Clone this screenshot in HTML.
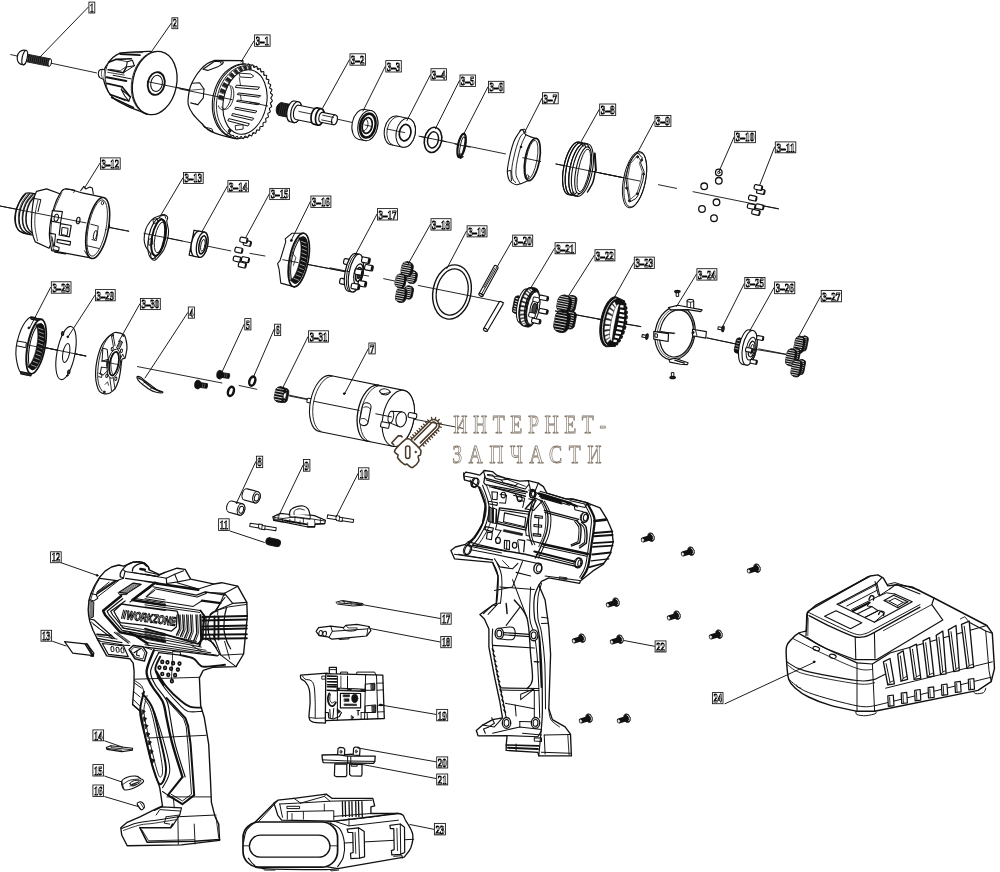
<!DOCTYPE html>
<html><head><meta charset="utf-8"><title>Parts diagram</title>
<style>
html,body{margin:0;padding:0;background:#fff;}
body{width:1000px;height:872px;overflow:hidden;font-family:"Liberation Sans",sans-serif;}
svg{display:block}
.lb{font-family:"Liberation Serif",serif;font-weight:bold;fill:#fff;stroke:#000;stroke-width:0.9px}
.wm{font-family:"Liberation Serif",serif;fill:#fff;stroke:#84786b;stroke-width:0.75px}
</style></head><body>
<svg width="1000" height="872" viewBox="0 0 1000 872" stroke-linecap="round" stroke-linejoin="round">
<rect x="0" y="0" width="1000" height="872" fill="#fff"/>
<defs><filter id="nf" x="0" y="0" width="1" height="1" filterUnits="objectBoundingBox"><feOffset dx="0" dy="0"/></filter></defs><line x1="10.7" y1="54.6" x2="96.5" y2="72.9" stroke="#111" stroke-width="0.9" />
<line x1="156.4" y1="83.3" x2="267.7" y2="106" stroke="#111" stroke-width="0.9" />
<line x1="300.5" y1="111" x2="368.6" y2="126.1" stroke="#111" stroke-width="0.9" />
<line x1="387.5" y1="130" x2="403.9" y2="132.4" stroke="#111" stroke-width="0.9" />
<line x1="419" y1="136.2" x2="505.5" y2="153.9" stroke="#111" stroke-width="0.9" />
<line x1="522.7" y1="157.7" x2="540.4" y2="161.5" stroke="#111" stroke-width="0.9" />
<line x1="556" y1="164" x2="640" y2="181.1" stroke="#111" stroke-width="0.9" />
<line x1="658.4" y1="184.7" x2="676.6" y2="188.4" stroke="#111" stroke-width="0.9" />
<line x1="693" y1="191.7" x2="778.3" y2="208.9" stroke="#111" stroke-width="0.9" />
<line x1="0" y1="206" x2="128.7" y2="231.2" stroke="#111" stroke-width="0.9" />
<line x1="166.5" y1="237.8" x2="230.8" y2="250.9" stroke="#111" stroke-width="0.9" />
<line x1="250" y1="253.4" x2="265" y2="256" stroke="#111" stroke-width="0.9" />
<line x1="282.8" y1="259.7" x2="368.6" y2="276.1" stroke="#111" stroke-width="0.9" />
<line x1="383.7" y1="278.7" x2="401.4" y2="282.4" stroke="#111" stroke-width="0.9" />
<line x1="418.5" y1="285.5" x2="503.8" y2="302.6" stroke="#111" stroke-width="0.9" />
<line x1="555.5" y1="311" x2="640.8" y2="326.6" stroke="#111" stroke-width="0.9" />
<line x1="661.5" y1="331.6" x2="674" y2="333.7" stroke="#111" stroke-width="0.9" />
<line x1="706.9" y1="337.9" x2="737.1" y2="344.2" stroke="#111" stroke-width="0.9" />
<line x1="755" y1="349.3" x2="787.8" y2="354.8" stroke="#111" stroke-width="0.9" />
<line x1="45.4" y1="347.7" x2="85.8" y2="356" stroke="#111" stroke-width="0.9" />
<line x1="137.5" y1="366.6" x2="222" y2="383" stroke="#111" stroke-width="0.9" />
<line x1="239.1" y1="385.5" x2="256.8" y2="389.3" stroke="#111" stroke-width="0.9" />
<line x1="289.6" y1="396.1" x2="361.5" y2="410.2" stroke="#111" stroke-width="0.9" />
<line x1="376.6" y1="412.7" x2="386.7" y2="414.5" stroke="#111" stroke-width="0.9" />
<line x1="411.9" y1="418.8" x2="463.2" y2="428.4" stroke="#111" stroke-width="0.9" />
<g transform="translate(38.5 60.2) rotate(11.39)" >
<path d="M-10.5,-3.7 L11.5,-3.7 L11.5,3.9 L-10.5,3.9Z" fill="#111" stroke="#111" stroke-width="0.8" />
<line x1="-9" y1="-3.3" x2="-9" y2="3.5" stroke="#666" stroke-width="0.5" />
<line x1="-7" y1="-3.3" x2="-7" y2="3.5" stroke="#666" stroke-width="0.5" />
<line x1="-5" y1="-3.3" x2="-5" y2="3.5" stroke="#666" stroke-width="0.5" />
<line x1="-3" y1="-3.3" x2="-3" y2="3.5" stroke="#666" stroke-width="0.5" />
<line x1="-1" y1="-3.3" x2="-1" y2="3.5" stroke="#666" stroke-width="0.5" />
<line x1="1" y1="-3.3" x2="1" y2="3.5" stroke="#666" stroke-width="0.5" />
<line x1="3" y1="-3.3" x2="3" y2="3.5" stroke="#666" stroke-width="0.5" />
<line x1="5" y1="-3.3" x2="5" y2="3.5" stroke="#666" stroke-width="0.5" />
<line x1="7" y1="-3.3" x2="7" y2="3.5" stroke="#666" stroke-width="0.5" />
<line x1="9" y1="-3.3" x2="9" y2="3.5" stroke="#666" stroke-width="0.5" />
<ellipse cx="11.6" cy="0.1" rx="1.6" ry="3.8" fill="#fff" stroke="#111" stroke-width="0.9" />
<path d="M-13.5,-2.6 L-10.5,-3.2 L-10.5,3.4 L-13.5,2.8Z" fill="#fff" stroke="#111" stroke-width="0.9" />
<path d="M-13.6,-7 C-20,-7.8 -22,-2 -21.5,1 C-21,6 -18,8 -14.2,7.4 " fill="#fff" stroke="#111" stroke-width="1.2" />
<ellipse cx="-14" cy="0.2" rx="2.5" ry="7.3" fill="#fff" stroke="#111" stroke-width="1.2" />
</g>
<path d="M150.5,51.3 C148.0,51.4 140.5,51.6 135.4,51.9 C130.4,52.2 124.1,52.1 120.3,53.1 C116.4,54.2 114.6,56.0 112.2,58.2 C109.8,60.3 107.5,64.2 106.1,66.2 C104.8,68.3 104.5,68.1 104.1,70.3 C103.7,72.5 103.3,76.5 103.6,79.4 C104.0,82.2 105.1,84.9 106.1,87.4 C107.2,89.9 108.7,92.5 110.2,94.5 C111.7,96.5 112.4,97.6 115.2,99.5 C118.1,101.5 123.5,104.2 127.3,106.1 C131.2,107.9 135.2,109.3 138.4,110.6 C141.6,112.0 145.2,113.6 146.5,114.2 L154.6,83Z" fill="#fff" stroke="#111" stroke-width="1.3" />
<path d="M104.1,69.5 C103.5,69.5 101.1,69.1 100.1,69.8 C99.1,70.4 98.4,72.0 98.3,73.3 C98.2,74.6 98.7,76.6 99.6,77.5 C100.5,78.5 102.9,78.9 103.6,79.2" fill="#fff" stroke="#111" stroke-width="1.1" />
<path d="M101.9,70.3 C101.8,70.9 101.2,73.0 101.3,74.3 C101.4,75.6 102.1,77.5 102.3,78.1" fill="none" stroke="#111" stroke-width="0.7" />
<path d="M107.2,65.2 C106.8,66.7 105.3,71.1 105.1,74.3 C105.0,77.5 105.6,81.5 106.1,84.4 C106.6,87.3 107.8,90.3 108.2,91.5" fill="none" stroke="#111" stroke-width="0.9" />
<path d="M120.3,54.1 L139.9,55.1" fill="none" stroke="#111" stroke-width="1.8" />
<path d="M119.3,53.1 L142.5,52.6" fill="none" stroke="#111" stroke-width="0.8" />
<path d="M108.7,62.2 L115.7,59.4 L131.4,58.7" fill="none" stroke="#111" stroke-width="1.6" />
<path d="M127.3,61.7 L132.4,60.2 L134.4,65.7 L126.3,67.0Z" fill="none" stroke="#111" stroke-width="1.1" />
<path d="M108.2,69.8 L123.3,72.8 L126.3,67.0" fill="none" stroke="#111" stroke-width="1.6" />
<path d="M123.3,72.8 L134.4,65.7" fill="none" stroke="#111" stroke-width="1.0" />
<path d="M115.7,59.4 L127.3,61.7" fill="none" stroke="#111" stroke-width="0.8" />
<path d="M110.2,69.3 L120.3,70.8 L125.3,67.2" fill="none" stroke="#111" stroke-width="0.8" />
<path d="M106.6,77.3 L126.3,81.1" fill="none" stroke="#111" stroke-width="2.0" />
<path d="M113.2,75.3 L130.9,78.8" fill="none" stroke="#111" stroke-width="1.0" />
<path d="M107.7,72.3 L124.3,75.1" fill="none" stroke="#111" stroke-width="0.8" />
<path d="M106.6,83.4 L122.3,86.9 L130.4,97.0" fill="none" stroke="#111" stroke-width="1.6" />
<path d="M121.3,89.4 L124.8,96.0 L128.8,101.0 L130.4,97.0Z" fill="none" stroke="#111" stroke-width="1.1" />
<path d="M110.2,94.5 L127.3,100.5 L128.8,101.0" fill="none" stroke="#111" stroke-width="1.6" />
<path d="M122.3,86.9 L121.3,89.4" fill="none" stroke="#111" stroke-width="0.8" />
<path d="M111.7,97.5 L133.4,107.6" fill="none" stroke="#111" stroke-width="1.6" />
<path d="M115.2,96.5 L124.8,100.5" fill="none" stroke="#111" stroke-width="0.8" />
<ellipse cx="153.3" cy="82.8" rx="21.6" ry="31.8" fill="#fff" stroke="#111" stroke-width="0.8" transform="rotate(11.39 153.3 82.8)" />
<ellipse cx="154.7" cy="83" rx="21.9" ry="32" fill="#fff" stroke="#111" stroke-width="1.3" transform="rotate(11.39 154.7 83)" />
<ellipse cx="156.2" cy="83.5" rx="8.4" ry="11.5" fill="none" stroke="#111" stroke-width="1.9" transform="rotate(11.39 156.2 83.5)" />
<ellipse cx="156.6" cy="83.4" rx="5.8" ry="8.1" fill="none" stroke="#111" stroke-width="1.0" transform="rotate(11.39 156.6 83.4)" />
<line x1="147.3" y1="81.6" x2="190" y2="90.3" stroke="#111" stroke-width="0.9" />
<path d="M243.0,60.6 L214.6,60.4 L214.6,60.4 C213.4,60.9 209.7,62.1 207.4,63.6 C205.1,65.1 203.1,66.8 201.0,69.2 C198.9,71.6 196.3,75.2 194.6,78.0 C192.9,80.8 191.6,83.2 190.6,86.0 C189.6,88.8 189.0,91.7 188.6,94.8 C188.2,97.9 187.5,101.2 188.2,104.4 C188.9,107.6 190.5,110.6 192.8,113.8 C195.1,117.0 199.0,120.8 202.0,123.7 C205.0,126.6 205.5,129.0 210.8,131.4 C216.1,133.9 229.0,137.3 233.9,138.4 C238.9,139.5 239.4,138.1 240.5,138.0Z" fill="#fff" stroke="#111" stroke-width="1.2" />
<path d="M192.0,83.3 L199.6,82.7 L204.0,89.0 L203.3,97.8 L197.7,104.8 L190.7,102.9" fill="none" stroke="#111" stroke-width="1.1" />
<path d="M189.5,90.3 L204.0,89.0" fill="none" stroke="#111" stroke-width="0.7" />
<path d="M195.1,103.5 L197.7,104.8" fill="none" stroke="#111" stroke-width="0.7" />
<path d="M203.0,69.2 L214.6,61.2 L223.4,62.0 L222.6,63.8 L218.6,66.4 L207.8,70.4Z" fill="none" stroke="#111" stroke-width="1.1" />
<path d="M220.2,62.0 L221.4,64.0" fill="none" stroke="#111" stroke-width="0.8" />
<path d="M202.0,123.7 L204.2,127.0 L213.0,131.8" fill="none" stroke="#111" stroke-width="1.0" />
<path d="M204.2,127.0 L211.9,128.8 L213.0,131.8" fill="none" stroke="#111" stroke-width="0.9" />
<ellipse cx="242" cy="101.3" rx="27.6" ry="37.6" fill="#fff" stroke="#111" stroke-width="1.0" transform="rotate(11.39 242 101.3)" />
<path d="M248.5,63.9 C248.8,64.3 249.5,66.3 250.2,66.4 C250.9,66.5 252.0,64.5 252.7,64.7 C253.3,64.8 253.4,67.2 254.0,67.5 C254.7,67.8 256.1,65.9 256.7,66.2 C257.3,66.6 257.0,69.0 257.7,69.4 C258.3,69.8 259.8,68.2 260.4,68.6 C260.9,69.0 260.4,71.4 261.0,71.9 C261.5,72.5 263.2,71.2 263.7,71.7 C264.2,72.2 263.4,74.5 263.9,75.2 C264.4,75.8 266.1,74.8 266.6,75.4 C267.0,76.1 266.0,78.2 266.3,79.0 C266.7,79.7 268.6,79.0 268.9,79.8 C269.2,80.5 268.0,82.5 268.3,83.3 C268.6,84.1 270.5,83.8 270.7,84.6 C270.9,85.3 269.5,87.1 269.7,87.9 C269.9,88.8 271.8,88.9 271.9,89.7 C272.0,90.5 270.4,92.0 270.5,92.9 C270.6,93.8 272.4,94.3 272.5,95.1 C272.5,96.0 270.8,97.2 270.8,98.1 C270.8,99.0 272.5,99.8 272.4,100.7 C272.3,101.6 270.5,102.4 270.4,103.4 C270.3,104.3 271.8,105.4 271.7,106.3 C271.5,107.1 269.6,107.7 269.4,108.6 C269.2,109.5 270.6,110.9 270.3,111.7 C270.1,112.6 268.2,112.7 267.9,113.6 C267.5,114.5 268.7,116.2 268.4,117.0 C268.0,117.8 266.2,117.6 265.8,118.4 C265.4,119.2 266.3,121.1 265.9,121.9 C265.5,122.6 263.7,122.0 263.2,122.8 C262.7,123.5 263.4,125.6 262.9,126.3 C262.4,126.9 260.7,126.0 260.2,126.7 C259.6,127.3 260.0,129.6 259.5,130.2 C258.9,130.7 257.4,129.5 256.8,130.0 C256.2,130.6 256.3,132.9 255.7,133.4 C255.1,133.8 253.8,132.3 253.1,132.7 C252.4,133.2 252.3,135.6 251.7,135.9 C251.0,136.2 249.9,134.5 249.2,134.8 C248.5,135.0 248.1,137.5 247.4,137.7 C246.8,137.9 245.9,135.9 245.2,136.0 C244.5,136.2 243.8,138.5 243.1,138.6 C242.4,138.7 241.8,136.5 241.1,136.5 C240.4,136.5 239.5,138.8 238.8,138.7 C238.2,138.7 237.8,136.4 237.1,136.2 C236.4,136.1 235.3,138.2 234.6,138.0 C234.0,137.8 233.9,135.4 233.2,135.2 C232.6,134.9 231.2,136.8 230.6,136.5 C230.0,136.2 230.2,133.8 229.6,133.4 C229.0,133.0 227.3,134.1 226.9,134.2" fill="#fff" stroke="#111" stroke-width="1.1" />
<path d="M230.6,137.0 L227.4,135.7 L224.4,133.8 L221.7,131.5 L219.3,128.6 L217.1,125.4 L215.4,121.8 L214.0,117.8 L213.0,113.6 L212.4,109.2 L212.3,104.7 L212.5,100.1 L213.2,95.5 L214.4,91.1 L215.9,86.7 L217.8,82.6 L220.0,78.8 L222.5,75.3 L225.3,72.2 L228.4,69.6 L231.6,67.4 L235.0,65.7 L238.4,64.6 L241.9,64.0 L245.3,64.0" fill="none" stroke="#111" stroke-width="1.1" />
<path d="M233.6,136.0 L230.6,134.7 L227.8,132.9 L225.3,130.7 L223.0,128.0 L221.0,124.8 L219.3,121.4 L218.0,117.6 L217.1,113.5 L216.6,109.3 L216.4,105.0 L216.7,100.6 L217.4,96.2 L218.5,91.9 L219.9,87.7 L221.7,83.7 L223.8,80.0 L226.2,76.7 L228.9,73.7 L231.8,71.1 L234.8,69.0 L238.0,67.4 L241.2,66.3 L244.5,65.7 L247.8,65.7" fill="none" stroke="#111" stroke-width="0.9" />
<ellipse cx="245" cy="102" rx="21.6" ry="32.6" fill="#fff" stroke="#111" stroke-width="1.1" transform="rotate(11.39 245 102)" />
<path d="M218.5,98.7 L218.8,96.9 L219.2,95.1 L223.9,96.6 L223.5,98.3 L223.2,99.9Z" fill="#222" stroke="#111" stroke-width="0.7" />
<path d="M219.9,92.1 L220.5,90.3 L221.1,88.6 L225.6,90.6 L225.1,92.2 L224.6,93.8Z" fill="#222" stroke="#111" stroke-width="0.7" />
<path d="M222.3,85.7 L223.1,84.1 L223.9,82.5 L228.1,85.0 L227.4,86.5 L226.7,88.0Z" fill="#222" stroke="#111" stroke-width="0.7" />
<path d="M225.4,80.0 L226.4,78.6 L227.4,77.2 L231.2,80.0 L230.3,81.3 L229.4,82.6Z" fill="#222" stroke="#111" stroke-width="0.7" />
<path d="M229.2,75.0 L230.4,73.8 L231.6,72.7 L234.8,75.9 L233.8,76.9 L232.8,78.0Z" fill="#222" stroke="#111" stroke-width="0.7" />
<path d="M233.6,71.0 L234.9,70.1 L236.1,69.3 L238.8,72.7 L237.7,73.5 L236.6,74.3Z" fill="#222" stroke="#111" stroke-width="0.7" />
<path d="M238.3,68.1 L239.6,67.6 L241.0,67.1 L243.0,70.6 L241.8,71.0 L240.7,71.6Z" fill="#222" stroke="#111" stroke-width="0.7" />
<path d="M243.2,66.5 L244.6,66.2 L246.0,66.1 L247.3,69.6 L246.1,69.8 L244.9,70.0Z" fill="#222" stroke="#111" stroke-width="0.7" />
<path d="M248.2,66.1 L249.5,66.2 L250.8,66.4 L251.5,69.8 L250.4,69.7 L249.2,69.6Z" fill="#222" stroke="#111" stroke-width="0.7" />
<path d="M231.5,85.9 L232.2,86.8 L232.7,87.8 L233.2,89.0 L233.5,90.4 L233.7,91.9 L233.8,93.5 L233.8,95.2 L233.6,96.9 L233.3,98.6 L232.9,100.2 L232.4,101.8 L231.7,103.3 L231.0,104.7 L230.2,106.0 L229.3,107.1 L228.4,107.9 L227.5,108.6 L226.6,109.1 L225.6,109.3 L224.7,109.3 L223.9,109.0 L223.0,108.6 L222.3,107.9 L221.7,107.0" fill="none" stroke="#111" stroke-width="0.9" />
<path d="M228.2,83.7 L229.1,84.4 L229.8,85.4 L230.4,86.6 L230.9,88.0 L231.2,89.7 L231.4,91.5 L231.4,93.5 L231.2,95.5 L230.9,97.5 L230.5,99.5 L229.9,101.4 L229.1,103.3 L228.3,104.9 L227.4,106.4 L226.4,107.6 L225.4,108.6 L224.3,109.3 L223.3,109.7 L222.3,109.8 L221.3,109.6 L220.4,109.0 L219.6,108.2 L218.9,107.1 L218.4,105.8" fill="none" stroke="#111" stroke-width="0.9" />
<path d="M236.8,85.2 L259.5,87.1 L258.0,89.4 L235.8,87.5Z" fill="#fff" stroke="#111" stroke-width="1.0" />
<path d="M238.7,93.0 L260.7,95.7 L259.2,97.2 L237.6,94.6Z" fill="#fff" stroke="#111" stroke-width="1.0" />
<path d="M238.0,100.1 L259.5,103.5 L258.0,104.8 L237.0,101.4Z" fill="#fff" stroke="#111" stroke-width="1.0" />
<path d="M236.1,107.3 L256.9,111.1 L255.4,112.9 L235.1,109.1Z" fill="#fff" stroke="#111" stroke-width="1.0" />
<path d="M233.0,113.6 L253.8,118.3 L252.3,120.3 L232.0,115.6Z" fill="#fff" stroke="#111" stroke-width="1.0" />
<path d="M229.2,118.7 L249.4,123.7 L247.9,126.0 L228.2,120.9Z" fill="#fff" stroke="#111" stroke-width="1.0" />
<path d="M239.3,73.2 L250.6,73.9 L253.8,76.1 L251.3,77.7 L240.5,77.0Z" fill="none" stroke="#111" stroke-width="0.9" />
<path d="M235.5,125.6 L243.1,124.6 L243.1,129.1 L236.1,130.0Z" fill="none" stroke="#111" stroke-width="0.9" />
<path d="M239.3,77.7 L240.5,85.2" fill="none" stroke="#111" stroke-width="0.8" />
<path d="M240.5,95.3 L241.2,100.4" fill="none" stroke="#111" stroke-width="0.8" />
<ellipse cx="229.6" cy="130.8" rx="1.3" ry="1.8" fill="#222" stroke="#111" stroke-width="0.8" transform="rotate(11.39 229.6 130.8)" />
<line x1="250" y1="102.2" x2="267.7" y2="106" stroke="#111" stroke-width="0.9" />
<line x1="180" y1="89" x2="232" y2="99.6" stroke="#111" stroke-width="0.9" />
<g transform="translate(283 109.5) rotate(11.39)" >
<path d="M-3,-6.4 L8,-6.4 L8,6.6 L-3,6.6 C-8,5 -8,-5 -3,-6.4Z" fill="#111" stroke="#111" stroke-width="0.9" />
<line x1="-3" y1="-5.6" x2="-3" y2="5.8" stroke="#555" stroke-width="0.4" />
<line x1="-1" y1="-5.6" x2="-1" y2="5.8" stroke="#555" stroke-width="0.4" />
<line x1="1" y1="-5.6" x2="1" y2="5.8" stroke="#555" stroke-width="0.4" />
<line x1="3" y1="-5.6" x2="3" y2="5.8" stroke="#555" stroke-width="0.4" />
<line x1="5" y1="-5.6" x2="5" y2="5.8" stroke="#555" stroke-width="0.4" />
<line x1="7" y1="-5.6" x2="7" y2="5.8" stroke="#555" stroke-width="0.4" />
<path d="M9.50,-10.60 L13.50,-10.60 A5.30,10.60 0 0 1 13.50,10.60 L9.50,10.60 A5.30,10.60 0 0 1 9.50,-10.60Z" fill="#fff" stroke="#111" stroke-width="1.2" />
<ellipse cx="13.5" cy="0" rx="5.3" ry="10.6" fill="#fff" stroke="#111" stroke-width="1.2" />
<path d="M14.50,-7.30 L36.00,-7.30 A3.65,7.30 0 0 1 36.00,7.30 L14.50,7.30 A3.65,7.30 0 0 1 14.50,-7.30Z" fill="#fff" stroke="#111" stroke-width="1.1" />
<line x1="16" y1="-1.2" x2="33" y2="-1.2" stroke="#111" stroke-width="0.8" />
<path d="M33.00,-8.30 L37.50,-8.30 A4.15,8.30 0 0 1 37.50,8.30 L33.00,8.30 A4.15,8.30 0 0 1 33.00,-8.30Z" fill="#fff" stroke="#111" stroke-width="1.7" />
<ellipse cx="37.5" cy="0" rx="4.1" ry="8.3" fill="#fff" stroke="#111" stroke-width="1.7" />
<path d="M39.50,-5.00 L52.50,-5.00 A2.75,5.00 0 0 1 52.50,5.00 L39.50,5.00 A2.75,5.00 0 0 1 39.50,-5.00Z" fill="#fff" stroke="#111" stroke-width="1.1" />
<ellipse cx="52.5" cy="0" rx="2.75" ry="5" fill="#fff" stroke="#111" stroke-width="1.1" />
<line x1="40" y1="-2.2" x2="51" y2="-2.2" stroke="#111" stroke-width="0.8" />
<line x1="40" y1="2.6" x2="51" y2="2.6" stroke="#111" stroke-width="0.8" />
</g>
<g transform="translate(367.8 125.6) rotate(11.39)" >
<path d="M-6.00,-15.30 L0.00,-15.30 A9.79,15.30 0 0 1 0.00,15.30 L-6.00,15.30 A9.79,15.30 0 0 1 -6.00,-15.30Z" fill="#fff" stroke="#111" stroke-width="1.0" />
<ellipse cx="0" cy="0" rx="9.8" ry="15.3" fill="#fff" stroke="#111" stroke-width="1.0" />
<ellipse cx="0" cy="0" rx="7.6" ry="12.1" fill="#fff" stroke="#111" stroke-width="2.6" />
<ellipse cx="-0.6" cy="0" rx="4.9" ry="8" fill="#fff" stroke="#111" stroke-width="1.8" />
<path d="M-2.5,-6 C1,-3 1,3 -2.5,6" fill="none" stroke="#111" stroke-width="0.8" />
<line x1="-3" y1="0" x2="3" y2="0" stroke="#111" stroke-width="0.8" />
</g>
<g transform="translate(405.7 132.8) rotate(11.39)" >
<path d="M-12.00,-14.70 L0.00,-14.70 A9.55,14.70 0 0 1 0.00,14.70 L-12.00,14.70 A9.55,14.70 0 0 1 -12.00,-14.70Z" fill="#fff" stroke="#111" stroke-width="1.0" />
<path d="M-10.4,-14.6 A9.5,14.7 0 0 0 -10.4,14.6" fill="none" stroke="#111" stroke-width="0.8" />
<ellipse cx="0" cy="0" rx="9.5" ry="14.7" fill="#fff" stroke="#111" stroke-width="1.0" />
<ellipse cx="-0.6" cy="0" rx="5.7" ry="8.3" fill="#fff" stroke="#111" stroke-width="1.7" />
<line x1="-19" y1="0" x2="-1" y2="0" stroke="#111" stroke-width="0.8" />
</g>
<ellipse cx="433" cy="139.9" rx="8.6" ry="12.7" fill="#fff" stroke="#111" stroke-width="1.6" transform="rotate(11.39 433 139.9)" />
<ellipse cx="433" cy="139.9" rx="5.4" ry="8.2" fill="#fff" stroke="#111" stroke-width="1.5" transform="rotate(11.39 433 139.9)" />
<line x1="420" y1="136.4" x2="446" y2="141.6" stroke="#111" stroke-width="0.9" />
<ellipse cx="461.6" cy="145.5" rx="3.6" ry="12" fill="#fff" stroke="#111" stroke-width="2.2" transform="rotate(11.39 461.6 145.5)" />
<ellipse cx="462.3" cy="145.6" rx="1.9" ry="8.8" fill="#fff" stroke="#111" stroke-width="1.0" transform="rotate(11.39 462.3 145.6)" />
<path d="M459.3,154 L460.6,158.2 L463,156.6" fill="none" stroke="#111" stroke-width="1.4" />
<line x1="455" y1="144.1" x2="470" y2="147.1" stroke="#111" stroke-width="0.9" />
<path d="M535.4,138.4 C533.8,137.8 528.1,136.3 525.9,134.8 C523.7,133.4 523.5,129.6 522.1,129.6 C520.8,129.5 519.1,132.6 517.7,134.6 C516.3,136.6 515.1,138.7 513.9,141.5 C512.8,144.4 511.6,148.5 510.8,151.6 C509.9,154.8 509.4,157.7 508.9,160.5 C508.3,163.2 507.9,165.9 507.6,168.0 C507.4,170.1 507.2,171.2 507.4,173.1 C507.6,175.0 508.1,177.7 508.9,179.4 C509.7,181.0 510.8,182.0 512.0,182.9 C513.3,183.8 514.8,184.6 516.4,184.7 C518.1,184.7 520.1,183.8 522.1,183.2 C524.1,182.5 527.4,181.1 528.4,180.6Z" fill="#fff" stroke="#111" stroke-width="1.1" />
<path d="M524.9,131.7 C524.1,132.6 521.7,134.4 520.2,137.1 C518.8,139.8 517.3,144.4 516.2,147.8 C515.1,151.3 514.4,154.8 513.7,157.9 C513.0,161.1 512.3,164.0 512.0,166.8 C511.7,169.5 511.6,172.1 511.8,174.3 C512.0,176.5 512.6,178.6 513.3,180.0 C514.0,181.4 515.4,182.1 515.8,182.5" fill="none" stroke="#111" stroke-width="0.9" />
<path d="M525.9,134.8 C525.3,136.2 523.3,139.8 522.1,142.8 C521.0,145.8 519.9,149.1 519.0,152.9 C518.0,156.7 516.9,161.7 516.4,165.5 C516.0,169.3 515.6,172.5 516.2,175.6 C516.8,178.6 519.6,182.4 520.2,183.8" fill="none" stroke="#111" stroke-width="0.9" />
<path d="M519.6,130.8 L520.9,129.6 L525.0,129.2 L525.9,132.7" fill="none" stroke="#111" stroke-width="1.0" />
<path d="M507.4,171.2 L510.8,170.3 L511.4,180.6" fill="none" stroke="#111" stroke-width="1.0" />
<ellipse cx="532.3" cy="159.5" rx="7.2" ry="21.4" fill="#fff" stroke="#111" stroke-width="1.7" transform="rotate(10.39 532.3 159.5)" />
<ellipse cx="531.6" cy="159.6" rx="5.4" ry="19.6" fill="none" stroke="#111" stroke-width="0.8" transform="rotate(10.39 531.6 159.6)" />
<ellipse cx="520.9" cy="147" rx="0.8" ry="0.8" fill="#111" stroke="#111" stroke-width="0.8" />
<ellipse cx="527.6" cy="176.4" rx="1.3" ry="1.6" fill="none" stroke="#111" stroke-width="0.8" />
<line x1="522.7" y1="157.7" x2="540.4" y2="161.5" stroke="#111" stroke-width="0.9" />
<ellipse cx="573.6" cy="168.3" rx="9.9" ry="26.8" fill="#fff" stroke="#111" stroke-width="1.1" transform="rotate(11.39 573.6 168.3)" />
<ellipse cx="576.25" cy="168.83" rx="9.9" ry="26.8" fill="#fff" stroke="#111" stroke-width="1.1" transform="rotate(11.39 576.25 168.83)" />
<ellipse cx="579.78" cy="169.54" rx="9.9" ry="26.8" fill="#fff" stroke="#111" stroke-width="1.1" transform="rotate(11.39 579.78 169.54)" />
<ellipse cx="582.42" cy="170.08" rx="9.9" ry="26.8" fill="#fff" stroke="#111" stroke-width="1.1" transform="rotate(11.39 582.42 170.08)" />
<path d="M573.9,192.0 L572.3,193.4 L570.8,194.3 L569.4,194.6 L568.0,194.5 L566.7,193.8 L565.6,192.7 L564.6,191.1 L563.8,189.0 L563.2,186.5 L562.8,183.7 L562.6,180.6 L562.6,177.2 L562.8,173.7 L563.3,170.0 L563.9,166.3 L564.7,162.7 L565.7,159.2 L566.9,155.8 L568.2,152.7 L569.6,149.9 L571.0,147.5 L572.6,145.4 L574.1,143.8 L575.6,142.7 L577.1,142.1 L578.6,142.0 L579.9,142.4 L581.1,143.3 L582.1,144.7 L583.0,146.5" fill="none" stroke="#111" stroke-width="1.1" />
<path d="M576.5,192.6 L575.0,193.9 L573.5,194.8 L572.0,195.2 L570.6,195.0 L569.3,194.4 L568.2,193.2 L567.2,191.6 L566.4,189.5 L565.8,187.0 L565.4,184.2 L565.2,181.1 L565.2,177.7 L565.5,174.2 L565.9,170.6 L566.5,166.9 L567.4,163.2 L568.4,159.7 L569.5,156.4 L570.8,153.3 L572.2,150.4 L573.7,148.0 L575.2,146.0 L576.7,144.4 L578.3,143.2 L579.8,142.6 L581.2,142.5 L582.5,142.9 L583.7,143.8 L584.8,145.2 L585.7,147.1" fill="none" stroke="#111" stroke-width="1.1" />
<path d="M580.0,193.3 L578.5,194.6 L577.0,195.5 L575.5,195.9 L574.1,195.7 L572.9,195.1 L571.7,193.9 L570.8,192.3 L570.0,190.2 L569.3,187.8 L568.9,184.9 L568.7,181.8 L568.8,178.4 L569.0,174.9 L569.4,171.3 L570.1,167.6 L570.9,164.0 L571.9,160.4 L573.1,157.1 L574.4,154.0 L575.7,151.2 L577.2,148.7 L578.7,146.7 L580.3,145.1 L581.8,144.0 L583.3,143.3 L584.7,143.2 L586.1,143.6 L587.3,144.5 L588.3,145.9 L589.2,147.8" fill="none" stroke="#111" stroke-width="1.1" />
<ellipse cx="583.21" cy="170.24" rx="7.2" ry="23.8" fill="none" stroke="#111" stroke-width="1.1" transform="rotate(11.39 583.21 170.24)" />
<ellipse cx="583.8" cy="170.35" rx="5.4" ry="21.6" fill="none" stroke="#111" stroke-width="0.9" transform="rotate(11.39 583.8 170.35)" />
<line x1="594.8" y1="153.6" x2="595.9" y2="170.5" stroke="#111" stroke-width="2.0" />
<path d="M595.2,171.0 C594.8,172.8 594.3,178.5 593.0,182.0 C591.7,185.5 588.4,190.3 587.5,192.0" fill="none" stroke="#111" stroke-width="1.5" />
<line x1="556" y1="164" x2="640" y2="181.1" stroke="#111" stroke-width="0.9" />
<ellipse cx="634.6" cy="179.7" rx="11" ry="28.6" fill="#fff" stroke="#111" stroke-width="1.0" transform="rotate(11.39 634.6 179.7)" />
<ellipse cx="635.3" cy="179.8" rx="10.2" ry="27.6" fill="none" stroke="#111" stroke-width="0.8" transform="rotate(11.39 635.3 179.8)" />
<path d="M637.8,153.0 L642.3,157.8 L640.6,162.9 L644.1,171.7 L642.9,180.5 L637.8,195.7 L635.9,198.5 L629.6,202.0 L627.1,188.1 L625.9,178.0 L629.0,163.5 L633.4,156.6Z" fill="none" stroke="#111" stroke-width="1.0" />
<path d="M637.8,155.9 L640.4,160.4 L639.4,163.5 L642.3,171.7 L641.0,180.5 L636.8,193.8 L630.3,199.5 L628.4,188.1 L627.5,178.0 L630.3,164.1Z" fill="none" stroke="#111" stroke-width="0.7" />
<ellipse cx="637.59" cy="156.96" rx="0.9" ry="1.1" fill="#333" stroke="#111" stroke-width="0.8" />
<ellipse cx="641.62" cy="160.11" rx="0.9" ry="1.1" fill="#333" stroke="#111" stroke-width="0.8" />
<ellipse cx="643.52" cy="174.24" rx="0.9" ry="1.1" fill="#333" stroke="#111" stroke-width="0.8" />
<ellipse cx="637.21" cy="193.79" rx="0.9" ry="1.1" fill="#333" stroke="#111" stroke-width="0.8" />
<ellipse cx="629.26" cy="200.73" rx="0.9" ry="1.1" fill="#333" stroke="#111" stroke-width="0.8" />
<ellipse cx="626.49" cy="188.11" rx="0.9" ry="1.1" fill="#333" stroke="#111" stroke-width="0.8" />
<line x1="600" y1="173" x2="640" y2="181.1" stroke="#111" stroke-width="0.9" />
<ellipse cx="718.8" cy="172.5" rx="3.3" ry="3.3" fill="#fff" stroke="#111" stroke-width="1.3" />
<ellipse cx="718.8" cy="180.8" rx="3.3" ry="3.3" fill="#fff" stroke="#111" stroke-width="1.3" />
<ellipse cx="704.2" cy="186.3" rx="3.3" ry="3.3" fill="#fff" stroke="#111" stroke-width="1.3" />
<ellipse cx="716.5" cy="202.3" rx="3.3" ry="3.3" fill="#fff" stroke="#111" stroke-width="1.3" />
<ellipse cx="702" cy="209" rx="3.3" ry="3.3" fill="#fff" stroke="#111" stroke-width="1.3" />
<ellipse cx="714" cy="218.2" rx="3.3" ry="3.3" fill="#fff" stroke="#111" stroke-width="1.3" />
<ellipse cx="718.8" cy="172.5" rx="1.2" ry="1.2" fill="none" stroke="#111" stroke-width="0.9" />
<g transform="translate(760.8 191.5) rotate(12)" >
<rect x="-4.1" y="-2.4" width="8.2" height="4.8" rx="1.4" fill="#fff" stroke="#111" stroke-width="1.2"/>
<line x1="3.4" y1="-1.8" x2="3.4" y2="1.8" stroke="#111" stroke-width="1.3" />
</g>
<g transform="translate(758.3 187.5) rotate(12)" >
<rect x="-4.1" y="-2.4" width="8.2" height="4.8" rx="1.4" fill="#fff" stroke="#111" stroke-width="1.2"/>
<line x1="3.4" y1="-1.8" x2="3.4" y2="1.8" stroke="#111" stroke-width="1.3" />
</g>
<g transform="translate(752.7 198.1) rotate(12)" >
<rect x="-4.1" y="-2.4" width="8.2" height="4.8" rx="1.4" fill="#fff" stroke="#111" stroke-width="1.2"/>
<line x1="3.4" y1="-1.8" x2="3.4" y2="1.8" stroke="#111" stroke-width="1.3" />
</g>
<g transform="translate(751.5 206.5) rotate(12)" >
<rect x="-4.1" y="-2.4" width="8.2" height="4.8" rx="1.4" fill="#fff" stroke="#111" stroke-width="1.2"/>
<line x1="3.4" y1="-1.8" x2="3.4" y2="1.8" stroke="#111" stroke-width="1.3" />
</g>
<g transform="translate(759.7 206.8) rotate(12)" >
<rect x="-4.1" y="-2.4" width="8.2" height="4.8" rx="1.4" fill="#fff" stroke="#111" stroke-width="1.2"/>
<line x1="3.4" y1="-1.8" x2="3.4" y2="1.8" stroke="#111" stroke-width="1.3" />
</g>
<g transform="translate(755.9 212.4) rotate(12)" >
<rect x="-4.1" y="-2.4" width="8.2" height="4.8" rx="1.4" fill="#fff" stroke="#111" stroke-width="1.2"/>
<line x1="3.4" y1="-1.8" x2="3.4" y2="1.8" stroke="#111" stroke-width="1.3" />
</g>
<line x1="762" y1="205.6" x2="778.5" y2="208.7" stroke="#111" stroke-width="0.9" />
<path d="M36.5,194.0 C34.7,193.9 28.8,191.9 25.8,193.3 C22.9,194.8 20.6,199.5 18.9,202.8 C17.1,206.1 16.0,209.5 15.3,212.9 C14.7,216.2 14.6,220.1 15.1,223.0 C15.6,225.8 16.8,228.2 18.2,229.9 C19.7,231.6 21.1,232.1 23.9,233.1 C26.8,234.0 33.4,235.2 35.3,235.6Z" fill="#fff" stroke="#111" stroke-width="1.1" />
<path d="M25.8,193.3 C24.7,195.0 20.8,199.8 19.1,203.0 C17.5,206.3 16.4,209.6 15.8,212.9 C15.3,216.2 15.1,220.1 15.6,223.0 C16.1,225.9 17.2,228.6 18.6,230.3 C20.0,232.0 23.0,232.8 23.9,233.3" fill="none" stroke="#111" stroke-width="1.25" />
<path d="M29.6,193.7 C28.5,195.3 24.6,199.9 22.9,203.0 C21.3,206.2 20.2,209.6 19.6,212.9 C19.0,216.2 18.9,220.1 19.4,223.0 C19.8,225.9 21.0,228.5 22.4,230.3 C23.8,232.1 26.8,233.2 27.7,233.8" fill="none" stroke="#111" stroke-width="1.25" />
<path d="M33.1,194.1 C32.0,195.6 28.1,199.9 26.4,203.0 C24.8,206.2 23.8,209.6 23.2,212.9 C22.6,216.2 22.4,220.1 22.9,223.0 C23.4,225.9 24.6,228.4 25.9,230.3 C27.3,232.2 30.4,233.5 31.2,234.2" fill="none" stroke="#111" stroke-width="1.25" />
<path d="M36.5,194.4 C35.4,195.8 31.5,200.0 29.8,203.0 C28.2,206.1 27.2,209.6 26.6,212.9 C26.0,216.2 25.9,220.1 26.3,223.0 C26.8,225.9 28.0,228.4 29.3,230.3 C30.7,232.2 33.8,233.9 34.6,234.6" fill="none" stroke="#111" stroke-width="1.25" />
<path d="M27.6,194.2 C26.6,195.7 23.1,199.9 21.6,203.0 C20.2,206.2 19.3,209.7 18.7,212.9 C18.2,216.1 18.3,219.6 18.6,222.3 C19.0,225.1 19.7,227.6 20.9,229.3 C22.1,231.0 24.9,232.0 25.7,232.6" fill="none" stroke="#111" stroke-width="0.7" />
<path d="M31.4,194.2 C30.4,195.7 26.9,199.9 25.4,203.0 C24.0,206.2 23.0,209.7 22.5,212.9 C22.0,216.1 22.0,219.6 22.4,222.3 C22.8,225.1 23.5,227.6 24.7,229.3 C25.9,231.0 28.7,232.0 29.5,232.6" fill="none" stroke="#111" stroke-width="0.7" />
<path d="M34.9,194.2 C33.9,195.7 30.4,199.9 29.0,203.0 C27.5,206.2 26.6,209.7 26.1,212.9 C25.6,216.1 25.6,219.6 25.9,222.3 C26.3,225.1 27.0,227.6 28.2,229.3 C29.4,231.0 32.2,232.0 33.0,232.6" fill="none" stroke="#111" stroke-width="0.7" />
<path d="M60.5,194.0 L46.6,188.9 L36.5,191.4 L36.5,191.4 C36.1,192.7 34.5,195.6 33.8,199.0 C33.0,202.4 32.4,207.0 32.0,211.6 C31.6,216.2 31.3,222.8 31.5,226.8 C31.7,230.8 32.4,233.1 33.0,235.6 C33.6,238.1 34.9,240.8 35.3,241.9 L49.1,248.2 L60.5,220.5 Z" fill="#fff" stroke="#111" stroke-width="1.2" />
<path d="M33.4,198.4 L40.9,199.6 L38.0,211.6" fill="none" stroke="#111" stroke-width="1.0" />
<path d="M38.0,200.3 C37.6,202.4 35.8,208.5 35.3,212.9 C34.8,217.3 34.6,222.1 35.0,226.8 C35.4,231.4 37.1,238.3 37.5,240.6" fill="none" stroke="#111" stroke-width="0.8" />
<path d="M102.1,197.1 C99.0,196.4 89.3,194.4 83.2,193.1 C77.1,191.7 69.5,188.6 65.5,188.9 C61.6,189.3 61.1,192.3 59.2,195.2 C57.3,198.2 55.6,202.4 54.2,206.6 C52.8,210.8 51.5,215.6 50.7,220.5 C49.9,225.3 49.2,230.5 49.4,235.6 C49.6,240.6 51.3,248.2 51.7,250.7 L93.3,258.3 L109.7,226.8 Z" fill="#fff" stroke="#111" stroke-width="1.2" />
<path d="M61.8,192.7 C60.7,195.0 57.1,202.0 55.5,206.6 C53.8,211.2 52.7,215.6 51.9,220.5 C51.2,225.3 50.6,230.7 50.9,235.6 C51.2,240.5 53.1,247.7 53.6,250.1" fill="none" stroke="#111" stroke-width="0.8" />
<path d="M80.7,190.8 L83.8,186.4 L85.7,188.9 L89.8,187.0 L92.3,187.9 L93.3,194.0" fill="#fff" stroke="#111" stroke-width="1.1" />
<path d="M65.5,188.9 L75.0,190.2 L73.7,192.5" fill="none" stroke="#111" stroke-width="0.9" />
<ellipse cx="97.7" cy="228" rx="10.6" ry="31" fill="#fff" stroke="#111" stroke-width="1.6" transform="rotate(11.1 97.7 228)" />
<ellipse cx="97.2" cy="228" rx="8.8" ry="28.6" fill="none" stroke="#111" stroke-width="0.8" transform="rotate(11.1 97.2 228)" />
<path d="M90.8,224.2 L98.3,226.1 L96.4,240.6 L92.0,239.6" fill="none" stroke="#111" stroke-width="0.9" />
<ellipse cx="95.2" cy="235" rx="1.6" ry="4.6" fill="none" stroke="#111" stroke-width="0.9" transform="rotate(11.1 95.2 235)" />
<path d="M84.5,250.7 L88.2,257.0" fill="none" stroke="#111" stroke-width="0.9" />
<path d="M87.0,245.7 L99.0,248.5" fill="none" stroke="#111" stroke-width="0.9" />
<ellipse cx="102.5" cy="203" rx="1.2" ry="1.8" fill="none" stroke="#111" stroke-width="0.8" transform="rotate(11.1 102.5 203)" />
<path d="M52.3,210.6 L62.4,211.6 L60.5,223.0 L51.4,221.1Z" fill="#fff" stroke="#111" stroke-width="1.1" />
<ellipse cx="56.3" cy="217.8" rx="2.1" ry="3.6" fill="none" stroke="#111" stroke-width="1.0" transform="rotate(11.1 56.3 217.8)" />
<ellipse cx="78.2" cy="220.5" rx="1.7" ry="3.3" fill="none" stroke="#111" stroke-width="1.2" transform="rotate(11.1 78.2 220.5)" />
<path d="M60.5,223.6 L71.2,225.5 L69.3,236.9 L59.2,235.0Z" fill="none" stroke="#111" stroke-width="1.2" />
<path d="M62.4,227.4 L68.1,228.3 L67.1,235.6 L61.8,234.6Z" fill="none" stroke="#111" stroke-width="1.0" />
<path d="M57.3,239.4 L70.6,241.6 L70.0,245.1 L57.0,242.5Z" fill="none" stroke="#111" stroke-width="1.1" />
<path d="M49.4,233.1 L55.5,234.3 L54.4,245.7 L59.2,247.6 L58.6,250.7 L52.9,249.7" fill="none" stroke="#111" stroke-width="1.1" />
<path d="M51.9,236.9 L53.9,246.9" fill="none" stroke="#111" stroke-width="1.0" />
<path d="M54.8,252.0 L65.5,253.9" fill="none" stroke="#111" stroke-width="1.4" />
<line x1="0" y1="206" x2="86" y2="222.9" stroke="#111" stroke-width="0.9" />
<line x1="110" y1="227.6" x2="128.7" y2="231.2" stroke="#111" stroke-width="0.9" />
<path d="M159.0,215.9 C160.6,215.3 162.6,214.4 164.1,214.6 C165.5,214.8 167.1,216.0 167.6,217.1 C168.1,218.3 166.7,219.3 166.8,221.5 C167.0,223.7 168.3,227.6 168.5,230.4 C168.6,233.1 168.6,234.8 167.8,237.9 C167.1,241.1 165.4,246.3 164.1,249.3 C162.7,252.2 161.1,253.8 159.6,255.6 C158.2,257.4 156.6,259.5 155.2,260.0 C153.9,260.5 152.3,259.9 151.4,258.7 C150.6,257.6 151.1,255.1 150.2,253.1 C149.2,251.1 146.8,249.1 145.8,246.8 C144.8,244.4 144.1,242.1 144.1,239.2 C144.1,236.2 144.8,232.0 145.8,229.1 C146.8,226.2 148.7,223.4 150.2,221.5 C151.7,219.6 153.1,218.7 154.6,217.7 C156.1,216.8 157.4,216.4 159.0,215.9Z" fill="#fff" stroke="#111" stroke-width="1.1" />
<ellipse cx="156.2" cy="238.2" rx="7.6" ry="20.6" fill="none" stroke="#111" stroke-width="1.0" transform="rotate(11.1 156.2 238.2)" />
<ellipse cx="158.6" cy="237.6" rx="6.6" ry="18.4" fill="none" stroke="#111" stroke-width="2.0" transform="rotate(11.1 158.6 237.6)" />
<ellipse cx="160" cy="237.4" rx="5" ry="15.6" fill="none" stroke="#111" stroke-width="0.9" transform="rotate(11.1 160 237.4)" />
<path d="M153.3,219.6 L157.1,218.4 L158.0,222.2 L154.0,223.8Z" fill="none" stroke="#111" stroke-width="0.9" />
<path d="M148.9,239.2 L152.5,238.6 L152.7,244.2 L149.2,245.2Z" fill="none" stroke="#111" stroke-width="0.9" />
<path d="M160.9,215.9 L164.7,215.2 L165.9,218.4" fill="none" stroke="#111" stroke-width="0.9" />
<path d="M150.8,253.7 L154.6,255.0 L155.2,259.4" fill="none" stroke="#111" stroke-width="0.9" />
<line x1="144" y1="233.4" x2="182" y2="240.9" stroke="#111" stroke-width="0.9" />
<g transform="translate(199.8 244.3) rotate(11.1)" >
<rect x="-8.4" y="-12.7" width="5" height="4.2" fill="#fff" stroke="#111" stroke-width="1.2"/>
<rect x="-8.4" y="-7.5" width="5" height="4.2" fill="#fff" stroke="#111" stroke-width="1.2"/>
<rect x="-8.4" y="-1.9" width="5" height="4.2" fill="#fff" stroke="#111" stroke-width="1.2"/>
<rect x="-8.4" y="3.7" width="5" height="4.2" fill="#fff" stroke="#111" stroke-width="1.2"/>
<rect x="-8.4" y="8.5" width="5" height="4.2" fill="#fff" stroke="#111" stroke-width="1.2"/>
<rect x="-4.6" y="-12" width="1.6" height="24" fill="#222"/>
<path d="M-3.00,-12.80 L2.40,-12.80 A5.38,12.80 0 0 1 2.40,12.80 L-3.00,12.80 A5.38,12.80 0 0 1 -3.00,-12.80Z" fill="#fff" stroke="#111" stroke-width="1.3" />
<ellipse cx="2.4" cy="0" rx="5.4" ry="12.8" fill="#fff" stroke="#111" stroke-width="1.3" />
<ellipse cx="2.8" cy="0" rx="3.4" ry="9.2" fill="#fff" stroke="#111" stroke-width="1.6" />
<ellipse cx="3.2" cy="0.4" rx="2" ry="6" fill="none" stroke="#111" stroke-width="0.9" />
</g>
<g transform="translate(247.3 243.3) rotate(12)" >
<rect x="-3.9" y="-2.5" width="7.8" height="5" rx="1.4" fill="#fff" stroke="#111" stroke-width="1.2"/>
<line x1="3.1" y1="-1.8" x2="3.1" y2="1.8" stroke="#111" stroke-width="1.3" />
</g>
<g transform="translate(243.8 240.1) rotate(12)" >
<rect x="-3.9" y="-2.5" width="7.8" height="5" rx="1.4" fill="#fff" stroke="#111" stroke-width="1.2"/>
<line x1="3.1" y1="-1.8" x2="3.1" y2="1.8" stroke="#111" stroke-width="1.3" />
</g>
<g transform="translate(238.8 250.2) rotate(12)" >
<rect x="-3.9" y="-2.5" width="7.8" height="5" rx="1.4" fill="#fff" stroke="#111" stroke-width="1.2"/>
<line x1="3.1" y1="-1.8" x2="3.1" y2="1.8" stroke="#111" stroke-width="1.3" />
</g>
<g transform="translate(237.2 259.1) rotate(12)" >
<rect x="-3.9" y="-2.5" width="7.8" height="5" rx="1.4" fill="#fff" stroke="#111" stroke-width="1.2"/>
<line x1="3.1" y1="-1.8" x2="3.1" y2="1.8" stroke="#111" stroke-width="1.3" />
</g>
<g transform="translate(245.4 259.7) rotate(12)" >
<rect x="-3.9" y="-2.5" width="7.8" height="5" rx="1.4" fill="#fff" stroke="#111" stroke-width="1.2"/>
<line x1="3.1" y1="-1.8" x2="3.1" y2="1.8" stroke="#111" stroke-width="1.3" />
</g>
<g transform="translate(242.3 265) rotate(12)" >
<rect x="-3.9" y="-2.5" width="7.8" height="5" rx="1.4" fill="#fff" stroke="#111" stroke-width="1.2"/>
<line x1="3.1" y1="-1.8" x2="3.1" y2="1.8" stroke="#111" stroke-width="1.3" />
</g>
<path d="M302.8,233.2 L292.1,233.2 L285.2,238.9 L285.8,241.7 L280.1,260.4 L277.6,263.5 L279.1,269.4 L280.8,283.1 L294.6,286.9 L302.8,270.5Z" fill="#fff" stroke="#111" stroke-width="1.1" />
<g transform="translate(298.8 260) rotate(11.1)" >
<ellipse cx="0" cy="0" rx="9.4" ry="27.3" fill="#fff" stroke="#111" stroke-width="1.7" />
<ellipse cx="0.4" cy="0" rx="7.4" ry="23.6" fill="#fff" stroke="#111" stroke-width="1.0" />
<path d="M0.7,-23.6 L1.6,-23.3 L2.5,-22.6 L3.4,-21.6 L4.2,-20.2 L5.0,-18.4 L5.7,-16.4 L6.3,-14.1 L6.9,-11.6 L7.3,-8.8 L7.6,-6.0 L7.7,-3.0 L7.8,0.0 L7.7,3.0 L7.6,6.0 L7.3,8.8 L6.9,11.6 L6.3,14.1 L5.7,16.4 L5.0,18.4 L4.2,20.2 L3.4,21.6 L2.5,22.6 L1.6,23.3 L0.7,23.6 L-4.6,21.6 L-3.8,21.0 L-3.1,20.2 L-2.4,19.0 L-1.7,17.6 L-1.1,16.0 L-0.6,14.1 L-0.1,12.1 L0.3,9.9 L0.6,7.5 L0.8,5.1 L1.0,2.5 L1.0,0.0 L1.0,-2.5 L0.8,-5.1 L0.6,-7.5 L0.3,-9.9 L-0.1,-12.1 L-0.6,-14.1 L-1.1,-16.0 L-1.7,-17.6 L-2.4,-19.0 L-3.1,-20.2 L-3.8,-21.0 L-4.6,-21.6Z" fill="#111" stroke="#111" stroke-width="0.6" />
<line x1="-1.43" y1="-18.88" x2="4.14" y2="-17.8" stroke="#d0d0d0" stroke-width="0.65" stroke-linecap="butt"/>
<line x1="0.04" y1="-15.1" x2="5.39" y2="-14.06" stroke="#d0d0d0" stroke-width="0.65" stroke-linecap="butt"/>
<line x1="0.93" y1="-11.33" x2="6.19" y2="-10.3" stroke="#d0d0d0" stroke-width="0.65" stroke-linecap="butt"/>
<line x1="1.49" y1="-7.55" x2="6.71" y2="-6.53" stroke="#d0d0d0" stroke-width="0.65" stroke-linecap="butt"/>
<line x1="1.81" y1="-3.78" x2="7" y2="-2.76" stroke="#d0d0d0" stroke-width="0.65" stroke-linecap="butt"/>
<line x1="1.91" y1="0" x2="7.1" y2="1.02" stroke="#d0d0d0" stroke-width="0.65" stroke-linecap="butt"/>
<line x1="1.81" y1="3.78" x2="7" y2="4.8" stroke="#d0d0d0" stroke-width="0.65" stroke-linecap="butt"/>
<line x1="1.49" y1="7.55" x2="6.71" y2="8.57" stroke="#d0d0d0" stroke-width="0.65" stroke-linecap="butt"/>
<line x1="0.93" y1="11.33" x2="6.19" y2="12.36" stroke="#d0d0d0" stroke-width="0.65" stroke-linecap="butt"/>
<line x1="0.04" y1="15.1" x2="5.39" y2="16.15" stroke="#d0d0d0" stroke-width="0.65" stroke-linecap="butt"/>
<line x1="-1.43" y1="18.88" x2="4.14" y2="19.96" stroke="#d0d0d0" stroke-width="0.65" stroke-linecap="butt"/>
<path d="M-3.9,20.9 L-4.8,20.0 L-5.6,18.4 L-6.3,16.3 L-7.0,13.7 L-7.5,10.6 L-7.9,7.3 L-8.1,3.7 L-8.2,0.0 L-8.1,-3.7 L-7.9,-7.3 L-7.5,-10.6 L-7.0,-13.7 L-6.3,-16.3 L-5.6,-18.4 L-4.8,-20.0 L-3.9,-20.9" fill="none" stroke="#111" stroke-width="0.7" />
</g>
<path d="M292.1,252.2 L295.9,257.8 L293.4,265.4" fill="none" stroke="#111" stroke-width="0.8" />
<ellipse cx="291.2" cy="240.7" rx="0.8" ry="0.8" fill="#111" stroke="#111" stroke-width="0.8" />
<line x1="282.8" y1="259.7" x2="298" y2="262.6" stroke="#111" stroke-width="0.9" />
<line x1="303" y1="263.5" x2="345" y2="271.6" stroke="#111" stroke-width="0.9" />
<g transform="translate(355.2 273) rotate(11.1)" >
<rect x="-13.5" y="-12.3" width="9" height="5.6" rx="1.4" fill="#fff" stroke="#111" stroke-width="1.2"/>
<rect x="-13.6" y="7.8" width="7" height="5.6" rx="1.4" fill="#fff" stroke="#111" stroke-width="1.2"/>
<path d="M-3.40,-19.20 L0.60,-19.20 A6.72,19.20 0 0 1 0.60,19.20 L-3.40,19.20 A6.72,19.20 0 0 1 -3.40,-19.20Z" fill="#fff" stroke="#111" stroke-width="1.2" />
<ellipse cx="-1.4" cy="0" rx="6.7" ry="19.2" fill="none" stroke="#111" stroke-width="0.9" />
<ellipse cx="0.6" cy="0" rx="6.7" ry="19.2" fill="#fff" stroke="#111" stroke-width="1.2" />
<ellipse cx="3.4" cy="0.6" rx="4.4" ry="10.6" fill="none" stroke="#111" stroke-width="1.2" />
<ellipse cx="3.8" cy="0.8" rx="2.8" ry="7" fill="none" stroke="#111" stroke-width="1.5" />
<ellipse cx="4" cy="1" rx="1.4" ry="3.8" fill="#333" stroke="#111" stroke-width="1.0" />
<rect x="3.8" y="-17.3" width="8.4" height="5.4" rx="1.3" fill="#fff" stroke="#111" stroke-width="1.2"/>
<rect x="10.0" y="-17.1" width="2.2" height="5" rx="1" fill="#111"/>
<rect x="8.2" y="-10.5" width="8.4" height="5.4" rx="1.3" fill="#fff" stroke="#111" stroke-width="1.2"/>
<rect x="14.4" y="-10.3" width="2.2" height="5" rx="1" fill="#111"/>
<rect x="4.8" y="6.5" width="8.4" height="5.4" rx="1.3" fill="#fff" stroke="#111" stroke-width="1.2"/>
<rect x="11.0" y="6.7" width="2.2" height="5" rx="1" fill="#111"/>
<rect x="-1.4" y="10.5" width="8.4" height="5.4" rx="1.3" fill="#fff" stroke="#111" stroke-width="1.2"/>
<rect x="4.8" y="10.7" width="2.2" height="5" rx="1" fill="#111"/>
<rect x="-0.6" y="-4.3" width="8.4" height="5.4" rx="1.3" fill="#fff" stroke="#111" stroke-width="1.2"/>
<rect x="5.6" y="-4.1" width="2.2" height="5" rx="1" fill="#111"/>
</g>
<line x1="330" y1="267.8" x2="349" y2="271.6" stroke="#111" stroke-width="0.9" />
<g transform="translate(412 277) rotate(11)" >
<rect x="-5.0" y="-6.5" width="10.0" height="13.0" rx="4.2" fill="#111" stroke="#111" stroke-width="0.8"/>
<line x1="-3.55" y1="-4.92" x2="1.87" y2="-4.92" stroke="#eee" stroke-width="0.8" />
<line x1="-4.57" y1="-2.95" x2="2.4" y2="-2.95" stroke="#eee" stroke-width="0.8" />
<line x1="-4.99" y1="-0.98" x2="2.62" y2="-0.98" stroke="#eee" stroke-width="0.8" />
<line x1="-4.99" y1="0.98" x2="2.62" y2="0.98" stroke="#eee" stroke-width="0.8" />
<line x1="-4.57" y1="2.95" x2="2.4" y2="2.95" stroke="#eee" stroke-width="0.8" />
<line x1="-3.55" y1="4.92" x2="1.87" y2="4.92" stroke="#eee" stroke-width="0.8" />
</g>
<g transform="translate(407.2 269) rotate(11)" >
<rect x="-5.8" y="-7.2" width="11.5" height="14.5" rx="4.8" fill="#111" stroke="#111" stroke-width="0.8"/>
<line x1="-4.08" y1="-5.49" x2="2.15" y2="-5.49" stroke="#eee" stroke-width="0.8" />
<line x1="-5.25" y1="-3.3" x2="2.76" y2="-3.3" stroke="#eee" stroke-width="0.8" />
<line x1="-5.73" y1="-1.1" x2="3.02" y2="-1.1" stroke="#eee" stroke-width="0.8" />
<line x1="-5.73" y1="1.1" x2="3.02" y2="1.1" stroke="#eee" stroke-width="0.8" />
<line x1="-5.25" y1="3.3" x2="2.76" y2="3.3" stroke="#eee" stroke-width="0.8" />
<line x1="-4.08" y1="5.49" x2="2.15" y2="5.49" stroke="#eee" stroke-width="0.8" />
</g>
<g transform="translate(400.6 281) rotate(11)" >
<rect x="-5.2" y="-7.0" width="10.5" height="14.0" rx="4.4" fill="#111" stroke="#111" stroke-width="0.8"/>
<line x1="-3.73" y1="-5.3" x2="1.96" y2="-5.3" stroke="#eee" stroke-width="0.8" />
<line x1="-4.8" y1="-3.18" x2="2.52" y2="-3.18" stroke="#eee" stroke-width="0.8" />
<line x1="-5.23" y1="-1.06" x2="2.76" y2="-1.06" stroke="#eee" stroke-width="0.8" />
<line x1="-5.23" y1="1.06" x2="2.76" y2="1.06" stroke="#eee" stroke-width="0.8" />
<line x1="-4.8" y1="3.18" x2="2.52" y2="3.18" stroke="#eee" stroke-width="0.8" />
<line x1="-3.73" y1="5.3" x2="1.96" y2="5.3" stroke="#eee" stroke-width="0.8" />
</g>
<g transform="translate(408.5 292.5) rotate(11)" >
<rect x="-4.5" y="-6.5" width="9.0" height="13.0" rx="3.8" fill="#111" stroke="#111" stroke-width="0.8"/>
<line x1="-3.2" y1="-4.92" x2="1.68" y2="-4.92" stroke="#eee" stroke-width="0.8" />
<line x1="-4.11" y1="-2.95" x2="2.16" y2="-2.95" stroke="#eee" stroke-width="0.8" />
<line x1="-4.49" y1="-0.98" x2="2.36" y2="-0.98" stroke="#eee" stroke-width="0.8" />
<line x1="-4.49" y1="0.98" x2="2.36" y2="0.98" stroke="#eee" stroke-width="0.8" />
<line x1="-4.11" y1="2.95" x2="2.16" y2="2.95" stroke="#eee" stroke-width="0.8" />
<line x1="-3.2" y1="4.92" x2="1.68" y2="4.92" stroke="#eee" stroke-width="0.8" />
</g>
<g transform="translate(401.2 295) rotate(11)" >
<rect x="-5.2" y="-7.5" width="10.5" height="15.0" rx="4.4" fill="#111" stroke="#111" stroke-width="0.8"/>
<line x1="-3.73" y1="-5.68" x2="1.96" y2="-5.68" stroke="#eee" stroke-width="0.8" />
<line x1="-4.8" y1="-3.41" x2="2.52" y2="-3.41" stroke="#eee" stroke-width="0.8" />
<line x1="-5.23" y1="-1.14" x2="2.76" y2="-1.14" stroke="#eee" stroke-width="0.8" />
<line x1="-5.23" y1="1.14" x2="2.76" y2="1.14" stroke="#eee" stroke-width="0.8" />
<line x1="-4.8" y1="3.41" x2="2.52" y2="3.41" stroke="#eee" stroke-width="0.8" />
<line x1="-3.73" y1="5.68" x2="1.96" y2="5.68" stroke="#eee" stroke-width="0.8" />
</g>
<ellipse cx="452" cy="292" rx="19" ry="27.4" fill="none" stroke="#111" stroke-width="1.4" transform="rotate(11.1 452 292)" />
<ellipse cx="452.2" cy="292" rx="15.7" ry="23.3" fill="none" stroke="#111" stroke-width="1.3" transform="rotate(11.1 452.2 292)" />
<g transform="translate(480.9 294.9) rotate(-61.26)" >
<path d="M0,-2.2 L31.8,-2.2 A1.2,2.2 0 0 1 31.8,2.2 L0,2.2" fill="#fff" stroke="#111" stroke-width="1.1" />
<ellipse cx="0" cy="0" rx="1.3" ry="2.2" fill="#fff" stroke="#111" stroke-width="1.2" />
</g>
<g transform="translate(485.4 329.8) rotate(-59.48)" >
<path d="M0,-2.2 L31.1,-2.2 A1.2,2.2 0 0 1 31.1,2.2 L0,2.2" fill="#fff" stroke="#111" stroke-width="1.1" />
<ellipse cx="0" cy="0" rx="1.3" ry="2.2" fill="#fff" stroke="#111" stroke-width="1.2" />
</g>
<line x1="484" y1="287.5" x2="494.8" y2="268" stroke="#111" stroke-width="0.8" />
<g transform="translate(529.6 307.2) rotate(11.1)" >
<rect x="-16.4" y="-8.8" width="7.5" height="17.6" rx="3" fill="#111" stroke="#111" stroke-width="0.8"/>
<line x1="-15.4" y1="-6" x2="-11.4" y2="-5.7" stroke="#eee" stroke-width="1.0" stroke-linecap="butt"/>
<line x1="-15.4" y1="-3.4" x2="-11.4" y2="-3.1" stroke="#eee" stroke-width="1.0" stroke-linecap="butt"/>
<line x1="-15.4" y1="-0.8" x2="-11.4" y2="-0.5" stroke="#eee" stroke-width="1.0" stroke-linecap="butt"/>
<line x1="-15.4" y1="1.8" x2="-11.4" y2="2.1" stroke="#eee" stroke-width="1.0" stroke-linecap="butt"/>
<line x1="-15.4" y1="4.4" x2="-11.4" y2="4.7" stroke="#eee" stroke-width="1.0" stroke-linecap="butt"/>
<line x1="-15.4" y1="6.6" x2="-11.4" y2="6.9" stroke="#eee" stroke-width="1.0" stroke-linecap="butt"/>
<path d="M-6.8,17.3 L-7.5,17.0 L-8.3,16.4 L-9.0,15.6 L-9.7,14.5 L-10.3,13.2 L-10.9,11.8 L-11.4,10.1 L-11.8,8.3 L-12.2,6.3 L-12.4,4.3 L-12.6,2.1 L-12.6,0.0 L-12.6,-2.1 L-12.4,-4.3 L-12.2,-6.3 L-11.8,-8.3 L-11.4,-10.1 L-10.9,-11.8 L-10.3,-13.2 L-9.7,-14.5 L-9.0,-15.6 L-8.3,-16.4 L-7.5,-17.0 L-6.8,-17.3 L-3.2,-19.3 L-4.1,-19.0 L-5.0,-18.3 L-5.9,-17.4 L-6.7,-16.2 L-7.4,-14.8 L-8.1,-13.1 L-8.7,-11.2 L-9.2,-9.2 L-9.6,-7.0 L-9.9,-4.7 L-10.0,-2.4 L-10.1,0.0 L-10.0,2.4 L-9.9,4.7 L-9.6,7.0 L-9.2,9.2 L-8.7,11.2 L-8.1,13.1 L-7.4,14.8 L-6.7,16.2 L-5.9,17.4 L-5.0,18.3 L-4.1,19.0 L-3.2,19.3Z" fill="#fff" stroke="#111" stroke-width="1.0" />
<path d="M1.6,-19.8 L2.6,-19.6 L3.7,-19.1 L4.7,-18.3 L5.6,-17.1 L6.5,-15.7 L7.3,-14.0 L7.9,-12.1 L8.5,-9.9 L9.0,-7.6 L9.3,-5.1 L9.5,-2.6 L9.6,0.0 L9.5,2.6 L9.3,5.1 L9.0,7.6 L8.5,9.9 L7.9,12.1 L7.3,14.0 L6.5,15.7 L5.6,17.1 L4.7,18.3 L3.7,19.1 L2.6,19.6 L1.6,19.8 L-1.6,19.8 L-2.6,19.6 L-3.7,19.1 L-4.7,18.3 L-5.6,17.1 L-6.5,15.7 L-7.3,14.0 L-7.9,12.1 L-8.5,9.9 L-9.0,7.6 L-9.3,5.1 L-9.5,2.6 L-9.6,0.0 L-9.5,-2.6 L-9.3,-5.1 L-9.0,-7.6 L-8.5,-9.9 L-7.9,-12.1 L-7.3,-14.0 L-6.5,-15.7 L-5.6,-17.1 L-4.7,-18.3 L-3.7,-19.1 L-2.6,-19.6 L-1.6,-19.8Z" fill="#111" stroke="#111" stroke-width="1.0" />
<ellipse cx="3.8" cy="0.2" rx="6" ry="16.6" fill="#fff" stroke="#111" stroke-width="0.9" />
<path d="M-2.2,18.8 L-2.7,18.6 L-3.2,18.3 L0.1,15.7 L0.5,16.0 L0.8,16.1Z" fill="#fff" stroke="#fff" stroke-width="0.3" />
<path d="M-4.0,17.6 L-4.4,17.1 L-4.8,16.5 L-1.2,14.2 L-0.8,14.7 L-0.5,15.1Z" fill="#fff" stroke="#fff" stroke-width="0.3" />
<path d="M-5.5,15.4 L-5.9,14.6 L-6.3,13.8 L-2.3,11.9 L-2.0,12.6 L-1.7,13.2Z" fill="#fff" stroke="#fff" stroke-width="0.3" />
<path d="M-6.9,12.2 L-7.2,11.2 L-7.4,10.2 L-3.1,8.8 L-2.9,9.7 L-2.7,10.5Z" fill="#fff" stroke="#fff" stroke-width="0.3" />
<path d="M-7.9,8.3 L-8.0,7.2 L-8.2,6.0 L-3.7,5.2 L-3.6,6.2 L-3.4,7.2Z" fill="#fff" stroke="#fff" stroke-width="0.3" />
<path d="M-8.4,4.0 L-8.5,2.7 L-8.6,1.5 L-4.0,1.4 L-3.9,2.4 L-3.9,3.5Z" fill="#fff" stroke="#fff" stroke-width="0.3" />
<path d="M-8.6,-0.7 L-8.6,-1.9 L-8.5,-3.1 L-3.9,-2.6 L-4.0,-1.5 L-4.0,-0.5Z" fill="#fff" stroke="#fff" stroke-width="0.3" />
<path d="M-8.3,-5.2 L-8.2,-6.4 L-8.0,-7.6 L-3.5,-6.4 L-3.7,-5.4 L-3.8,-4.4Z" fill="#fff" stroke="#fff" stroke-width="0.3" />
<path d="M-7.6,-9.5 L-7.4,-10.6 L-7.1,-11.6 L-2.8,-9.8 L-3.1,-8.9 L-3.2,-8.0Z" fill="#fff" stroke="#fff" stroke-width="0.3" />
<path d="M-6.5,-13.2 L-6.2,-14.1 L-5.8,-14.9 L-1.9,-12.6 L-2.2,-11.9 L-2.4,-11.2Z" fill="#fff" stroke="#fff" stroke-width="0.3" />
<path d="M-5.1,-16.1 L-4.7,-16.7 L-4.3,-17.3 L-0.7,-14.6 L-1.1,-14.2 L-1.4,-13.6Z" fill="#fff" stroke="#fff" stroke-width="0.3" />
<path d="M-3.5,-18.1 L-3.0,-18.4 L-2.5,-18.7 L0.6,-15.8 L0.2,-15.6 L-0.1,-15.3Z" fill="#fff" stroke="#fff" stroke-width="0.3" />
<path d="M0.7,16.8 L-0.1,16.3 L-0.9,15.4 L-1.7,14.2 L-2.3,12.7 L-2.9,11.0 L-3.5,9.1 L-3.9,7.0 L-4.2,4.8 L-4.3,2.5 L-4.4,0.1 L-4.3,-2.3 L-4.2,-4.6 L-3.9,-6.8 L-3.5,-8.9 L-2.9,-10.8 L-2.3,-12.5 L-1.7,-14.0 L-0.9,-15.2 L-0.1,-16.1 L0.7,-16.6" fill="none" stroke="#111" stroke-width="1.3" />
<ellipse cx="4.4" cy="0.4" rx="3.6" ry="8.4" fill="none" stroke="#111" stroke-width="1.1" />
<ellipse cx="4.8" cy="0.4" rx="2.2" ry="5.2" fill="#444" stroke="#111" stroke-width="1.0" />
<rect x="1.8" y="-10.9" width="6.5" height="4.6" rx="1.2" fill="#fff" stroke="#111" stroke-width="1.0"/>
<rect x="0.6" y="4.9" width="6.5" height="4.6" rx="1.2" fill="#fff" stroke="#111" stroke-width="1.0"/>
<rect x="7.6" y="-14.0" width="9.2" height="4.4" rx="1.2" fill="#fff" stroke="#111" stroke-width="1.1"/>
<rect x="14.8" y="-13.9" width="2" height="4.2" rx="0.9" fill="#111"/>
<rect x="9.8" y="-0.8" width="9.2" height="4.4" rx="1.2" fill="#fff" stroke="#111" stroke-width="1.1"/>
<rect x="17.0" y="-0.7" width="2" height="4.2" rx="0.9" fill="#111"/>
<rect x="4.6" y="10.2" width="9.2" height="4.4" rx="1.2" fill="#fff" stroke="#111" stroke-width="1.1"/>
<rect x="11.8" y="10.3" width="2" height="4.2" rx="0.9" fill="#111"/>
</g>
<g transform="translate(571.5 303.5) rotate(11)" >
<rect x="-4.8" y="-8.0" width="9.5" height="16.0" rx="4.0" fill="#111" stroke="#111" stroke-width="0.8"/>
<line x1="-3.21" y1="-6.32" x2="1.69" y2="-6.32" stroke="#eee" stroke-width="0.8" />
<line x1="-4.18" y1="-4.21" x2="2.2" y2="-4.21" stroke="#eee" stroke-width="0.8" />
<line x1="-4.64" y1="-2.11" x2="2.44" y2="-2.11" stroke="#eee" stroke-width="0.8" />
<line x1="-4.78" y1="0" x2="2.52" y2="0" stroke="#eee" stroke-width="0.8" />
<line x1="-4.64" y1="2.11" x2="2.44" y2="2.11" stroke="#eee" stroke-width="0.8" />
<line x1="-4.18" y1="4.21" x2="2.2" y2="4.21" stroke="#eee" stroke-width="0.8" />
<line x1="-3.21" y1="6.32" x2="1.69" y2="6.32" stroke="#eee" stroke-width="0.8" />
</g>
<g transform="translate(564.2 304) rotate(11)" >
<rect x="-7.0" y="-8.8" width="14.0" height="17.5" rx="5.9" fill="#111" stroke="#111" stroke-width="0.8"/>
<line x1="-4.74" y1="-6.91" x2="2.49" y2="-6.91" stroke="#eee" stroke-width="0.8" />
<line x1="-6.15" y1="-4.61" x2="3.24" y2="-4.61" stroke="#eee" stroke-width="0.8" />
<line x1="-6.84" y1="-2.3" x2="3.6" y2="-2.3" stroke="#eee" stroke-width="0.8" />
<line x1="-7.05" y1="0" x2="3.71" y2="0" stroke="#eee" stroke-width="0.8" />
<line x1="-6.84" y1="2.3" x2="3.6" y2="2.3" stroke="#eee" stroke-width="0.8" />
<line x1="-6.15" y1="4.61" x2="3.24" y2="4.61" stroke="#eee" stroke-width="0.8" />
<line x1="-4.74" y1="6.91" x2="2.49" y2="6.91" stroke="#eee" stroke-width="0.8" />
</g>
<g transform="translate(570.5 320) rotate(11)" >
<rect x="-5.0" y="-9.0" width="10.0" height="18.0" rx="4.2" fill="#111" stroke="#111" stroke-width="0.8"/>
<line x1="-3.38" y1="-7.11" x2="1.78" y2="-7.11" stroke="#eee" stroke-width="0.8" />
<line x1="-4.39" y1="-4.74" x2="2.31" y2="-4.74" stroke="#eee" stroke-width="0.8" />
<line x1="-4.88" y1="-2.37" x2="2.57" y2="-2.37" stroke="#eee" stroke-width="0.8" />
<line x1="-5.03" y1="0" x2="2.65" y2="0" stroke="#eee" stroke-width="0.8" />
<line x1="-4.88" y1="2.37" x2="2.57" y2="2.37" stroke="#eee" stroke-width="0.8" />
<line x1="-4.39" y1="4.74" x2="2.31" y2="4.74" stroke="#eee" stroke-width="0.8" />
<line x1="-3.38" y1="7.11" x2="1.78" y2="7.11" stroke="#eee" stroke-width="0.8" />
</g>
<g transform="translate(562 321.5) rotate(11)" >
<rect x="-7.5" y="-11.0" width="15.0" height="22.0" rx="6.3" fill="#111" stroke="#111" stroke-width="0.8"/>
<line x1="-5.08" y1="-8.68" x2="2.67" y2="-8.68" stroke="#eee" stroke-width="0.8" />
<line x1="-6.59" y1="-5.79" x2="3.47" y2="-5.79" stroke="#eee" stroke-width="0.8" />
<line x1="-7.33" y1="-2.89" x2="3.86" y2="-2.89" stroke="#eee" stroke-width="0.8" />
<line x1="-7.55" y1="0" x2="3.98" y2="0" stroke="#eee" stroke-width="0.8" />
<line x1="-7.33" y1="2.89" x2="3.86" y2="2.89" stroke="#eee" stroke-width="0.8" />
<line x1="-6.59" y1="5.79" x2="3.47" y2="5.79" stroke="#eee" stroke-width="0.8" />
<line x1="-5.08" y1="8.68" x2="2.67" y2="8.68" stroke="#eee" stroke-width="0.8" />
</g>
<line x1="555.5" y1="311" x2="600" y2="319.4" stroke="#111" stroke-width="0.9" />
<g transform="translate(611.3 321.8) rotate(11.1)" >
<path d="M0.0,25.4 L-1.1,25.3 L-2.2,24.8 L-3.3,24.2 L-4.3,23.2 L-5.3,22.0 L-6.2,20.5 L-7.1,18.9 L-7.9,17.0 L-8.6,14.9 L-9.2,12.7 L-9.7,10.3 L-10.1,7.8 L-10.4,5.3 L-10.5,2.7 L-10.6,0.0 L-10.5,-2.7 L-10.4,-5.3 L-10.1,-7.8 L-9.7,-10.3 L-9.2,-12.7 L-8.6,-14.9 L-7.9,-17.0 L-7.1,-18.9 L-6.2,-20.5 L-5.3,-22.0 L-4.3,-23.2 L-3.3,-24.2 L-2.2,-24.8 L-1.1,-25.3 L-0.0,-25.4 L4.6,-24.2 L5.9,-24.0 L7.1,-23.4 L8.3,-22.4 L9.4,-21.0 L10.4,-19.2 L11.4,-17.1 L12.2,-14.7 L12.9,-12.1 L13.5,-9.3 L13.9,-6.3 L14.1,-3.2 L14.2,0.0 L14.1,3.2 L13.9,6.3 L13.5,9.3 L12.9,12.1 L12.2,14.7 L11.4,17.1 L10.4,19.2 L9.4,21.0 L8.3,22.4 L7.1,23.4 L5.9,24.0 L4.6,24.2Z" fill="#111" stroke="#111" stroke-width="1.0" />
<path d="M8.2,-23.1 L8.6,-22.7 L9.0,-22.3" fill="none" stroke="#111" stroke-width="1.6" />
<path d="M10.2,-20.7 L10.6,-20.2 L10.9,-19.5" fill="none" stroke="#111" stroke-width="1.6" />
<path d="M12.0,-17.4 L12.3,-16.6 L12.6,-15.8" fill="none" stroke="#111" stroke-width="1.6" />
<path d="M13.4,-13.2 L13.6,-12.3 L13.8,-11.4" fill="none" stroke="#111" stroke-width="1.6" />
<path d="M14.4,-8.4 L14.5,-7.4 L14.6,-6.4" fill="none" stroke="#111" stroke-width="1.6" />
<path d="M14.9,-3.2 L15.0,-2.1 L15.0,-1.1" fill="none" stroke="#111" stroke-width="1.6" />
<path d="M15.0,2.1 L14.9,3.2 L14.8,4.3" fill="none" stroke="#111" stroke-width="1.6" />
<path d="M14.5,7.4 L14.4,8.4 L14.2,9.4" fill="none" stroke="#111" stroke-width="1.6" />
<path d="M13.6,12.3 L13.4,13.2 L13.1,14.1" fill="none" stroke="#111" stroke-width="1.6" />
<path d="M12.3,16.6 L12.0,17.4 L11.6,18.1" fill="none" stroke="#111" stroke-width="1.6" />
<path d="M10.6,20.2 L10.2,20.7 L9.8,21.3" fill="none" stroke="#111" stroke-width="1.6" />
<path d="M8.6,22.7 L8.2,23.1 L7.7,23.5" fill="none" stroke="#111" stroke-width="1.6" />
<path d="M0.1,23.6 L-1.0,23.0 L-2.1,22.0 L-3.1,20.8 L-4.1,19.3 L-4.9,17.5 L-5.7,15.4 L-6.4,13.2 L-7.0,10.8 L-7.4,8.2 L-7.7,5.5 L-7.9,2.8 L-8.0,0.0 L-7.9,-2.8 L-7.7,-5.5 L-7.4,-8.2 L-7.0,-10.8 L-6.4,-13.2 L-5.7,-15.4 L-4.9,-17.5 L-4.1,-19.3 L-3.1,-20.8 L-2.1,-22.0 L-1.0,-23.0 L0.1,-23.6" fill="none" stroke="#fff" stroke-width="0.7" />
<path d="M0.1,20.9 L-0.4,20.5 L-0.8,20.0 L-1.2,19.4 L1.5,16.2 L1.7,16.7 L1.9,17.1 L2.2,17.5Z" fill="#fff" stroke="#fff" stroke-width="0.3" />
<path d="M-2.0,18.2 L-2.4,17.5 L-2.7,16.7 L-3.1,15.8 L0.6,13.2 L0.8,14.0 L1.0,14.6 L1.2,15.3Z" fill="#fff" stroke="#fff" stroke-width="0.3" />
<path d="M-3.7,14.1 L-4.0,13.1 L-4.3,12.1 L-4.5,11.0 L-0.1,9.2 L0.1,10.1 L0.2,11.0 L0.3,11.8Z" fill="#fff" stroke="#fff" stroke-width="0.3" />
<path d="M-4.9,8.9 L-5.1,7.8 L-5.2,6.6 L-5.4,5.3 L-0.5,4.5 L-0.4,5.5 L-0.3,6.5 L-0.3,7.5Z" fill="#fff" stroke="#fff" stroke-width="0.3" />
<path d="M-5.5,3.1 L-5.6,1.8 L-5.6,0.5 L-5.6,-0.8 L-0.6,-0.6 L-0.6,0.4 L-0.6,1.5 L-0.6,2.6Z" fill="#fff" stroke="#fff" stroke-width="0.3" />
<path d="M-5.5,-3.1 L-5.4,-4.3 L-5.3,-5.6 L-5.2,-6.8 L-0.4,-5.7 L-0.5,-4.7 L-0.5,-3.6 L-0.6,-2.6Z" fill="#fff" stroke="#fff" stroke-width="0.3" />
<path d="M-4.9,-8.9 L-4.7,-10.1 L-4.5,-11.2 L-4.2,-12.3 L0.1,-10.3 L-0.0,-9.4 L-0.2,-8.4 L-0.3,-7.5Z" fill="#fff" stroke="#fff" stroke-width="0.3" />
<path d="M-3.7,-14.1 L-3.4,-15.1 L-3.0,-16.0 L-2.7,-16.9 L0.8,-14.1 L0.7,-13.4 L0.5,-12.6 L0.3,-11.8Z" fill="#fff" stroke="#fff" stroke-width="0.3" />
<path d="M-2.0,-18.2 L-1.6,-18.9 L-1.2,-19.5 L-0.7,-20.1 L1.8,-16.8 L1.6,-16.3 L1.4,-15.8 L1.2,-15.3Z" fill="#fff" stroke="#fff" stroke-width="0.3" />
<path d="M3.5,18.2 L3.0,17.9 L2.5,17.1 L2.0,16.0 L1.5,14.5 L1.2,12.6 L0.8,10.5 L0.6,8.1 L0.4,5.5 L0.2,2.8 L0.2,0.0 L0.2,-2.8 L0.4,-5.5 L0.6,-8.1 L0.8,-10.5 L1.2,-12.6 L1.5,-14.5 L2.0,-16.0 L2.5,-17.1 L3.0,-17.9 L3.5,-18.2 L4.2,-18.2 L4.0,-17.9 L3.9,-17.1 L3.8,-16.0 L3.7,-14.5 L3.6,-12.6 L3.5,-10.5 L3.4,-8.1 L3.3,-5.5 L3.3,-2.8 L3.3,0.0 L3.3,2.8 L3.3,5.5 L3.4,8.1 L3.5,10.5 L3.6,12.6 L3.7,14.5 L3.8,16.0 L3.9,17.1 L4.0,17.9 L4.2,18.2Z" fill="#fff" stroke="#fff" stroke-width="0.3" />
<line x1="5.73" y1="-17.13" x2="9.06" y2="-17.2" stroke="#fff" stroke-width="2.3" stroke-linecap="butt"/>
<line x1="6.28" y1="-12.67" x2="10.66" y2="-12.74" stroke="#fff" stroke-width="2.3" stroke-linecap="butt"/>
<line x1="6.59" y1="-8.24" x2="11.61" y2="-8.3" stroke="#fff" stroke-width="2.3" stroke-linecap="butt"/>
<line x1="6.75" y1="-3.83" x2="12.13" y2="-3.88" stroke="#fff" stroke-width="2.3" stroke-linecap="butt"/>
<line x1="6.8" y1="0.58" x2="12.3" y2="0.53" stroke="#fff" stroke-width="2.3" stroke-linecap="butt"/>
<line x1="6.75" y1="4.97" x2="12.13" y2="4.92" stroke="#fff" stroke-width="2.3" stroke-linecap="butt"/>
<line x1="6.59" y1="9.36" x2="11.61" y2="9.3" stroke="#fff" stroke-width="2.3" stroke-linecap="butt"/>
<line x1="6.28" y1="13.73" x2="10.66" y2="13.66" stroke="#fff" stroke-width="2.3" stroke-linecap="butt"/>
<line x1="5.73" y1="18.07" x2="9.06" y2="18" stroke="#fff" stroke-width="2.3" stroke-linecap="butt"/>
</g>
<line x1="626" y1="324.2" x2="640.8" y2="326.6" stroke="#111" stroke-width="0.9" />
<line x1="598" y1="319.2" x2="603" y2="320.2" stroke="#111" stroke-width="0.9" />
<ellipse cx="675" cy="333.2" rx="19.8" ry="27" fill="none" stroke="#111" stroke-width="1.2" transform="rotate(11.1 675 333.2)" />
<ellipse cx="676.4" cy="333.4" rx="16.6" ry="23.8" fill="none" stroke="#111" stroke-width="1.2" transform="rotate(11.1 676.4 333.4)" />
<ellipse cx="675.6" cy="333.3" rx="18.2" ry="25.4" fill="none" stroke="#111" stroke-width="0.6" transform="rotate(11.1 675.6 333.3)" />
<path d="M668.5,307.6 L678.0,305.3 L702.2,309.9 L700.7,311.6 L688.1,309.6 L670.7,309.9Z" fill="#fff" stroke="#111" stroke-width="1.1" />
<path d="M668.5,307.6 L670.7,309.9" fill="none" stroke="#111" stroke-width="0.9" />
<path d="M687.1,306.6 L687.1,300.3 L689.3,299.3 L693.1,299.8 L693.7,301.5 L693.7,307.6" fill="#fff" stroke="#111" stroke-width="1.1" />
<path d="M687.1,301.5 L690.6,302.3 L693.7,301.5" fill="none" stroke="#111" stroke-width="0.8" />
<path d="M690.6,302.3 L690.6,307.3" fill="none" stroke="#111" stroke-width="0.8" />
<path d="M653.8,331.4 L668.5,333.7 L668.1,341.5 L653.8,339.1Z" fill="#fff" stroke="#111" stroke-width="1.2" />
<path d="M655.3,333.7 L657.5,334.1 L657.3,337.5 L655.3,337.1Z" fill="none" stroke="#111" stroke-width="1.0" />
<path d="M658.0,331.8 L674.8,333.1" fill="none" stroke="#111" stroke-width="0.9" />
<path d="M692.5,329.3 L706.4,331.6 L705.7,338.1 L692.5,335.8Z" fill="#fff" stroke="#111" stroke-width="1.1" />
<ellipse cx="692.9" cy="332.6" rx="0.9" ry="1.6" fill="#333" stroke="#111" stroke-width="0.9" transform="rotate(11.1 692.9 332.6)" />
<path d="M695.6,330.3 L696.9,335.6" fill="none" stroke="#111" stroke-width="0.9" />
<path d="M669.1,359.8 L674.8,358.3 L688.1,362.7 L687.4,364.6 L680.5,364.3 L669.8,362.1Z" fill="#fff" stroke="#111" stroke-width="1.1" />
<path d="M674.8,360.2 L684.3,363.1" fill="none" stroke="#111" stroke-width="1.4" />
<g transform="translate(677.4 294) rotate(90)" >
<rect x="-2.2" y="-1.25" width="4.6" height="2.5" fill="#fff" stroke="#111" stroke-width="1"/>
<ellipse cx="-2.6" cy="0" rx="1.1" ry="2.7" fill="#333" stroke="#111" stroke-width="1.3" />
</g>
<g transform="translate(644.4 336.2) rotate(-170)" >
<rect x="-2.2" y="-1.25" width="4.6" height="2.5" fill="#fff" stroke="#111" stroke-width="1"/>
<ellipse cx="-2.6" cy="0" rx="1.1" ry="2.7" fill="#333" stroke="#111" stroke-width="1.3" />
</g>
<g transform="translate(720.4 328.4) rotate(-170)" >
<rect x="-2.2" y="-1.25" width="4.6" height="2.5" fill="#fff" stroke="#111" stroke-width="1"/>
<ellipse cx="-2.6" cy="0" rx="1.1" ry="2.7" fill="#333" stroke="#111" stroke-width="1.3" />
</g>
<g transform="translate(672.6 375) rotate(-90)" >
<rect x="-2.2" y="-1.25" width="4.6" height="2.5" fill="#fff" stroke="#111" stroke-width="1"/>
<ellipse cx="-2.6" cy="0" rx="1.1" ry="2.7" fill="#333" stroke="#111" stroke-width="1.3" />
</g>
<line x1="706.9" y1="337.9" x2="736" y2="344" stroke="#111" stroke-width="0.9" />
<g transform="translate(749.6 347.8) rotate(11.1)" >
<rect x="-14.6" y="-7.6" width="8" height="15.2" rx="2.6" fill="#111" stroke="#111" stroke-width="0.8"/>
<line x1="-13.6" y1="-5" x2="-8" y2="-5" stroke="#ddd" stroke-width="0.7" />
<line x1="-13.6" y1="-2.2" x2="-8" y2="-2.2" stroke="#ddd" stroke-width="0.7" />
<line x1="-13.6" y1="0.6" x2="-8" y2="0.6" stroke="#ddd" stroke-width="0.7" />
<line x1="-13.6" y1="3.4" x2="-8" y2="3.4" stroke="#ddd" stroke-width="0.7" />
<path d="M-3.60,-17.60 L0.00,-17.60 A7.04,17.60 0 0 1 0.00,17.60 L-3.60,17.60 A7.04,17.60 0 0 1 -3.60,-17.60Z" fill="#fff" stroke="#111" stroke-width="1.1" />
<ellipse cx="0" cy="0" rx="7" ry="17.6" fill="#fff" stroke="#111" stroke-width="1.1" />
<ellipse cx="1.6" cy="0.6" rx="4.6" ry="11.6" fill="none" stroke="#111" stroke-width="1.0" />
<ellipse cx="2.2" cy="0.8" rx="3" ry="8" fill="none" stroke="#111" stroke-width="1.0" />
<ellipse cx="2.6" cy="1" rx="1.6" ry="5" fill="none" stroke="#111" stroke-width="0.9" />
<rect x="5.0" y="-13.6" width="7" height="4" rx="1" fill="#fff" stroke="#111" stroke-width="1.1"/>
<line x1="11.2" y1="-13" x2="11.2" y2="-10.2" stroke="#111" stroke-width="1.4" />
<rect x="3.2" y="11" width="7" height="4" rx="1" fill="#fff" stroke="#111" stroke-width="1.1"/>
<line x1="9.4" y1="11.6" x2="9.4" y2="14.4" stroke="#111" stroke-width="1.4" />
<rect x="-3.6" y="0.20000000000000018" width="7" height="4" rx="1" fill="#fff" stroke="#111" stroke-width="1.1"/>
<line x1="2.6" y1="0.8" x2="2.6" y2="3.6" stroke="#111" stroke-width="1.4" />
</g>
<line x1="758.8" y1="348.9" x2="787.1" y2="354.4" stroke="#111" stroke-width="0.9" />
<g transform="translate(804 343.5) rotate(11)" >
<rect x="-3.5" y="-7.5" width="7.0" height="15.0" rx="2.9" fill="#111" stroke="#111" stroke-width="0.8"/>
<line x1="-2.37" y1="-5.92" x2="1.25" y2="-5.92" stroke="#eee" stroke-width="0.8" />
<line x1="-3.08" y1="-3.95" x2="1.62" y2="-3.95" stroke="#eee" stroke-width="0.8" />
<line x1="-3.42" y1="-1.97" x2="1.8" y2="-1.97" stroke="#eee" stroke-width="0.8" />
<line x1="-3.52" y1="0" x2="1.85" y2="0" stroke="#eee" stroke-width="0.8" />
<line x1="-3.42" y1="1.97" x2="1.8" y2="1.97" stroke="#eee" stroke-width="0.8" />
<line x1="-3.08" y1="3.95" x2="1.62" y2="3.95" stroke="#eee" stroke-width="0.8" />
<line x1="-2.37" y1="5.92" x2="1.25" y2="5.92" stroke="#eee" stroke-width="0.8" />
</g>
<g transform="translate(799.5 344.8) rotate(11)" >
<rect x="-5.0" y="-8.5" width="10.0" height="17.0" rx="4.2" fill="#111" stroke="#111" stroke-width="0.8"/>
<line x1="-3.38" y1="-6.71" x2="1.78" y2="-6.71" stroke="#eee" stroke-width="0.8" />
<line x1="-4.39" y1="-4.47" x2="2.31" y2="-4.47" stroke="#eee" stroke-width="0.8" />
<line x1="-4.88" y1="-2.24" x2="2.57" y2="-2.24" stroke="#eee" stroke-width="0.8" />
<line x1="-5.03" y1="0" x2="2.65" y2="0" stroke="#eee" stroke-width="0.8" />
<line x1="-4.88" y1="2.24" x2="2.57" y2="2.24" stroke="#eee" stroke-width="0.8" />
<line x1="-4.39" y1="4.47" x2="2.31" y2="4.47" stroke="#eee" stroke-width="0.8" />
<line x1="-3.38" y1="6.71" x2="1.78" y2="6.71" stroke="#eee" stroke-width="0.8" />
</g>
<g transform="translate(796 356) rotate(11)" >
<rect x="-3.5" y="-7.5" width="7.0" height="15.0" rx="2.9" fill="#111" stroke="#111" stroke-width="0.8"/>
<line x1="-2.37" y1="-5.92" x2="1.25" y2="-5.92" stroke="#eee" stroke-width="0.8" />
<line x1="-3.08" y1="-3.95" x2="1.62" y2="-3.95" stroke="#eee" stroke-width="0.8" />
<line x1="-3.42" y1="-1.97" x2="1.8" y2="-1.97" stroke="#eee" stroke-width="0.8" />
<line x1="-3.52" y1="0" x2="1.85" y2="0" stroke="#eee" stroke-width="0.8" />
<line x1="-3.42" y1="1.97" x2="1.8" y2="1.97" stroke="#eee" stroke-width="0.8" />
<line x1="-3.08" y1="3.95" x2="1.62" y2="3.95" stroke="#eee" stroke-width="0.8" />
<line x1="-2.37" y1="5.92" x2="1.25" y2="5.92" stroke="#eee" stroke-width="0.8" />
</g>
<g transform="translate(791.2 357.4) rotate(11)" >
<rect x="-5.0" y="-8.5" width="10.0" height="17.0" rx="4.2" fill="#111" stroke="#111" stroke-width="0.8"/>
<line x1="-3.38" y1="-6.71" x2="1.78" y2="-6.71" stroke="#eee" stroke-width="0.8" />
<line x1="-4.39" y1="-4.47" x2="2.31" y2="-4.47" stroke="#eee" stroke-width="0.8" />
<line x1="-4.88" y1="-2.24" x2="2.57" y2="-2.24" stroke="#eee" stroke-width="0.8" />
<line x1="-5.03" y1="0" x2="2.65" y2="0" stroke="#eee" stroke-width="0.8" />
<line x1="-4.88" y1="2.24" x2="2.57" y2="2.24" stroke="#eee" stroke-width="0.8" />
<line x1="-4.39" y1="4.47" x2="2.31" y2="4.47" stroke="#eee" stroke-width="0.8" />
<line x1="-3.38" y1="6.71" x2="1.78" y2="6.71" stroke="#eee" stroke-width="0.8" />
</g>
<g transform="translate(801.2 367) rotate(11)" >
<rect x="-3.5" y="-7.5" width="7.0" height="15.0" rx="2.9" fill="#111" stroke="#111" stroke-width="0.8"/>
<line x1="-2.37" y1="-5.92" x2="1.25" y2="-5.92" stroke="#eee" stroke-width="0.8" />
<line x1="-3.08" y1="-3.95" x2="1.62" y2="-3.95" stroke="#eee" stroke-width="0.8" />
<line x1="-3.42" y1="-1.97" x2="1.8" y2="-1.97" stroke="#eee" stroke-width="0.8" />
<line x1="-3.52" y1="0" x2="1.85" y2="0" stroke="#eee" stroke-width="0.8" />
<line x1="-3.42" y1="1.97" x2="1.8" y2="1.97" stroke="#eee" stroke-width="0.8" />
<line x1="-3.08" y1="3.95" x2="1.62" y2="3.95" stroke="#eee" stroke-width="0.8" />
<line x1="-2.37" y1="5.92" x2="1.25" y2="5.92" stroke="#eee" stroke-width="0.8" />
</g>
<g transform="translate(796.6 368.4) rotate(11)" >
<rect x="-5.0" y="-8.5" width="10.0" height="17.0" rx="4.2" fill="#111" stroke="#111" stroke-width="0.8"/>
<line x1="-3.38" y1="-6.71" x2="1.78" y2="-6.71" stroke="#eee" stroke-width="0.8" />
<line x1="-4.39" y1="-4.47" x2="2.31" y2="-4.47" stroke="#eee" stroke-width="0.8" />
<line x1="-4.88" y1="-2.24" x2="2.57" y2="-2.24" stroke="#eee" stroke-width="0.8" />
<line x1="-5.03" y1="0" x2="2.65" y2="0" stroke="#eee" stroke-width="0.8" />
<line x1="-4.88" y1="2.24" x2="2.57" y2="2.24" stroke="#eee" stroke-width="0.8" />
<line x1="-4.39" y1="4.47" x2="2.31" y2="4.47" stroke="#eee" stroke-width="0.8" />
<line x1="-3.38" y1="6.71" x2="1.78" y2="6.71" stroke="#eee" stroke-width="0.8" />
</g>
<path d="M39.1,319.6 C37.7,319.1 33.4,316.3 30.9,317.0 C28.3,317.8 25.9,320.9 23.9,324.0 C21.9,327.0 20.2,331.3 18.9,335.3 C17.6,339.3 16.5,343.9 16.1,347.9 C15.7,351.9 15.6,355.2 16.4,359.3 C17.1,363.4 18.2,370.1 20.8,372.5 C23.3,374.9 29.7,373.6 31.5,373.8Z" fill="#fff" stroke="#111" stroke-width="1.1" />
<path d="M30.2,317.3 L31.2,319.2 L42.2,321.4 L42.8,319.2Z" fill="#333" stroke="#111" stroke-width="1.1" />
<path d="M17.2,341.0 L26.4,342.6 L25.8,347.7 L16.4,345.7" fill="none" stroke="#111" stroke-width="1.0" />
<path d="M20.4,371.6 L20.8,374.0 L30.9,375.9 L31.7,373.8Z" fill="#333" stroke="#111" stroke-width="1.1" />
<g transform="translate(36.2 346.6) rotate(10.9)" >
<ellipse cx="0" cy="0" rx="8.8" ry="27.6" fill="#fff" stroke="#111" stroke-width="1.7" />
<ellipse cx="0.4" cy="0" rx="7" ry="23.4" fill="#fff" stroke="#111" stroke-width="1.0" />
<path d="M0.6,-23.4 L1.5,-23.1 L2.4,-22.4 L3.2,-21.4 L4.0,-20.0 L4.8,-18.3 L5.4,-16.3 L6.0,-14.0 L6.5,-11.5 L6.9,-8.8 L7.2,-5.9 L7.3,-3.0 L7.4,0.0 L7.3,3.0 L7.2,5.9 L6.9,8.8 L6.5,11.5 L6.0,14.0 L5.4,16.3 L4.8,18.3 L4.0,20.0 L3.2,21.4 L2.4,22.4 L1.5,23.1 L0.6,23.4 L-4.9,21.4 L-4.2,20.8 L-3.4,20.0 L-2.8,18.8 L-2.2,17.5 L-1.6,15.8 L-1.1,14.0 L-0.6,12.0 L-0.2,9.8 L0.1,7.4 L0.3,5.0 L0.4,2.5 L0.4,0.0 L0.4,-2.5 L0.3,-5.0 L0.1,-7.4 L-0.2,-9.8 L-0.6,-12.0 L-1.1,-14.0 L-1.6,-15.8 L-2.2,-17.5 L-2.8,-18.8 L-3.4,-20.0 L-4.2,-20.8 L-4.9,-21.4Z" fill="#111" stroke="#111" stroke-width="0.6" />
<line x1="-1.82" y1="-18.72" x2="3.9" y2="-17.62" stroke="#d0d0d0" stroke-width="0.65" stroke-linecap="butt"/>
<line x1="-0.43" y1="-14.98" x2="5.08" y2="-13.91" stroke="#d0d0d0" stroke-width="0.65" stroke-linecap="butt"/>
<line x1="0.42" y1="-11.23" x2="5.84" y2="-10.18" stroke="#d0d0d0" stroke-width="0.65" stroke-linecap="butt"/>
<line x1="0.95" y1="-7.49" x2="6.33" y2="-6.44" stroke="#d0d0d0" stroke-width="0.65" stroke-linecap="butt"/>
<line x1="1.24" y1="-3.74" x2="6.61" y2="-2.7" stroke="#d0d0d0" stroke-width="0.65" stroke-linecap="butt"/>
<line x1="1.34" y1="0" x2="6.7" y2="1.04" stroke="#d0d0d0" stroke-width="0.65" stroke-linecap="butt"/>
<line x1="1.24" y1="3.74" x2="6.61" y2="4.79" stroke="#d0d0d0" stroke-width="0.65" stroke-linecap="butt"/>
<line x1="0.95" y1="7.49" x2="6.33" y2="8.54" stroke="#d0d0d0" stroke-width="0.65" stroke-linecap="butt"/>
<line x1="0.42" y1="11.23" x2="5.84" y2="12.29" stroke="#d0d0d0" stroke-width="0.65" stroke-linecap="butt"/>
<line x1="-0.43" y1="14.98" x2="5.08" y2="16.04" stroke="#d0d0d0" stroke-width="0.65" stroke-linecap="butt"/>
<line x1="-1.82" y1="18.72" x2="3.9" y2="19.82" stroke="#d0d0d0" stroke-width="0.65" stroke-linecap="butt"/>
<path d="M-4.0,20.7 L-4.8,19.8 L-5.6,18.2 L-6.3,16.1 L-6.9,13.5 L-7.4,10.5 L-7.7,7.2 L-7.9,3.7 L-8.0,0.0 L-7.9,-3.7 L-7.7,-7.2 L-7.4,-10.5 L-6.9,-13.5 L-6.3,-16.1 L-5.6,-18.2 L-4.8,-19.8 L-4.0,-20.7" fill="none" stroke="#111" stroke-width="0.7" />
</g>
<ellipse cx="28.6" cy="328" rx="0.8" ry="0.8" fill="#111" stroke="#111" stroke-width="0.8" />
<line x1="29" y1="345.2" x2="44" y2="348.2" stroke="#111" stroke-width="0.8" />
<line x1="45.4" y1="347.7" x2="85.8" y2="356" stroke="#111" stroke-width="0.9" />
<ellipse cx="66" cy="353" rx="9" ry="27" fill="#fff" stroke="#111" stroke-width="1.1" transform="rotate(10.9 66 353)" />
<ellipse cx="66.2" cy="353" rx="3.3" ry="9.6" fill="none" stroke="#111" stroke-width="1.0" transform="rotate(10.9 66.2 353)" />
<ellipse cx="62.6" cy="333.6" rx="1.2" ry="2" fill="#333" stroke="#111" stroke-width="1.0" transform="rotate(10.9 62.6 333.6)" />
<ellipse cx="68.8" cy="372" rx="1.2" ry="2" fill="#333" stroke="#111" stroke-width="1.0" transform="rotate(10.9 68.8 372)" />
<ellipse cx="67.7" cy="337" rx="0.7" ry="0.7" fill="#111" stroke="#111" stroke-width="0.8" />
<ellipse cx="67.4" cy="375.5" rx="0.7" ry="0.7" fill="#111" stroke="#111" stroke-width="0.8" />
<line x1="45.4" y1="347.7" x2="85.8" y2="356" stroke="#111" stroke-width="0.9" />
<path d="M111.5,334.5 C112.9,333.5 113.7,332.2 115.8,332.3 C117.9,332.4 122.3,333.5 124.0,334.9 C125.7,336.3 125.6,338.4 126.1,340.5 C126.6,342.6 127.0,345.2 127.0,347.4 C127.0,349.5 126.5,351.6 126.1,353.4 C125.8,355.2 125.5,357.2 124.9,358.1 C124.2,359.1 122.8,358.2 122.3,359.0 C121.7,359.8 121.8,360.5 121.4,362.9 C121.1,365.2 120.6,370.2 120.1,373.2 C119.6,376.2 119.3,378.4 118.4,380.9 C117.5,383.5 116.4,386.7 115.0,388.7 C113.5,390.7 111.5,392.1 109.8,393.0 C108.1,393.8 106.4,394.1 104.6,393.8 C102.9,393.6 100.8,392.7 99.5,391.3 C98.2,389.8 97.5,387.7 96.9,385.2 C96.2,382.8 95.7,379.8 95.6,376.6 C95.5,373.5 95.6,369.9 96.0,366.3 C96.5,362.7 97.2,358.7 98.2,355.1 C99.2,351.5 100.5,347.7 102.0,344.8 C103.6,341.9 105.6,339.6 107.2,337.9 C108.8,336.2 110.1,335.4 111.5,334.5Z" fill="#fff" stroke="#111" stroke-width="1.2" />
<path d="M109.8,335.8 C108.9,337.0 106.2,340.0 104.6,343.1 C103.1,346.2 101.4,350.4 100.3,354.3 C99.3,358.1 98.6,362.6 98.2,366.3 C97.7,370.0 97.6,373.5 97.7,376.6 C97.9,379.8 98.3,382.9 99.0,385.2 C99.8,387.6 101.5,389.9 102.0,390.8" fill="none" stroke="#111" stroke-width="0.9" />
<ellipse cx="114.1" cy="363.7" rx="4.4" ry="12" fill="none" stroke="#111" stroke-width="1.8" transform="rotate(10.9 114.1 363.7)" />
<ellipse cx="113.9" cy="363.7" rx="6.4" ry="14.8" fill="none" stroke="#111" stroke-width="0.9" transform="rotate(10.9 113.9 363.7)" />
<path d="M112.8,353.4 C112.5,354.4 111.4,357.0 111.1,359.4 C110.8,361.9 110.8,365.6 111.1,368.0 C111.3,370.5 112.3,373.0 112.5,374.1" fill="none" stroke="#111" stroke-width="0.8" />
<path d="M116.7,347.5 L120.1,340.5 L122.5,342.0 L119.3,348.9Z" fill="none" stroke="#111" stroke-width="1.0" />
<path d="M117.7,346.9 L120.8,341.4" fill="none" stroke="#111" stroke-width="0.7" />
<path d="M118.6,347.5 L121.6,342.0" fill="none" stroke="#111" stroke-width="0.7" />
<path d="M111.5,336.2 L113.4,346.5" fill="none" stroke="#111" stroke-width="0.9" />
<path d="M113.2,335.3 L115.0,345.7" fill="none" stroke="#111" stroke-width="0.9" />
<path d="M102.9,348.2 L107.2,349.3 L108.2,359.4 L102.0,361.1" fill="none" stroke="#111" stroke-width="1.0" />
<path d="M102.9,348.2 L102.0,361.1" fill="none" stroke="#111" stroke-width="1.0" />
<path d="M102.0,361.1 L109.8,362.2" fill="none" stroke="#111" stroke-width="0.9" />
<path d="M101.4,367.2 L109.1,368.0" fill="none" stroke="#111" stroke-width="0.9" />
<path d="M101.4,367.2 L100.2,374.1 L103.1,375.1 L108.5,369.8" fill="none" stroke="#111" stroke-width="1.0" />
<path d="M107.2,360.3 L108.5,360.3 L108.1,366.3 L106.8,366.3Z" fill="none" stroke="#111" stroke-width="0.8" />
<path d="M109.8,377.7 L111.5,390.6" fill="none" stroke="#111" stroke-width="0.9" />
<path d="M113.4,378.5 L115.0,388.9" fill="none" stroke="#111" stroke-width="0.9" />
<path d="M122.7,354.3 L124.6,358.1" fill="none" stroke="#111" stroke-width="0.9" />
<path d="M120.6,358.1 L122.7,354.3" fill="none" stroke="#111" stroke-width="0.9" />
<path d="M99.0,373.2 L102.0,374.1 L101.6,377.5 L98.6,376.6" fill="none" stroke="#111" stroke-width="0.9" />
<path d="M105.1,384.4 L107.6,381.8 L108.5,385.2" fill="none" stroke="#111" stroke-width="0.8" />
<ellipse cx="112.2" cy="349.1" rx="1" ry="1.8" fill="none" stroke="#111" stroke-width="1.0" transform="rotate(10.9 112.2 349.1)" />
<ellipse cx="121.41" cy="350.82" rx="1" ry="1.8" fill="none" stroke="#111" stroke-width="1.0" transform="rotate(10.9 121.41 350.82)" />
<ellipse cx="106.78" cy="375.77" rx="1" ry="1.8" fill="none" stroke="#111" stroke-width="1.0" transform="rotate(10.9 106.78 375.77)" />
<ellipse cx="115.82" cy="378.79" rx="1" ry="1.8" fill="none" stroke="#111" stroke-width="1.0" transform="rotate(10.9 115.82 378.79)" />
<ellipse cx="104.2" cy="391.95" rx="1" ry="1" fill="#333" stroke="#111" stroke-width="0.8" />
<ellipse cx="123.56" cy="335.5" rx="1" ry="1" fill="#333" stroke="#111" stroke-width="0.8" />
<ellipse cx="112.55" cy="335.15" rx="1" ry="1" fill="#333" stroke="#111" stroke-width="0.8" />
<line x1="107" y1="362.4" x2="118.6" y2="364.6" stroke="#111" stroke-width="0.8" />
<path d="M137.0,376.8 C137.3,376.2 139.5,376.7 140.8,377.3 C142.0,377.9 143.0,379.1 144.6,380.4 C146.1,381.6 148.2,383.3 150.2,384.8 C152.2,386.3 154.5,388.3 156.5,389.4 C158.6,390.6 161.6,391.1 162.5,391.7 C163.3,392.3 163.0,392.9 161.8,393.0 C160.6,393.0 157.3,392.6 155.3,392.0 C153.2,391.4 151.5,390.5 149.6,389.4 C147.7,388.4 145.7,386.8 143.9,385.4 C142.1,384.0 140.0,382.5 138.9,381.1 C137.7,379.7 136.7,377.5 137.0,376.8Z" fill="#fff" stroke="#111" stroke-width="1.1" />
<path d="M138.0,377.8 C138.7,378.2 140.6,378.8 142.0,379.7 C143.4,380.7 144.8,382.2 146.4,383.5 C148.1,384.9 149.7,386.5 152.1,387.9 C154.5,389.3 159.5,391.3 160.9,392.0" fill="none" stroke="#111" stroke-width="1.3" />
<path d="M143.9,382.9 L145.8,381.6 L149.0,384.4" fill="none" stroke="#111" stroke-width="1.0" />
<path d="M150.9,388.6 L152.1,386.4 L155.9,388.9" fill="none" stroke="#111" stroke-width="1.0" />
<g transform="translate(222.8 375.1) rotate(8)" >
<path d="M-1,-2.3 L6.4,-2.3 Q7.6,0 6.4,2.5 L-1,2.5Z" fill="#111" stroke="#111" stroke-width="0.8" />
<ellipse cx="-3" cy="0" rx="3.1" ry="4.3" fill="#111" stroke="#111" stroke-width="0.8" />
<line x1="2" y1="-1.4" x2="2" y2="1.6" stroke="#888" stroke-width="0.5" />
<line x1="4" y1="-1.4" x2="4" y2="1.6" stroke="#888" stroke-width="0.5" />
</g>
<g transform="translate(200.7 385) rotate(8)" >
<path d="M-1,-2.3 L6.4,-2.3 Q7.6,0 6.4,2.5 L-1,2.5Z" fill="#111" stroke="#111" stroke-width="0.8" />
<ellipse cx="-3" cy="0" rx="3.1" ry="4.3" fill="#111" stroke="#111" stroke-width="0.8" />
<line x1="2" y1="-1.4" x2="2" y2="1.6" stroke="#888" stroke-width="0.5" />
<line x1="4" y1="-1.4" x2="4" y2="1.6" stroke="#888" stroke-width="0.5" />
</g>
<ellipse cx="230.9" cy="391.4" rx="2.8" ry="4.7" fill="none" stroke="#111" stroke-width="2.5" transform="rotate(18 230.9 391.4)" />
<ellipse cx="252.3" cy="381.1" rx="2.8" ry="4.7" fill="none" stroke="#111" stroke-width="2.5" transform="rotate(18 252.3 381.1)" />
<g transform="translate(283.5 395.2) rotate(11)" >
<rect x="-4.8" y="-7.2" width="9.5" height="14.5" rx="4.0" fill="#111" stroke="#111" stroke-width="0.8"/>
<line x1="-3.56" y1="-5.18" x2="1.88" y2="-5.18" stroke="#eee" stroke-width="0.8" />
<line x1="-4.52" y1="-2.59" x2="2.38" y2="-2.59" stroke="#eee" stroke-width="0.8" />
<line x1="-4.78" y1="-0" x2="2.52" y2="-0" stroke="#eee" stroke-width="0.8" />
<line x1="-4.52" y1="2.59" x2="2.38" y2="2.59" stroke="#eee" stroke-width="0.8" />
<line x1="-3.56" y1="5.18" x2="1.88" y2="5.18" stroke="#eee" stroke-width="0.8" />
</g>
<g transform="translate(280 394.6) rotate(11)" >
<rect x="-5.2" y="-7.8" width="10.5" height="15.5" rx="4.4" fill="#111" stroke="#111" stroke-width="0.8"/>
<line x1="-3.94" y1="-5.54" x2="2.07" y2="-5.54" stroke="#eee" stroke-width="0.8" />
<line x1="-4.99" y1="-2.77" x2="2.63" y2="-2.77" stroke="#eee" stroke-width="0.8" />
<line x1="-5.29" y1="0" x2="2.78" y2="0" stroke="#eee" stroke-width="0.8" />
<line x1="-4.99" y1="2.77" x2="2.63" y2="2.77" stroke="#eee" stroke-width="0.8" />
<line x1="-3.94" y1="5.54" x2="2.07" y2="5.54" stroke="#eee" stroke-width="0.8" />
</g>
<ellipse cx="284.8" cy="395.6" rx="1.6" ry="3" fill="#fff" stroke="#111" stroke-width="0.7" transform="rotate(10.9 284.8 395.6)" />
<line x1="288.6" y1="395" x2="307" y2="398.9" stroke="#111" stroke-width="0.9" />
<g transform="translate(324.8 403.5) rotate(11.4)" >
<rect x="-18" y="-2" width="6" height="4.4" rx="1" fill="#fff" stroke="#111" stroke-width="1"/>
<path d="M0,-28.5 L75,-28.5 A15.5,28.5 0 0 1 75,28.5 L0,28.5 A14.5,28.5 0 0 1 0,-28.5Z" fill="#fff" stroke="#111" stroke-width="1.1" />
<path d="M2,-28.3 A14.5,28.4 0 0 0 2,28.3" fill="none" stroke="#111" stroke-width="0.8" />
<path d="M49,-28.5 A15,28.5 0 0 0 49,28.5" fill="none" stroke="#111" stroke-width="1.3" />
<path d="M52,-28.5 A15,28.5 0 0 0 52,28.5" fill="none" stroke="#111" stroke-width="0.8" />
<ellipse cx="75" cy="0" rx="15.5" ry="28.5" fill="#fff" stroke="#111" stroke-width="1.1" />
<path d="M51,-23 C53,-27.5 60,-27 62,-24 C60,-19.5 54,-19 51,-23Z" fill="none" stroke="#111" stroke-width="1.0" />
<path d="M53.5,-20.5 C56,-21.5 60,-22.5 62,-24" fill="none" stroke="#111" stroke-width="0.8" />
<rect x="37.5" y="-9" width="8.6" height="23" rx="4" fill="#fff" stroke="#111" stroke-width="1.1"/>
<path d="M39,-4 C42,-6 45,-5 46,-3" fill="none" stroke="#111" stroke-width="0.8" />
<path d="M38.5,8 C41,6 44,7 46,9.5" fill="none" stroke="#111" stroke-width="0.8" />
<path d="M67,-5.5 L77,-7 L77,8 L67,6Z" fill="#fff" stroke="#111" stroke-width="1.0" />
<ellipse cx="67.4" cy="0.2" rx="2.6" ry="5.8" fill="#fff" stroke="#111" stroke-width="1.0" />
<ellipse cx="78" cy="0.5" rx="5.2" ry="7.6" fill="#fff" stroke="#111" stroke-width="1.1" />
<rect x="59" y="6.5" width="8.4" height="5.4" rx="1" fill="#fff" stroke="#111" stroke-width="1.1"/>
<rect x="84" y="-8" width="8.6" height="5" rx="1.6" fill="#fff" stroke="#111" stroke-width="1.1"/>
<line x1="-11" y1="0" x2="35" y2="0" stroke="#111" stroke-width="0.9" />
<line x1="52" y1="0" x2="68" y2="0" stroke="#111" stroke-width="0.9" />
</g>
<ellipse cx="344.2" cy="393.6" rx="0.8" ry="0.8" fill="#111" stroke="#111" stroke-width="0.8" />
<path d="M414.5,439.9 L431.4,423.0 A3.1,3.1 0 0 1 435.8,427.4 L420.3,442.9" fill="none" stroke="#4a3b2a" stroke-width="1.5" />
<path d="M409.9,441.0 L429.6,421.2 A5.6,5.6 0 0 1 437.6,429.2 L419.2,447.5" fill="none" stroke="#4a3b2a" stroke-width="1.4" />
<line x1="410.23" y1="440.65" x2="408.53" y2="438.96" stroke="#4a3b2a" stroke-width="1.3" />
<line x1="412.35" y1="438.53" x2="410.65" y2="436.84" stroke="#4a3b2a" stroke-width="1.3" />
<line x1="414.47" y1="436.41" x2="412.77" y2="434.71" stroke="#4a3b2a" stroke-width="1.3" />
<line x1="422.39" y1="444.33" x2="424.09" y2="446.03" stroke="#4a3b2a" stroke-width="1.3" />
<line x1="416.59" y1="434.29" x2="414.89" y2="432.59" stroke="#4a3b2a" stroke-width="1.3" />
<line x1="424.51" y1="442.21" x2="426.21" y2="443.91" stroke="#4a3b2a" stroke-width="1.3" />
<line x1="418.71" y1="432.17" x2="417.01" y2="430.47" stroke="#4a3b2a" stroke-width="1.3" />
<line x1="426.63" y1="440.09" x2="428.33" y2="441.79" stroke="#4a3b2a" stroke-width="1.3" />
<line x1="420.83" y1="430.05" x2="419.14" y2="428.35" stroke="#4a3b2a" stroke-width="1.3" />
<line x1="428.75" y1="437.97" x2="430.45" y2="439.66" stroke="#4a3b2a" stroke-width="1.3" />
<line x1="422.95" y1="427.93" x2="421.26" y2="426.23" stroke="#4a3b2a" stroke-width="1.3" />
<line x1="430.87" y1="435.85" x2="432.57" y2="437.54" stroke="#4a3b2a" stroke-width="1.3" />
<line x1="425.08" y1="425.81" x2="423.38" y2="424.11" stroke="#4a3b2a" stroke-width="1.3" />
<line x1="432.99" y1="433.72" x2="434.69" y2="435.42" stroke="#4a3b2a" stroke-width="1.3" />
<line x1="427.2" y1="423.68" x2="425.5" y2="421.99" stroke="#4a3b2a" stroke-width="1.3" />
<line x1="435.12" y1="431.6" x2="436.81" y2="433.3" stroke="#4a3b2a" stroke-width="1.3" />
<line x1="429.32" y1="421.56" x2="427.62" y2="419.87" stroke="#4a3b2a" stroke-width="1.3" />
<line x1="437.24" y1="429.48" x2="438.93" y2="431.18" stroke="#4a3b2a" stroke-width="1.3" />
<line x1="432.15" y1="419.79" x2="431.53" y2="417.47" stroke="#4a3b2a" stroke-width="1.3" />
<line x1="435.05" y1="419.79" x2="435.67" y2="417.47" stroke="#4a3b2a" stroke-width="1.3" />
<line x1="437.56" y1="421.24" x2="439.26" y2="419.54" stroke="#4a3b2a" stroke-width="1.3" />
<line x1="439.01" y1="423.75" x2="441.33" y2="423.13" stroke="#4a3b2a" stroke-width="1.3" />
<line x1="439.01" y1="426.65" x2="441.33" y2="427.27" stroke="#4a3b2a" stroke-width="1.3" />
<path d="M408.3,438.7 C409.5,438.8 409.5,438.9 411.5,440.7 C413.5,442.5 418.8,447.5 420.3,449.6 C421.9,451.6 420.7,452.2 420.7,453.2 C420.7,454.1 420.6,454.6 420.2,455.2 C419.7,455.7 418.3,455.4 418.1,456.4 C417.8,457.4 419.5,459.4 418.7,461.2 C417.9,463.0 414.4,466.3 413.1,467.2 C411.8,468.2 411.4,467.2 410.7,467.0 C410.0,466.7 409.4,466.1 408.7,465.6 C408.0,465.1 407.4,464.2 406.7,464.0 C405.9,463.8 405.7,465.4 404.3,464.4 C402.8,463.4 398.8,459.5 397.8,458.0 C396.8,456.4 398.6,455.9 398.2,455.2 C397.9,454.4 396.4,454.2 395.8,453.3 C395.3,452.5 393.6,452.1 395.0,450.0 C396.4,447.8 402.1,442.2 404.3,440.3 C406.5,438.4 407.1,438.6 408.3,438.7Z" fill="#fff" stroke="#4a3b2a" stroke-width="1.6" />
<rect x="405.6" y="446" width="4.3" height="12.4" rx="2.1" fill="#fff" stroke="#4a3b2a" stroke-width="1.5"/>
<ellipse cx="415.7" cy="452" rx="0.9" ry="0.9" fill="#4a3b2a" stroke="#4a3b2a" stroke-width="0.6" />
<path d="M393.8,445.1 L391.8,442.7 L398.2,435.9 L401.1,435.9 L402.0,436.9" fill="none" stroke="#4a3b2a" stroke-width="1.6" />
<g filter="url(#nf)"><rect x="440" y="405" width="180" height="70" fill="none"/>
<text transform="translate(453.2 433.2) scale(0.76 1)" x="0" y="0" font-size="26" textLength="201" lengthAdjust="spacing" class="wm" vector-effect="non-scaling-stroke">ИНТЕРНЕТ-</text>
<text transform="translate(452.2 462.6) scale(0.76 1)" x="0" y="0" font-size="26" textLength="196.5" lengthAdjust="spacing" class="wm" vector-effect="non-scaling-stroke">ЗАПЧАСТИ</text>
</g>
<g transform="translate(251.6 496) rotate(15)" >
<path d="M-6,-5.8 L5,-5.8 A3.6,5.8 0 0 1 5,5.8 L-6,5.8 A3.6,5.8 0 0 1 -6,-5.8Z" fill="#fff" stroke="#111" stroke-width="1.1" />
<ellipse cx="5" cy="0" rx="3.6" ry="5.8" fill="#fff" stroke="#111" stroke-width="1.1" />
<ellipse cx="5.3" cy="0.2" rx="2.2" ry="3.6" fill="none" stroke="#111" stroke-width="1.0" />
</g>
<g transform="translate(236.2 508.2) rotate(15)" >
<path d="M-6,-5.8 L5,-5.8 A3.6,5.8 0 0 1 5,5.8 L-6,5.8 A3.6,5.8 0 0 1 -6,-5.8Z" fill="#fff" stroke="#111" stroke-width="1.1" />
<ellipse cx="5" cy="0" rx="3.6" ry="5.8" fill="#fff" stroke="#111" stroke-width="1.1" />
<ellipse cx="5.3" cy="0.2" rx="2.2" ry="3.6" fill="none" stroke="#111" stroke-width="1.0" />
</g>
<g transform="translate(263 527) rotate(9)" >
<path d="M-13.2,-1.8 L-4.5,-1.8 L-4.5,-2.4 L-1,-2.4 L-1,-1.4 L13.2,-1.4 L13.2,1.8 L2,1.8 L2,2.4 L-3.5,2.4 L-3.5,1.6 L-13.2,1.6Z" fill="#fff" stroke="#111" stroke-width="1.0" />
<line x1="-4.5" y1="-1.8" x2="-4.5" y2="1.6" stroke="#111" stroke-width="0.8" />
<line x1="-1" y1="-1.4" x2="-1" y2="2.4" stroke="#111" stroke-width="0.8" />
<line x1="2" y1="-1.4" x2="2" y2="1.8" stroke="#111" stroke-width="0.8" />
</g>
<g transform="translate(340.4 518.7) rotate(9)" >
<path d="M-13.2,-1.8 L-4.5,-1.8 L-4.5,-2.4 L-1,-2.4 L-1,-1.4 L13.2,-1.4 L13.2,1.8 L2,1.8 L2,2.4 L-3.5,2.4 L-3.5,1.6 L-13.2,1.6Z" fill="#fff" stroke="#111" stroke-width="1.0" />
<line x1="-4.5" y1="-1.8" x2="-4.5" y2="1.6" stroke="#111" stroke-width="0.8" />
<line x1="-1" y1="-1.4" x2="-1" y2="2.4" stroke="#111" stroke-width="0.8" />
<line x1="2" y1="-1.4" x2="2" y2="1.8" stroke="#111" stroke-width="0.8" />
</g>
<g transform="translate(273.2 542.2) rotate(12)" >
<rect x="-7.4" y="-3.6" width="14.8" height="7.2" rx="3" fill="#111" stroke="#111" stroke-width="0.8"/>
</g>
<path d="M272.8,516.8 L280.5,513.4 L289.8,514.5 L294.9,513.4 L314.5,515.6 L325.5,520.2 L324.7,523.6 L315.3,524.1 L314.5,527.0 L307.7,527.0 L283.0,521.9 L282.7,519.6 L273.7,520.2Z" fill="#fff" stroke="#111" stroke-width="1.2" />
<path d="M289.3,515.1 C289.5,514.2 289.4,511.4 290.7,510.0 C291.9,508.5 294.5,507.2 296.6,506.6 C298.7,505.9 301.5,505.6 303.4,506.0 C305.3,506.5 307.1,507.7 308.2,509.1 C309.2,510.5 309.6,513.6 309.9,514.5" fill="#fff" stroke="#111" stroke-width="1.2" />
<path d="M294.1,514.5 C294.1,513.9 293.7,511.8 294.6,510.8 C295.4,509.8 297.5,508.9 299.2,508.8 C300.8,508.6 303.4,509.8 304.3,510.0" fill="none" stroke="#111" stroke-width="0.9" />
<path d="M289.8,514.5 L289.8,516.8 L310.2,519.3 L310.2,515.1" fill="none" stroke="#111" stroke-width="0.9" />
<path d="M273.7,517.6 L283.0,518.5 L294.9,516.8 L314.5,519.3 L324.7,521.0" fill="none" stroke="#111" stroke-width="0.9" />
<path d="M283.0,518.5 L283.0,521.0" fill="none" stroke="#111" stroke-width="0.8" />
<path d="M289.8,519.3 L289.8,522.7" fill="none" stroke="#111" stroke-width="0.8" />
<path d="M300.0,521.0 L300.0,525.3" fill="none" stroke="#111" stroke-width="0.8" />
<path d="M307.7,522.7 L307.7,526.6" fill="none" stroke="#111" stroke-width="0.8" />
<path d="M314.5,519.6 L315.0,524.1" fill="none" stroke="#111" stroke-width="0.8" />
<path d="M277.1,514.5 L279.6,515.9" fill="none" stroke="#111" stroke-width="0.8" />
<path d="M284.7,520.5 L306.8,524.4" fill="none" stroke="#111" stroke-width="1.8" />
<path d="M273.7,520.3 L283.0,522.0" fill="none" stroke="#111" stroke-width="1.5" />
<path d="M307.7,526.8 L314.5,526.8" fill="none" stroke="#111" stroke-width="1.5" />
<path d="M315.3,524.1 L324.7,523.6" fill="none" stroke="#111" stroke-width="1.3" />
<path d="M274.8,516.2 L274.8,520.0" fill="none" stroke="#111" stroke-width="0.8" />
<path d="M278.2,515.6 L278.2,519.3" fill="none" stroke="#111" stroke-width="0.8" />
<path d="M294.9,516.9 L294.9,521.0" fill="none" stroke="#111" stroke-width="0.8" />
<path d="M303.4,518.3 L303.4,522.4" fill="none" stroke="#111" stroke-width="0.8" />
<path d="M320.4,518.5 L320.4,523.4" fill="none" stroke="#111" stroke-width="0.8" />
<path d="M118.7,565.0 L111.5,567.0 L105.1,571.1 L99.4,577.5 L94.6,585.5 L91.0,593.5 L89.0,599.9 L88.2,609.6 L88.6,615.0 L89.8,621.4 L93.0,630.2 L97.0,638.3 L106.7,655.9 L129.9,658.7 L133.2,663.2 L134.1,671.2 L134.0,685.0 L132.6,704.5 L140.8,711.7 L145.3,737.1 L152.5,766.1 L159.8,787.8 L162.5,806.0 L154.4,809.6 L139.9,816.8 L127.2,822.3 L120.8,827.7 L121.7,835.0 L127.2,845.8 L181.5,844.9 L219.6,840.4 L218.7,824.1 L215.1,816.8 L211.4,802.3 L210.5,780.6 L208.7,744.4 L204.2,717.2 L200.7,705.7 L199.4,677.9 L203.2,670.4 L213.3,667.2 L236.0,666.6 L243.6,654.0 L247.3,616.5 L246.8,602.4 L237.7,586.2 L221.6,582.7 L212.5,584.2 L213.2,583.9 L190.7,579.1 L185.1,569.4 L177.1,568.2 L165.1,572.3 L159.4,574.7 L149.2,569.8 L148.4,567.0 L144.4,563.0 L139.6,561.8 L133.2,562.2 L127.5,564.6 L123.5,566.2Z" fill="#fff" stroke="#111" stroke-width="1.38" />
<path d="M99.8,578.3 C99.1,579.5 96.6,583.4 95.4,585.9 C94.2,588.4 93.4,591.2 92.6,593.5 C91.8,595.9 91.0,598.9 90.6,599.9" fill="none" stroke="#111" stroke-width="0.95" />
<path d="M89.0,600.7 L93.8,602.0 L93.4,616.8 L89.8,618.4" fill="none" stroke="#111" stroke-width="0.95" />
<path d="M90.0,602.4 L89.8,617.2" fill="none" stroke="#111" stroke-width="0.64" />
<path d="M90.9,602.4 L90.8,617.2" fill="none" stroke="#111" stroke-width="0.64" />
<path d="M91.9,602.4 L91.7,617.2" fill="none" stroke="#111" stroke-width="0.64" />
<path d="M92.9,602.4 L92.7,617.2" fill="none" stroke="#111" stroke-width="0.64" />
<path d="M91.0,593.5 L96.2,594.7 L97.8,598.3 L93.8,600.9 L89.8,599.8" fill="none" stroke="#111" stroke-width="1.06" />
<path d="M99.8,578.3 L116.7,580.7 L123.5,578.3" fill="none" stroke="#111" stroke-width="1.17" />
<path d="M116.7,580.8 L96.2,594.5" fill="none" stroke="#111" stroke-width="1.27" />
<path d="M116.0,580.9 L96.5,593.8" fill="none" stroke="#111" stroke-width="0.64" />
<path d="M115.3,581.0 L96.7,593.0" fill="none" stroke="#111" stroke-width="0.64" />
<path d="M114.5,581.1 L97.0,592.3" fill="none" stroke="#111" stroke-width="0.64" />
<path d="M113.8,581.2 L97.2,591.6" fill="none" stroke="#111" stroke-width="0.64" />
<path d="M109.1,582.1 L97.0,592.1" fill="none" stroke="#111" stroke-width="0.95" />
<path d="M118.7,580.5 L97.8,596.7" fill="none" stroke="#111" stroke-width="0.95" />
<path d="M120.3,576.7 C120.3,576.1 119.9,574.7 120.3,573.5 C120.7,572.3 121.5,570.9 122.7,569.4 C123.9,568.0 125.8,565.8 127.5,564.6 C129.3,563.4 131.1,562.7 133.2,562.2 C135.2,561.8 137.7,561.7 139.6,561.8 C141.4,562.0 142.9,562.2 144.4,563.0 C145.9,563.9 147.6,565.9 148.4,567.0 C149.2,568.2 149.1,569.4 149.2,569.8" fill="none" stroke="#111" stroke-width="1.27" />
<path d="M132.4,571.1 C132.5,570.5 132.4,568.9 133.2,567.8 C134.0,566.8 135.6,565.4 137.2,564.6 C138.8,563.9 141.2,563.2 142.8,563.4 C144.4,563.7 146.1,565.8 146.8,566.2" fill="none" stroke="#111" stroke-width="1.38" />
<path d="M120.3,576.7 L123.5,577.9 L125.1,571.1 L122.7,569.4" fill="none" stroke="#111" stroke-width="1.06" />
<path d="M140.4,569.0 L144.8,569.8" fill="none" stroke="#111" stroke-width="2.54" />
<path d="M125.1,571.5 L157.2,576.3 L165.0,572.3" fill="none" stroke="#111" stroke-width="1.17" />
<path d="M125.5,578.3 L155.6,582.7" fill="none" stroke="#111" stroke-width="1.17" />
<path d="M133.2,572.5 L158.0,576.8" fill="none" stroke="#111" stroke-width="0.85" />
<path d="M154.8,582.7 L157.6,583.6" fill="none" stroke="#111" stroke-width="2.33" />
<path d="M145.0,571.5 L159.4,574.7" fill="none" stroke="#111" stroke-width="1.06" />
<path d="M145.0,573.9 L159.4,577.1 L166.3,578.3" fill="none" stroke="#111" stroke-width="1.06" />
<path d="M145.0,581.5 L156.2,583.1" fill="none" stroke="#111" stroke-width="1.06" />
<path d="M166.3,578.3 L166.7,583.5 L177.9,581.9 L189.9,579.5" fill="none" stroke="#111" stroke-width="1.17" />
<path d="M166.3,578.3 L174.7,574.3 L183.5,570.7" fill="none" stroke="#111" stroke-width="1.06" />
<path d="M174.7,574.3 L177.9,581.9" fill="none" stroke="#111" stroke-width="1.06" />
<path d="M177.1,582.7 L198.4,589.1 L213.2,584.3" fill="none" stroke="#111" stroke-width="1.06" />
<path d="M156.6,583.5 L198.1,589.7" fill="none" stroke="#111" stroke-width="2.76" />
<path d="M153.0,586.7 L196.4,595.1 L205.2,591.9 L225.0,595.1" fill="none" stroke="#111" stroke-width="1.17" />
<path d="M154.6,588.7 L197.2,597.1 L206.0,593.5" fill="none" stroke="#111" stroke-width="1.06" />
<path d="M205.2,591.9 L206.0,593.5" fill="none" stroke="#111" stroke-width="0.95" />
<path d="M146.6,596.7 L154.6,590.3" fill="none" stroke="#111" stroke-width="1.06" />
<path d="M119.1,592.3 L133.2,583.1 L141.2,584.3 L126.7,593.4" fill="none" stroke="#111" stroke-width="1.17" />
<path d="M119.1,592.3 L126.7,593.4 " fill="none" stroke="#111" stroke-width="1.17" />
<path d="M118.3,592.7 L119.1,594.3 L126.7,594.7 L127.5,593.4" fill="none" stroke="#111" stroke-width="0.95" />
<path d="M120.6,592.5 L134.8,583.3" fill="none" stroke="#111" stroke-width="0.64" />
<path d="M122.2,592.7 L136.4,583.6" fill="none" stroke="#111" stroke-width="0.64" />
<path d="M123.7,592.9 L138.0,583.8" fill="none" stroke="#111" stroke-width="0.64" />
<path d="M125.2,593.1 L139.6,584.1" fill="none" stroke="#111" stroke-width="0.64" />
<path d="M154.8,583.1 L132.4,599.9 L165.0,605.2" fill="none" stroke="#111" stroke-width="2.54" />
<path d="M150.8,587.3 L129.9,602.0" fill="none" stroke="#111" stroke-width="1.06" />
<path d="M153.2,589.5 L146.0,596.7 L165.0,599.9" fill="none" stroke="#111" stroke-width="0.95" />
<path d="M136.4,598.7 L165.0,603.2" fill="none" stroke="#111" stroke-width="0.95" />
<path d="M145.0,598.7 L193.2,606.4 L202.0,600.7" fill="none" stroke="#111" stroke-width="1.06" />
<path d="M202.0,600.7 L220.4,603.2" fill="none" stroke="#111" stroke-width="2.33" />
<path d="M220.4,603.2 L225.0,597.5" fill="none" stroke="#111" stroke-width="1.06" />
<path d="M220.4,603.2 L215.6,610.4 L210.0,615.2" fill="none" stroke="#111" stroke-width="1.17" />
<path d="M145.0,602.4 L200.4,610.4 L204.4,616.0" fill="none" stroke="#111" stroke-width="1.06" />
<path d="M145.0,604.8 L199.6,612.4" fill="none" stroke="#111" stroke-width="0.95" />
<path d="M121.1,595.9 L103.1,610.8 L105.1,615.0 L120.3,632.3 L165.0,641.5" fill="none" stroke="#111" stroke-width="2.54" />
<path d="M122.7,598.7 L107.1,611.2 L109.1,615.0 L121.9,630.2 L165.0,638.3" fill="none" stroke="#111" stroke-width="1.17" />
<path d="M125.1,600.9 L110.7,611.2 L112.7,615.0 L123.5,628.2 L165.0,635.5" fill="none" stroke="#111" stroke-width="1.17" />
<path d="M121.5,604.0 L113.9,611.2 L115.9,615.0 L120.3,622.6 L145.0,625.4 L171.5,631.1 L176.3,627.0 L177.1,615.0" fill="none" stroke="#111" stroke-width="1.27" />
<path d="M121.5,604.0 L165.0,610.4 L145.0,607.2 L177.1,611.2 L178.7,616.0" fill="none" stroke="#111" stroke-width="1.27" />
<path d="M120.3,625.4 L165.0,633.5" fill="none" stroke="#111" stroke-width="0.85" />
<path d="M121.8,627.8 L165.0,636.0" fill="none" stroke="#111" stroke-width="0.85" />
<path d="M123.7,631.1 L165.0,639.1" fill="none" stroke="#111" stroke-width="0.85" />
<path d="M145.0,628.6 L198.0,643.9 L202.8,639.1 L203.6,615.0" fill="none" stroke="#111" stroke-width="1.7" />
<path d="M145.0,631.1 L196.4,641.5" fill="none" stroke="#111" stroke-width="0.85" />
<path d="M145.0,633.5 L193.2,643.9" fill="none" stroke="#111" stroke-width="0.85" />
<path d="M145.0,636.3 L201.2,647.1" fill="none" stroke="#111" stroke-width="1.06" />
<path d="M145.0,639.1 L206.0,650.3" fill="none" stroke="#111" stroke-width="0.85" />
<path d="M145.0,642.3 L210.8,652.7" fill="none" stroke="#111" stroke-width="1.06" />
<path d="M145.0,644.7 L216.4,655.1" fill="none" stroke="#111" stroke-width="0.95" />
<path d="M145.0,647.1 L217.2,655.9 L219.6,654.3 L213.2,643.1 L206.8,639.1" fill="none" stroke="#111" stroke-width="1.17" />
<path d="M191.5,645.5 L201.2,651.1" fill="none" stroke="#111" stroke-width="0.95" />
<path d="M178.7,615.0 L179.5,628.6 L176.5,635.1" fill="none" stroke="#111" stroke-width="1.38" />
<path d="M180.3,615.0 L181.1,629.0 L178.1,635.7" fill="none" stroke="#111" stroke-width="0.85" />
<path d="M182.7,615.0 L183.5,629.6 L180.5,636.5" fill="none" stroke="#111" stroke-width="1.38" />
<path d="M184.3,615.0 L185.1,630.0 L182.1,637.1" fill="none" stroke="#111" stroke-width="0.85" />
<path d="M186.7,615.0 L187.5,630.7 L184.5,637.9" fill="none" stroke="#111" stroke-width="1.38" />
<path d="M188.3,615.0 L189.1,631.1 L186.1,638.5" fill="none" stroke="#111" stroke-width="0.85" />
<path d="M190.7,615.0 L191.5,631.7 L188.5,639.3" fill="none" stroke="#111" stroke-width="1.38" />
<path d="M192.4,615.0 L193.2,632.1 L190.1,639.9" fill="none" stroke="#111" stroke-width="0.85" />
<path d="M196.0,615.0 L196.8,633.0 L193.7,641.1" fill="none" stroke="#111" stroke-width="1.38" />
<path d="M197.6,615.0 L198.4,633.4 L195.3,641.7" fill="none" stroke="#111" stroke-width="0.85" />
<path d="M200.4,615.0 L201.2,639.1 L199.6,645.5" fill="none" stroke="#111" stroke-width="2.12" />
<path d="M178.7,616.0 L179.5,625.0" fill="none" stroke="#111" stroke-width="1.06" />
<path d="M200.4,610.4 L204.4,616.0 L203.6,625.0" fill="none" stroke="#111" stroke-width="1.7" />
<g filter="url(#nf)"><rect x="100" y="595" width="90" height="45" fill="none"/><g transform="translate(121.5 618.4) rotate(7.8) skewX(-6)"><path d="M0,-8.6 L0,0 M1.5,-8.6 L1.5,0 M3,-8.6 L3,0" stroke="#111" stroke-width="1.0" fill="none"/><text x="4.4" y="0" font-size="12" font-weight="bold" textLength="49.5" lengthAdjust="spacingAndGlyphs" style="font-family:'Liberation Sans',sans-serif;fill:#fff;stroke:#111;stroke-width:1.2px">WORKZONE</text></g></g>
<path d="M237.7,586.2 L224.6,593.3 L205.4,592.3" fill="none" stroke="#111" stroke-width="1.17" />
<path d="M224.6,593.3 L232.7,603.4 L246.8,602.4" fill="none" stroke="#111" stroke-width="1.17" />
<path d="M232.7,603.4 L216.5,610.5 L210.5,614.5" fill="none" stroke="#111" stroke-width="1.06" />
<path d="M224.6,593.3 L220.5,602.4 L216.5,610.5" fill="none" stroke="#111" stroke-width="1.06" />
<path d="M202.4,617.0 L246.8,616.0" fill="none" stroke="#111" stroke-width="2.01" />
<path d="M202.4,620.5 L246.8,619.5" fill="none" stroke="#111" stroke-width="2.01" />
<path d="M202.4,626.6 L246.8,625.6" fill="none" stroke="#111" stroke-width="2.01" />
<path d="M202.4,629.6 L246.8,628.6" fill="none" stroke="#111" stroke-width="2.01" />
<path d="M202.4,634.7 L246.8,634.2" fill="none" stroke="#111" stroke-width="2.01" />
<path d="M202.4,638.7 L246.8,638.2" fill="none" stroke="#111" stroke-width="2.01" />
<path d="M210.5,614.5 C210.0,616.3 207.9,621.4 207.9,625.6 C207.9,629.8 209.0,636.0 210.5,639.7 C211.9,643.5 215.5,646.6 216.5,648.0" fill="none" stroke="#111" stroke-width="1.27" />
<path d="M226.6,607.4 C226.3,608.9 225.0,612.6 224.6,616.5 C224.2,620.4 223.7,626.6 224.1,630.6 C224.4,634.7 225.5,637.7 226.6,640.7 C227.7,643.8 230.0,647.5 230.6,648.8" fill="none" stroke="#111" stroke-width="1.27" />
<path d="M214.5,616.5 L214.5,639.7" fill="none" stroke="#111" stroke-width="1.8" />
<path d="M218.5,616.3 L218.5,639.5" fill="none" stroke="#111" stroke-width="1.8" />
<path d="M205.9,616.5 L205.9,639.7" fill="none" stroke="#111" stroke-width="1.38" />
<path d="M216.5,610.5 L228.6,606.9 L246.8,604.4" fill="none" stroke="#111" stroke-width="0.95" />
<path d="M210.5,613.5 L212.5,612.0 L218.0,611.5 L217.5,615.0" fill="none" stroke="#111" stroke-width="0.85" />
<path d="M213.3,635.0 L220.9,655.2 L236.0,666.6" fill="none" stroke="#111" stroke-width="1.06" />
<path d="M220.9,655.2 L243.6,654.0" fill="none" stroke="#111" stroke-width="0.95" />
<path d="M224.6,641.4 L229.7,659.0" fill="none" stroke="#111" stroke-width="0.95" />
<path d="M180.3,655.1 C182.5,655.7 189.9,656.7 193.2,658.3 C196.4,659.9 197.6,663.4 199.6,664.8 C201.6,666.2 201.0,666.8 205.2,666.8 C209.4,666.8 221.7,665.1 225.0,664.8" fill="none" stroke="#111" stroke-width="1.91" />
<path d="M158.6,652.7 L180.3,655.1" fill="none" stroke="#111" stroke-width="1.27" />
<path d="M154.6,650.3 L171.5,652.7 L172.7,651.5 L180.3,652.1 L180.7,655.1" fill="none" stroke="#111" stroke-width="0.95" />
<path d="M89.4,619.0 L93.8,619.8 L114.3,638.3" fill="none" stroke="#111" stroke-width="1.17" />
<path d="M91.4,622.1 L111.9,638.8" fill="none" stroke="#111" stroke-width="0.85" />
<path d="M93.0,624.0 L112.7,638.4" fill="none" stroke="#111" stroke-width="0.85" />
<path d="M97.0,634.3 L111.5,635.5" fill="none" stroke="#111" stroke-width="1.7" />
<path d="M97.0,638.3 L121.9,642.7" fill="none" stroke="#111" stroke-width="1.17" />
<path d="M97.8,636.0 L117.1,639.1" fill="none" stroke="#111" stroke-width="0.85" />
<path d="M114.3,632.3 L128.3,643.1" fill="none" stroke="#111" stroke-width="1.06" />
<path d="M115.9,632.3 L129.1,642.4" fill="none" stroke="#111" stroke-width="0.74" />
<path d="M117.5,632.8 L130.1,642.1" fill="none" stroke="#111" stroke-width="0.74" />
<path d="M129.9,632.3 L147.6,643.1" fill="none" stroke="#111" stroke-width="1.91" />
<path d="M134.8,635.9 L149.2,645.5" fill="none" stroke="#111" stroke-width="1.06" />
<path d="M97.8,639.9 L101.1,641.5 L123.5,645.1 L129.9,645.5" fill="none" stroke="#111" stroke-width="1.06" />
<path d="M102.3,643.5 L108.3,654.3 L128.3,656.7 L123.5,645.9 L102.3,643.5" fill="none" stroke="#111" stroke-width="1.17" />
<rect x="110.7" y="646.9" width="2.8" height="4.8" rx="0.7" fill="#fff" stroke="#111" stroke-width="0.9" transform="rotate(-8 110.7 646.9)"/>
<rect x="115.9" y="647.6" width="2.8" height="4.8" rx="0.7" fill="#fff" stroke="#111" stroke-width="0.9" transform="rotate(-8 115.9 647.6)"/>
<rect x="120.7" y="648.2" width="2.8" height="4.8" rx="0.7" fill="#fff" stroke="#111" stroke-width="0.9" transform="rotate(-8 120.7 648.2)"/>
<path d="M129.1,649.5 L133.2,645.5 L142.8,646.7 L146.8,652.7 L144.4,661.1 L134.8,658.7Z" fill="#fff" stroke="#111" stroke-width="1.48" />
<path d="M131.1,650.3 L134.1,647.3 L141.6,648.3 L144.8,652.9 L142.9,659.0 L135.6,657.1Z" fill="none" stroke="#111" stroke-width="0.85" />
<path d="M134.0,652.7 L137.2,650.7 L140.4,648.7" fill="none" stroke="#111" stroke-width="1.27" />
<path d="M137.2,650.7 L136.4,655.1 L139.6,655.9" fill="none" stroke="#111" stroke-width="1.06" />
<path d="M142.8,646.7 L149.2,648.7 L151.6,649.5" fill="none" stroke="#111" stroke-width="0.95" />
<path d="M134.5,679.2 L199.4,677.3" fill="none" stroke="#111" stroke-width="0.95" />
<path d="M148.0,738.0 L206.0,735.3" fill="none" stroke="#111" stroke-width="0.95" />
<path d="M167.0,796.9 L210.9,796.9" fill="none" stroke="#111" stroke-width="0.95" />
<ellipse cx="162.26" cy="661.95" rx="1.3" ry="1.5" fill="none" stroke="#111" stroke-width="1.7" />
<ellipse cx="167.47" cy="662.35" rx="1.3" ry="1.5" fill="none" stroke="#111" stroke-width="1.7" />
<ellipse cx="173.09" cy="663.15" rx="1.3" ry="1.5" fill="none" stroke="#111" stroke-width="1.7" />
<ellipse cx="179.51" cy="663.56" rx="1.3" ry="1.5" fill="none" stroke="#111" stroke-width="1.7" />
<ellipse cx="159.45" cy="667.57" rx="1.3" ry="1.5" fill="none" stroke="#111" stroke-width="1.7" />
<ellipse cx="165.06" cy="667.97" rx="1.3" ry="1.5" fill="none" stroke="#111" stroke-width="1.7" />
<ellipse cx="171.08" cy="668.77" rx="1.3" ry="1.5" fill="none" stroke="#111" stroke-width="1.7" />
<ellipse cx="177.91" cy="669.57" rx="1.3" ry="1.5" fill="none" stroke="#111" stroke-width="1.7" />
<ellipse cx="162.26" cy="673.99" rx="1.3" ry="1.5" fill="none" stroke="#111" stroke-width="1.7" />
<ellipse cx="168.27" cy="674.79" rx="1.3" ry="1.5" fill="none" stroke="#111" stroke-width="1.7" />
<ellipse cx="175.1" cy="675.19" rx="1.3" ry="1.5" fill="none" stroke="#111" stroke-width="1.7" />
<ellipse cx="171.89" cy="681.21" rx="1.3" ry="1.5" fill="none" stroke="#111" stroke-width="1.7" />
<path d="M172.7,651.9 L171.5,679.2" fill="none" stroke="#111" stroke-width="0.85" />
<path d="M153.8,650.3 C152.6,653.8 147.0,665.4 146.6,671.2 C146.2,677.0 148.7,679.9 151.4,685.0 C154.1,690.1 160.3,696.3 162.8,701.9 C165.4,707.4 165.0,711.2 166.6,718.3 C168.2,725.4 169.8,734.6 172.5,744.4 C175.1,754.1 180.8,771.5 182.4,777.0" fill="none" stroke="#111" stroke-width="2.33" />
<path d="M158.6,652.7 C157.3,655.8 151.2,665.8 150.6,671.2 C150.1,676.6 152.8,680.1 155.4,685.0 C158.1,689.9 164.1,695.1 166.6,700.6 C169.1,706.2 169.0,711.0 170.4,718.3 C171.8,725.6 172.7,734.6 175.2,744.4 C177.7,754.1 183.5,771.5 185.2,777.0" fill="none" stroke="#111" stroke-width="1.17" />
<path d="M160.2,656.7 C159.4,658.9 154.9,664.9 155.4,669.6 C156.0,674.3 162.1,682.4 163.5,685.0" fill="none" stroke="#111" stroke-width="1.91" />
<path d="M156.5,671.6 C158.2,674.1 162.6,681.9 166.6,686.8 C170.6,691.6 176.5,697.3 180.5,700.6 C184.5,704.0 187.1,705.8 190.6,706.9 C194.1,708.1 199.5,707.5 201.3,707.6" fill="none" stroke="#111" stroke-width="1.91" />
<path d="M157.2,676.7 C158.7,679.0 162.9,685.9 166.6,690.5 C170.3,695.2 175.7,701.0 179.2,704.4 C182.8,707.9 184.3,710.2 188.1,711.4 C191.9,712.5 199.6,711.4 201.9,711.4" fill="none" stroke="#111" stroke-width="1.06" />
<path d="M166.6,698.1 L185.5,718.3 L188.1,725.9 L190.6,744.4 L194.2,795.1 L182.4,804.2 L167.9,795.1 L182.4,777.0" fill="none" stroke="#111" stroke-width="2.01" />
<path d="M168.5,701.9 L183.7,718.9 L186.2,726.5 L187.9,744.4 L191.5,794.2 L182.4,800.9 L171.0,794.2" fill="none" stroke="#111" stroke-width="0.95" />
<path d="M162.5,791.5 L167.9,795.1" fill="none" stroke="#111" stroke-width="1.06" />
<path d="M173.4,798.7 L174.3,807.8" fill="none" stroke="#111" stroke-width="0.95" />
<path d="M143.9,691.8 C143.3,695.2 139.9,704.4 140.1,712.0 C140.4,719.5 143.2,728.1 145.3,737.1 C147.4,746.1 150.1,758.2 152.5,766.1 C155.0,774.0 157.5,783.6 159.8,784.2 C162.1,784.8 166.1,777.6 166.1,769.7 C166.1,761.9 162.1,747.4 159.8,737.1 C157.5,726.8 155.4,715.4 152.5,708.1 C149.7,700.9 144.2,696.0 142.6,693.6" fill="none" stroke="#111" stroke-width="2.01" />
<path d="M147.1,695.6 C146.5,698.3 143.6,705.1 143.9,712.0 C144.2,718.9 147.0,728.4 148.9,737.1 C150.8,745.8 153.5,757.6 155.3,764.3 C157.1,770.9 158.6,776.2 159.8,777.0 C161.0,777.7 163.0,775.5 162.5,768.8 C162.1,762.2 159.0,746.9 157.1,737.1 C155.1,727.3 152.8,716.3 150.7,709.9 C148.6,703.6 145.4,700.9 144.4,699.1" fill="none" stroke="#111" stroke-width="0.95" />
<path d="M154.4,711.7 C155.7,716.0 159.9,727.4 162.5,737.1 C165.1,746.8 169.8,761.3 169.8,769.7 C169.8,778.2 163.7,784.8 162.5,787.8" fill="none" stroke="#111" stroke-width="1.06" />
<path d="M142.0,709.9 L145.2,711.1 L142.8,714.1Z" fill="#111" stroke="#111" stroke-width="0.85" />
<path d="M143.5,717.2 L146.7,718.4 L144.3,721.4Z" fill="#111" stroke="#111" stroke-width="0.85" />
<path d="M144.9,724.4 L148.1,725.6 L145.7,728.6Z" fill="#111" stroke="#111" stroke-width="0.85" />
<path d="M146.6,732.6 L149.8,733.8 L147.4,736.8Z" fill="#111" stroke="#111" stroke-width="0.85" />
<path d="M148.2,740.7 L151.4,741.9 L149.0,744.9Z" fill="#111" stroke="#111" stroke-width="0.85" />
<path d="M150.0,749.8 L153.2,751.0 L150.8,754.0Z" fill="#111" stroke="#111" stroke-width="0.85" />
<path d="M151.8,758.9 L155.0,760.1 L152.6,763.1Z" fill="#111" stroke="#111" stroke-width="0.85" />
<path d="M134.5,683.0 L141.4,688.0" fill="none" stroke="#111" stroke-width="0.95" />
<path d="M133.8,691.8 L140.1,696.9" fill="none" stroke="#111" stroke-width="0.95" />
<path d="M133.2,699.4 L139.5,705.7" fill="none" stroke="#111" stroke-width="0.95" />
<path d="M134.5,680.5 C135.6,681.3 139.8,683.6 141.4,685.5 C143.0,687.4 143.5,690.8 143.9,691.8" fill="none" stroke="#111" stroke-width="0.95" />
<path d="M132.6,704.5 L140.8,711.7" fill="none" stroke="#111" stroke-width="1.06" />
<path d="M121.7,828.6 C124.2,827.7 130.8,824.5 136.2,823.2 C141.7,821.8 147.4,821.5 154.4,820.5 C161.3,819.4 174.0,817.4 177.9,816.8" fill="none" stroke="#111" stroke-width="1.06" />
<path d="M177.9,816.8 L216.0,815.0" fill="none" stroke="#111" stroke-width="1.06" />
<path d="M139.9,827.7 L170.7,827.7 L172.5,824.1" fill="none" stroke="#111" stroke-width="1.59" />
<path d="M139.9,827.7 L147.1,842.2 L194.2,841.3 L219.6,839.5" fill="none" stroke="#111" stroke-width="1.59" />
<path d="M142.0,829.9 L148.6,840.8 L194.2,839.7" fill="none" stroke="#111" stroke-width="0.85" />
<path d="M177.9,816.8 L178.3,844.4" fill="none" stroke="#111" stroke-width="0.95" />
<path d="M194.2,824.1 L195.1,844.0" fill="none" stroke="#111" stroke-width="0.95" />
<path d="M154.4,810.5 L161.6,806.9 L181.5,807.8 L179.7,815.0 L172.5,825.9 L170.7,827.7" fill="none" stroke="#111" stroke-width="1.17" />
<path d="M156.2,815.0 L159.8,809.6 L179.7,811.0" fill="none" stroke="#111" stroke-width="0.95" />
<path d="M166.1,816.8 L164.3,823.2 L169.8,824.1" fill="none" stroke="#111" stroke-width="0.95" />
<path d="M166.1,816.8 L179.7,815.0" fill="none" stroke="#111" stroke-width="0.95" />
<path d="M123.6,830.4 C126.3,829.5 134.7,826.2 139.9,825.0 C145.0,823.8 148.3,824.1 154.4,823.2 C160.4,822.3 172.5,820.2 176.1,819.6" fill="none" stroke="#111" stroke-width="0.85" />
<path d="M216.0,816.8 L218.7,837.7" fill="none" stroke="#111" stroke-width="0.85" />
<ellipse cx="97.1" cy="575.4" rx="0.8" ry="0.8" fill="#111" stroke="#111" stroke-width="0.85" />
<path d="M64.6,641.6 L87.3,644.1 L93.3,655.7 L72.7,653.2Z" fill="#fff" stroke="#111" stroke-width="1.2" />
<path d="M85.3,644.1 L92.1,655.2" fill="none" stroke="#111" stroke-width="1.6" />
<path d="M86.8,643.6 L93.8,653.2 L93.3,656.4 L90.8,656.2" fill="none" stroke="#111" stroke-width="1.2" />
<path d="M106.3,747.6 L110.9,745.8 L132.6,748.3 L132.3,750.3 L121.7,751.6 L106.9,749.4Z" fill="#fff" stroke="#111" stroke-width="1.1" />
<path d="M110.9,745.8 L111.2,747.6 L132.3,749.8" fill="none" stroke="#111" stroke-width="0.9" />
<path d="M106.9,748.3 L121.7,750.3" fill="none" stroke="#111" stroke-width="0.9" />
<path d="M121.7,781.5 C122.2,779.4 124.8,778.2 127.2,777.3 C129.6,776.4 134.0,775.8 136.2,776.1 C138.5,776.3 139.6,778.0 140.8,778.8 C142.0,779.5 143.2,779.9 143.5,780.6 C143.8,781.3 144.1,781.6 142.6,782.8 C141.1,784.0 137.4,786.7 134.4,787.8 C131.4,789.0 126.6,790.7 124.5,789.7 C122.3,788.6 121.3,783.6 121.7,781.5Z" fill="#fff" stroke="#111" stroke-width="1.1" />
<path d="M121.7,781.5 L123.6,788.7" fill="none" stroke="#111" stroke-width="1.0" />
<path d="M123.2,784.2 C124.3,783.6 127.3,781.1 129.9,780.2 C132.5,779.4 137.4,779.3 139.0,779.1" fill="none" stroke="#111" stroke-width="0.9" />
<path d="M129.9,783.3 C130.2,782.4 132.6,781.0 134.4,780.6 C136.2,780.1 140.0,780.1 140.8,780.6 C141.5,781.0 140.3,782.4 139.0,783.3 C137.6,784.2 134.1,786.0 132.6,786.0 C131.1,786.0 129.6,784.2 129.9,783.3Z" fill="none" stroke="#111" stroke-width="1.0" />
<path d="M131.7,784.6 L139.0,781.7" fill="none" stroke="#111" stroke-width="1.2" />
<path d="M129.9,786.0 L136.2,784.2" fill="none" stroke="#111" stroke-width="0.8" />
<path d="M137.1,804.2 C136.8,802.9 138.1,802.3 139.0,802.0 C139.8,801.7 141.1,801.7 142.0,802.3 C142.9,803.0 144.2,804.9 144.4,806.0 C144.6,807.0 144.1,808.1 143.5,808.7 C142.9,809.3 141.8,810.3 140.8,809.6 C139.7,808.8 137.4,805.4 137.1,804.2Z" fill="#fff" stroke="#111" stroke-width="1.1" />
<path d="M137.5,804.5 L140.8,809.2" fill="none" stroke="#111" stroke-width="0.9" />
<path d="M140.2,802.7 L143.5,807.8" fill="none" stroke="#111" stroke-width="0.8" />
<path d="M336.2,602.2 L342.3,600.5 L362.9,603.6 L363.2,605.2 L353.2,606.0 L338.0,604.1Z" fill="#fff" stroke="#111" stroke-width="1.0" />
<path d="M338.6,602.9 L361.7,604.7" fill="none" stroke="#111" stroke-width="1.0" />
<path d="M343.5,601.2 L344.7,603.1" fill="none" stroke="#111" stroke-width="0.7" />
<path d="M350.8,602.2 L351.4,604.1" fill="none" stroke="#111" stroke-width="0.7" />
<path d="M356.9,603.0 L357.1,604.8" fill="none" stroke="#111" stroke-width="0.7" />
<path d="M342.3,601.2 L353.2,602.9 L362.9,603.9" fill="none" stroke="#111" stroke-width="0.8" />
<path d="M316.1,631.3 L318.6,627.7 L330.7,626.2 L343.5,627.7 L345.9,625.3 L356.9,624.4 L369.0,626.5 L370.9,630.7 L366.6,636.0 L349.6,637.7 L331.9,639.2 L327.7,636.8 L319.2,635.6Z" fill="#fff" stroke="#111" stroke-width="1.2" />
<path d="M330.7,626.2 L332.3,631.3 L329.1,637.2" fill="none" stroke="#111" stroke-width="1.0" />
<path d="M332.3,631.3 L367.8,628.9 L369.3,626.7" fill="none" stroke="#111" stroke-width="1.0" />
<path d="M367.8,628.9 L366.8,635.7" fill="none" stroke="#111" stroke-width="0.9" />
<path d="M343.5,627.7 C343.7,628.1 343.5,629.6 344.7,630.1 C345.9,630.7 348.9,631.1 350.8,631.1 C352.7,631.1 355.2,630.6 356.3,630.1 C357.3,629.6 356.8,628.3 356.9,627.9" fill="none" stroke="#111" stroke-width="1.0" />
<path d="M345.9,625.3 L347.8,627.9 L356.3,627.9" fill="none" stroke="#111" stroke-width="0.8" />
<ellipse cx="320.64" cy="633.16" rx="1.8" ry="2.6" fill="none" stroke="#111" stroke-width="1.0" transform="rotate(10 320.64 633.16)" />
<ellipse cx="324.65" cy="633.77" rx="1.8" ry="2.6" fill="none" stroke="#111" stroke-width="1.0" transform="rotate(10 324.65 633.77)" />
<path d="M338.6,638.4 L339.2,639.6 L349.0,638.9 L349.3,637.8" fill="none" stroke="#111" stroke-width="0.9" />
<path d="M300.5,675.1 C300.6,675.7 300.1,677.6 300.9,678.7 C301.6,679.8 303.7,680.0 305.1,681.7 C306.5,683.4 308.3,685.3 309.1,688.8 C310.0,692.2 310.1,697.6 310.1,702.4 C310.1,707.2 308.6,714.2 309.1,717.5 C309.6,720.8 310.5,721.1 313.2,722.1 C315.9,723.0 323.3,722.9 325.3,723.1 L325.8,720.5 L327.3,673.1 Z" fill="#fff" stroke="#111" stroke-width="1.3" />
<path d="M302.6,676.1 C303.0,676.6 303.7,678.4 305.1,679.2 C306.5,679.9 309.6,679.4 311.1,680.7 C312.7,681.9 313.5,683.1 314.2,686.7 C314.8,690.4 315.0,697.2 315.2,702.4 C315.3,707.6 315.2,715.4 315.2,718.0" fill="none" stroke="#111" stroke-width="1.0" />
<path d="M309.1,717.5 L315.7,718.3 L325.3,718.0" fill="none" stroke="#111" stroke-width="0.9" />
<path d="M325.8,673.6 L382.8,675.1 L384.3,718.5 L325.3,720.7Z" fill="#fff" stroke="#111" stroke-width="1.3" />
<path d="M329.3,673.1 L329.3,667.3 L336.4,667.3 L336.4,673.3" fill="#fff" stroke="#111" stroke-width="1.2" />
<path d="M329.3,669.6 L336.4,669.6" fill="none" stroke="#111" stroke-width="0.9" />
<path d="M340.4,673.9 L340.6,672.1 L347.5,672.1 L347.7,674.1" fill="none" stroke="#111" stroke-width="1.0" />
<path d="M356.6,674.4 L356.8,672.1 L374.7,672.1 L375.7,674.7" fill="none" stroke="#111" stroke-width="1.0" />
<path d="M337.4,676.1 L337.4,720.5" fill="none" stroke="#111" stroke-width="1.0" />
<path d="M347.5,676.1 L347.5,687.7" fill="none" stroke="#111" stroke-width="1.0" />
<path d="M340.9,676.1 L340.9,687.7" fill="none" stroke="#111" stroke-width="0.8" />
<path d="M365.6,675.3 L364.6,719.0" fill="none" stroke="#111" stroke-width="1.0" />
<path d="M376.5,675.1 L377.9,718.7" fill="none" stroke="#111" stroke-width="1.0" />
<path d="M337.4,688.1 L365.6,689.3 L365.6,691.5 L337.4,690.5Z" fill="#222" stroke="#111" stroke-width="1.0" />
<path d="M339.4,688.6 L347.5,688.9 L347.5,690.1 L339.4,689.9Z" fill="#fff" stroke="#111" stroke-width="0.5" />
<path d="M351.5,689.0 L360.6,689.3 L360.6,690.5 L351.5,690.3Z" fill="#fff" stroke="#111" stroke-width="0.5" />
<path d="M340.4,693.3 L360.6,693.5 L360.6,707.9 L340.4,707.9Z" fill="none" stroke="#111" stroke-width="1.2" />
<ellipse cx="354.74" cy="698.35" rx="3" ry="4.2" fill="#111" stroke="#111" stroke-width="0.8" />
<path d="M343.4,694.8 L349.5,694.8 L349.5,696.8 L343.4,696.8Z" fill="#222" stroke="#111" stroke-width="0.6" />
<path d="M344.4,698.8 L349.0,698.8 L349.0,701.4 L344.4,701.4Z" fill="#222" stroke="#111" stroke-width="0.6" />
<path d="M344.4,703.9 L356.6,704.2 L356.6,705.6 L344.4,705.4Z" fill="#222" stroke="#111" stroke-width="0.6" />
<path d="M365.6,684.2 L374.7,683.2 L374.7,690.3 L365.6,690.3Z" fill="none" stroke="#111" stroke-width="1.0" />
<path d="M371.2,684.2 L374.7,684.0 L374.7,689.5 L371.4,689.5Z" fill="#444" stroke="#111" stroke-width="0.8" />
<path d="M365.6,705.9 L375.7,704.9 L375.7,712.5 L365.6,712.5Z" fill="none" stroke="#111" stroke-width="1.0" />
<path d="M372.2,705.9 L375.7,705.7 L375.7,711.7 L372.4,711.7Z" fill="#444" stroke="#111" stroke-width="0.8" />
<path d="M376.5,683.2 L383.3,683.0" fill="none" stroke="#111" stroke-width="0.9" />
<path d="M376.9,690.3 L383.6,689.8" fill="none" stroke="#111" stroke-width="0.9" />
<path d="M377.2,705.4 L383.8,704.9" fill="none" stroke="#111" stroke-width="0.9" />
<path d="M377.5,712.0 L384.2,711.7" fill="none" stroke="#111" stroke-width="0.9" />
<path d="M361.1,712.5 L367.1,712.5 L367.5,719.5" fill="none" stroke="#111" stroke-width="0.9" />
<path d="M361.1,712.5 L361.1,719.5" fill="none" stroke="#111" stroke-width="0.9" />
<path d="M357.1,710.5 L359.6,710.5" fill="none" stroke="#111" stroke-width="1.2" />
<path d="M358.1,710.5 L358.1,715.0" fill="none" stroke="#111" stroke-width="1.2" />
<path d="M351.5,715.5 L354.0,717.5 L351.5,719.5Z" fill="#222" stroke="#111" stroke-width="0.6" />
<path d="M337.4,708.9 L340.9,711.5 L337.9,713.5Z" fill="#222" stroke="#111" stroke-width="0.6" />
<path d="M327.5,676.1 L336.4,676.3" fill="none" stroke="#111" stroke-width="1.6" />
<path d="M327.5,678.7 L336.4,678.9" fill="none" stroke="#111" stroke-width="1.6" />
<path d="M327.5,681.7 L336.4,681.9" fill="none" stroke="#111" stroke-width="1.6" />
<path d="M327.5,684.7 L336.4,684.9" fill="none" stroke="#111" stroke-width="1.6" />
<path d="M327.5,686.7 L336.4,686.9" fill="none" stroke="#111" stroke-width="1.6" />
<path d="M329.3,693.3 C329.1,694.1 327.8,696.5 327.8,698.3 C327.8,700.2 328.4,703.1 329.3,704.4 C330.2,705.7 332.3,706.2 333.3,705.9 C334.4,705.6 335.4,703.0 335.9,702.4" fill="none" stroke="#111" stroke-width="1.8" />
<path d="M330.3,694.3 C330.2,695.1 329.6,697.9 329.8,699.4 C330.1,700.8 331.0,702.5 331.8,702.9 C332.7,703.2 334.4,701.6 334.9,701.4" fill="none" stroke="#111" stroke-width="1.0" />
<path d="M327.3,690.3 L336.4,690.8" fill="none" stroke="#111" stroke-width="1.6" />
<path d="M325.3,712.5 L328.3,712.5 L328.8,718.0 L333.3,719.0 L339.4,716.5 L341.4,712.5" fill="none" stroke="#111" stroke-width="1.2" />
<path d="M329.8,709.4 L330.3,717.5" fill="none" stroke="#111" stroke-width="1.0" />
<path d="M333.8,708.4 L332.8,718.5" fill="none" stroke="#111" stroke-width="1.0" />
<path d="M322.2,676.1 L325.3,676.1 L325.3,679.2 L322.2,679.2Z" fill="none" stroke="#111" stroke-width="0.9" />
<ellipse cx="380.27" cy="704.9" rx="0.9" ry="0.9" fill="#111" stroke="#111" stroke-width="0.8" />
<path d="M334.8,763.8 L334.4,775.8 L336.4,776.6 L346.0,776.6 L346.8,775.0 L346.8,764.2Z" fill="#fff" stroke="#111" stroke-width="1.2" />
<path d="M349.6,763.8 L349.6,774.6 L351.2,775.8 L361.2,776.2 L362.0,774.6 L362.0,764.6Z" fill="#fff" stroke="#111" stroke-width="1.2" />
<path d="M351.6,764.6 L357.2,764.6 L357.2,766.2 L351.6,766.2Z" fill="none" stroke="#111" stroke-width="1.0" />
<path d="M337.6,755.4 L338.0,748.6 L339.6,747.4 L343.6,747.8 L344.8,749.4 L344.4,755.4Z" fill="#fff" stroke="#111" stroke-width="1.2" />
<path d="M353.2,755.0 L353.6,748.2 L355.2,747.0 L358.8,747.4 L360.0,749.0 L359.6,755.4Z" fill="#fff" stroke="#111" stroke-width="1.2" />
<ellipse cx="340.96" cy="751.8" rx="0.9" ry="1.5" fill="none" stroke="#111" stroke-width="0.9" />
<ellipse cx="356.24" cy="751.4" rx="0.9" ry="1.5" fill="none" stroke="#111" stroke-width="0.9" />
<path d="M322.0,755.0 L337.2,754.6 L347.6,756.2 L375.2,756.2 L374.8,761.4 L373.6,763.4 L348.4,763.0 L323.2,762.6 L322.4,759.8Z" fill="#fff" stroke="#111" stroke-width="1.3" />
<path d="M322.4,759.8 L347.6,761.0 L374.8,761.4" fill="none" stroke="#111" stroke-width="1.0" />
<path d="M347.6,756.2 L347.6,763.8" fill="none" stroke="#111" stroke-width="1.0" />
<path d="M350.8,756.6 L350.8,763.0" fill="none" stroke="#111" stroke-width="1.0" />
<path d="M345.2,754.6 L352.4,754.2" fill="none" stroke="#111" stroke-width="1.4" />
<path d="M463.7,474.6 L465.7,472.1 L471.2,473.1 L479.8,475.1 L484.4,470.5 L492.4,471.6 L496.5,475.1 L505.5,478.1 L519.7,481.1 L528.3,480.6 L538.3,483.1 L543.4,486.6 L546.9,493.2 L565.6,498.8 L572.7,498.8 L585.8,502.3 L600.0,507.8 L606.9,519.1 L611.9,530.5 L613.2,541.8 L610.0,554.5 L603.1,564.5 L593.0,570.9 L580.4,580.9 L579.6,583.3 L548.8,577.8 L541.5,581.4 L538.8,585.1 L545.1,600.0 L548.8,627.2 L550.6,654.4 L549.7,681.6 L548.8,708.8 L552.4,719.6 L565.1,726.9 L570.5,734.1 L571.4,755.9 L538.8,755.9 L537.9,752.3 L506.2,750.4 L506.2,745.0 L507.1,735.6 L478.1,735.9 L476.3,730.5 L482.6,725.1 L492.6,719.6 L502.5,717.8 L499.8,701.5 L494.4,676.1 L488.9,647.1 L488.9,629.0 L484.4,619.0 L479.9,614.5 L492.6,605.4 L496.2,603.2 L498.0,576.0 L492.6,562.4 L454.5,558.8 L450.9,550.6 L455.4,547.0 L465.4,544.3 L474.4,537.9 L482.6,523.4 L485.3,505.3 L479.0,487.2 L471.7,481.8 L464.5,479.9Z" fill="#fff" stroke="#111" stroke-width="1.34" />
<path d="M479.0,487.2 C480.0,490.2 484.7,499.3 485.3,505.3 C485.9,511.4 484.4,518.0 482.6,523.4 C480.8,528.9 477.0,534.3 474.4,537.9 C471.9,541.6 468.4,544.0 467.2,545.2" fill="none" stroke="#111" stroke-width="1.68" />
<path d="M482.6,485.4 C483.7,488.7 488.3,499.0 488.9,505.3 C489.5,511.7 488.0,517.9 486.2,523.4 C484.4,529.0 480.6,534.9 478.1,538.8 C475.5,542.8 472.0,545.6 470.8,547.0" fill="none" stroke="#111" stroke-width="1.12" />
<path d="M486.2,484.5 C487.3,487.9 492.0,498.7 492.6,505.3 C493.2,512.0 491.7,518.6 489.8,524.3 C488.0,530.1 484.1,535.8 481.7,539.8 C479.3,543.7 476.4,546.6 475.3,547.9" fill="none" stroke="#111" stroke-width="0.9" />
<ellipse cx="475.71" cy="482.66" rx="3" ry="4.6" fill="none" stroke="#111" stroke-width="1.23" transform="rotate(20 475.71 482.66)" />
<ellipse cx="474.44" cy="482.66" rx="3" ry="4.6" fill="none" stroke="#111" stroke-width="1.01" transform="rotate(20 474.44 482.66)" />
<ellipse cx="468.09" cy="549.72" rx="3.2" ry="5" fill="none" stroke="#111" stroke-width="1.23" transform="rotate(20 468.09 549.72)" />
<ellipse cx="466.83" cy="549.72" rx="3.2" ry="5" fill="none" stroke="#111" stroke-width="1.01" transform="rotate(20 466.83 549.72)" />
<path d="M463.6,472.7 L464.5,479.9" fill="none" stroke="#111" stroke-width="1.12" />
<path d="M465.4,476.3 L474.4,478.1" fill="none" stroke="#111" stroke-width="1.01" />
<path d="M483.5,470.9 L485.3,478.1 L525.2,489.0 L528.8,484.5" fill="none" stroke="#111" stroke-width="1.12" />
<path d="M486.2,479.9 L527.0,491.7" fill="none" stroke="#111" stroke-width="1.12" />
<path d="M487.5,475.4 L501.6,477.2 L525.2,486.3" fill="none" stroke="#111" stroke-width="0.9" />
<path d="M492.6,487.2 L525.2,496.3" fill="none" stroke="#111" stroke-width="1.57" />
<path d="M528.3,480.6 L530.3,489.2" fill="none" stroke="#111" stroke-width="1.12" />
<path d="M538.3,483.1 L534.8,491.7 L539.9,494.7" fill="none" stroke="#111" stroke-width="1.12" />
<path d="M538.8,493.5 L570.5,503.1" fill="none" stroke="#111" stroke-width="2.46" />
<path d="M539.3,496.3 L569.6,505.3" fill="none" stroke="#111" stroke-width="1.12" />
<path d="M540.1,491.2 L570.9,500.2" fill="none" stroke="#111" stroke-width="1.01" />
<path d="M566.9,503.5 L585.0,507.5 L586.8,504.4" fill="none" stroke="#111" stroke-width="1.12" />
<path d="M570.5,500.8 L590.4,505.3" fill="none" stroke="#111" stroke-width="1.01" />
<path d="M574.1,505.3 L575.0,509.8 L583.2,511.7" fill="none" stroke="#111" stroke-width="1.12" />
<path d="M499.5,507.9 L529.3,511.9 L525.7,530.1 L497.0,523.3Z" fill="none" stroke="#111" stroke-width="1.46" />
<path d="M504.5,512.9 L525.7,517.5 L524.7,526.8 L503.5,521.7Z" fill="none" stroke="#111" stroke-width="1.12" />
<path d="M500.0,509.9 L528.2,514.2" fill="none" stroke="#111" stroke-width="1.01" />
<path d="M497.5,521.5 L525.7,528.1" fill="none" stroke="#111" stroke-width="1.01" />
<path d="M496.5,509.4 L496.0,522.5" fill="none" stroke="#111" stroke-width="1.34" />
<path d="M493.4,508.4 L492.4,523.0" fill="none" stroke="#111" stroke-width="1.12" />
<path d="M489.4,506.9 L488.9,521.5" fill="none" stroke="#111" stroke-width="1.34" />
<path d="M488.4,501.3 L497.5,502.8 L497.0,505.4 L488.4,503.8Z" fill="none" stroke="#111" stroke-width="1.12" />
<path d="M491.9,491.7 L497.5,492.2 L497.0,499.8 L492.4,499.3Z" fill="none" stroke="#111" stroke-width="1.12" />
<ellipse cx="503.32" cy="495.07" rx="2.2" ry="2.8" fill="none" stroke="#111" stroke-width="1.12" />
<path d="M500.0,494.3 L506.6,495.3 L505.5,503.3 L499.5,502.8" fill="none" stroke="#111" stroke-width="1.01" />
<ellipse cx="519.67" cy="498.8" rx="2.4" ry="2.8" fill="none" stroke="#111" stroke-width="1.12" />
<path d="M513.6,495.3 L524.7,498.3 L522.7,507.4" fill="none" stroke="#111" stroke-width="1.01" />
<path d="M515.6,494.3 L517.7,499.8 L523.7,501.3" fill="none" stroke="#111" stroke-width="1.01" />
<path d="M528.8,490.2 L532.8,489.2 L536.3,494.3 L533.8,500.3 L528.8,498.8" fill="none" stroke="#111" stroke-width="1.12" />
<ellipse cx="532.59" cy="494.26" rx="2.4" ry="3.6" fill="none" stroke="#111" stroke-width="1.12" transform="rotate(10 532.59 494.26)" />
<path d="M525.7,508.4 L535.8,498.3 L541.9,501.3 L533.8,510.4" fill="none" stroke="#111" stroke-width="1.12" />
<path d="M489.4,506.9 L492.4,508.4 L492.4,522.5 L488.9,521.5Z" fill="#777" stroke="#111" stroke-width="1.01" />
<path d="M493.4,507.9 L496.5,509.4 L496.0,523.5 L493.4,523.0Z" fill="none" stroke="#111" stroke-width="1.01" />
<path d="M484.9,476.1 L483.8,482.7 L485.4,484.7 L527.2,492.2" fill="none" stroke="#111" stroke-width="1.23" />
<path d="M489.4,486.7 L525.7,493.8" fill="none" stroke="#111" stroke-width="1.01" />
<path d="M487.4,474.6 L492.4,475.1 L495.5,478.6 L501.5,480.1 L509.6,478.9" fill="none" stroke="#111" stroke-width="1.01" />
<path d="M501.5,480.1 L503.0,482.7 L515.6,485.7 L517.7,483.7" fill="none" stroke="#111" stroke-width="1.01" />
<path d="M480.3,487.4 C481.1,489.2 484.2,494.5 485.2,498.3 C486.1,502.1 486.4,506.5 486.2,510.4 C485.9,514.3 485.1,517.9 483.6,521.5 C482.2,525.1 479.8,528.5 477.5,531.8 C475.2,535.1 471.3,539.9 470.0,541.5" fill="none" stroke="#111" stroke-width="0.78" />
<path d="M468.2,541.7 L478.3,544.7 L505.5,550.8" fill="none" stroke="#111" stroke-width="1.34" />
<path d="M465.2,545.2 L477.3,547.7 L501.5,553.0" fill="none" stroke="#111" stroke-width="1.01" />
<path d="M470.2,480.1 L471.7,486.2 L475.3,487.7" fill="none" stroke="#111" stroke-width="1.01" />
<path d="M485.4,526.6 L484.9,529.6" fill="none" stroke="#111" stroke-width="0.9" />
<path d="M497.0,523.3 L495.5,529.6 L501.0,530.6" fill="none" stroke="#111" stroke-width="1.01" />
<path d="M525.7,530.1 L526.2,535.6 L529.3,536.1" fill="none" stroke="#111" stroke-width="1.01" />
<path d="M529.3,511.9 L530.8,509.4 L533.8,510.4" fill="none" stroke="#111" stroke-width="1.01" />
<path d="M504.0,529.6 L522.7,533.6 L522.2,535.6 L503.5,531.4Z" fill="#222" stroke="#111" stroke-width="0.67" />
<ellipse cx="497.98" cy="540.48" rx="2.4" ry="3" fill="none" stroke="#111" stroke-width="1.23" />
<ellipse cx="514.63" cy="545.22" rx="2.2" ry="2.8" fill="none" stroke="#111" stroke-width="1.23" />
<path d="M504.5,540.2 L509.6,540.9 L509.4,549.6 L504.3,548.8Z" fill="none" stroke="#111" stroke-width="1.12" />
<path d="M506.8,540.7 L506.6,549.0" fill="none" stroke="#111" stroke-width="1.01" />
<path d="M485.4,526.6 L493.4,528.1 L492.4,531.6 L484.9,529.6Z" fill="none" stroke="#111" stroke-width="1.12" />
<path d="M487.4,532.1 L492.4,532.8 L491.4,539.7 L486.4,538.7Z" fill="none" stroke="#111" stroke-width="1.12" />
<path d="M501.0,530.6 L495.5,539.7" fill="none" stroke="#111" stroke-width="1.01" />
<path d="M518.7,539.7 L524.7,540.7 L523.7,551.8" fill="none" stroke="#111" stroke-width="1.23" />
<path d="M517.7,540.2 L519.2,552.8" fill="none" stroke="#111" stroke-width="1.01" />
<path d="M539.4,494.2 L560.5,500.3" fill="none" stroke="#111" stroke-width="1.23" />
<path d="M539.8,495.1 L560.8,501.2" fill="none" stroke="#111" stroke-width="1.23" />
<path d="M540.2,496.0 L561.2,502.1" fill="none" stroke="#111" stroke-width="1.23" />
<path d="M540.6,496.9 L561.5,503.0" fill="none" stroke="#111" stroke-width="1.23" />
<path d="M541.0,497.9 L561.8,503.9" fill="none" stroke="#111" stroke-width="1.23" />
<path d="M566.6,501.5 L576.7,505.5" fill="none" stroke="#111" stroke-width="1.12" />
<path d="M566.9,502.3 L577.0,506.3" fill="none" stroke="#111" stroke-width="1.12" />
<path d="M567.2,503.1 L577.3,507.1" fill="none" stroke="#111" stroke-width="1.12" />
<path d="M533.3,499.3 C532.8,500.9 531.1,505.8 530.3,509.4 C529.5,512.9 528.6,516.1 528.5,520.5 C528.3,524.8 528.6,531.6 529.3,535.6 C529.9,539.6 531.8,543.2 532.3,544.7" fill="none" stroke="#111" stroke-width="1.23" />
<path d="M535.3,500.3 C534.8,501.9 533.2,506.5 532.5,509.9 C531.7,513.2 530.9,516.2 530.8,520.5 C530.6,524.7 530.8,531.6 531.5,535.6 C532.2,539.6 534.3,543.2 534.8,544.7" fill="none" stroke="#111" stroke-width="1.01" />
<path d="M541.9,500.3 C542.8,502.3 546.6,507.3 547.4,512.4 C548.3,517.4 548.1,524.7 546.9,530.5 C545.7,536.4 542.3,543.1 540.4,547.7 C538.4,552.3 536.2,556.3 535.3,558.0" fill="none" stroke="#111" stroke-width="1.34" />
<path d="M544.4,501.3 C545.4,503.5 549.6,509.2 550.5,514.4 C551.3,519.6 550.8,526.7 549.4,532.6 C548.1,538.4 544.2,545.5 542.4,549.7 C540.5,554.0 539.0,556.6 538.3,558.0" fill="none" stroke="#111" stroke-width="1.01" />
<path d="M539.9,499.8 C540.8,501.9 544.6,507.3 545.4,512.4 C546.2,517.5 546.0,524.8 544.9,530.5 C543.8,536.3 539.9,544.0 538.8,546.7" fill="none" stroke="#111" stroke-width="0.9" />
<path d="M534.8,515.4 L542.4,516.2 L542.4,518.2 L534.8,517.4Z" fill="none" stroke="#111" stroke-width="1.12" />
<path d="M534.0,524.5 L541.6,525.3 L541.6,527.3 L534.0,526.5Z" fill="none" stroke="#111" stroke-width="1.12" />
<path d="M533.2,533.6 L540.7,534.4 L540.7,536.4 L533.2,535.6Z" fill="none" stroke="#111" stroke-width="1.12" />
<path d="M538.8,517.4 L538.1,534.6" fill="none" stroke="#111" stroke-width="1.01" />
<path d="M533.3,499.3 L536.3,500.3 L530.3,509.9 L525.2,508.8" fill="none" stroke="#111" stroke-width="1.12" />
<path d="M525.2,508.8 L533.3,499.3" fill="none" stroke="#111" stroke-width="1.12" />
<path d="M544.4,510.4 L578.7,519.4" fill="none" stroke="#111" stroke-width="1.34" />
<path d="M544.9,512.4 L577.7,521.0" fill="none" stroke="#111" stroke-width="1.12" />
<path d="M543.4,544.2 L587.8,554.0" fill="none" stroke="#111" stroke-width="2.69" />
<path d="M542.4,546.7 L586.8,556.3" fill="none" stroke="#111" stroke-width="1.12" />
<path d="M527.0,539.8 L541.5,543.4" fill="none" stroke="#111" stroke-width="1.12" />
<path d="M472.6,545.2 L525.2,554.3 L577.8,566.9" fill="none" stroke="#111" stroke-width="1.46" />
<path d="M470.8,549.7 L494.4,554.3 L541.5,564.2" fill="none" stroke="#111" stroke-width="1.12" />
<path d="M458.1,554.3 L492.6,559.7" fill="none" stroke="#111" stroke-width="1.01" />
<path d="M534.3,551.5 L574.1,561.5" fill="none" stroke="#111" stroke-width="2.02" />
<path d="M536.1,554.3 L573.2,563.7" fill="none" stroke="#111" stroke-width="1.01" />
<path d="M576.7,520.5 C577.4,521.5 580.1,524.0 580.7,526.5 C581.4,529.0 580.9,532.9 580.7,535.6 C580.6,538.3 579.9,541.5 579.7,542.7 L579.7,542.7 L571.6,545.9" fill="none" stroke="#111" stroke-width="1.46" />
<path d="M574.7,521.5 C575.3,522.4 578.0,524.7 578.7,527.0 C579.4,529.4 578.8,533.1 578.7,535.6 C578.6,538.1 578.0,540.8 577.9,541.8 L577.9,541.8 L571.1,544.7" fill="none" stroke="#111" stroke-width="1.01" />
<path d="M581.7,522.5 C582.4,523.1 584.9,524.3 585.8,526.5 C586.6,528.7 586.9,532.8 587.0,535.6 C587.1,538.4 586.4,541.9 586.3,543.2 L586.3,543.2 L579.7,547.9" fill="none" stroke="#111" stroke-width="1.46" />
<path d="M579.7,523.5 C580.4,524.2 582.9,525.5 583.8,527.5 C584.6,529.5 584.9,533.1 585.0,535.6 C585.1,538.1 584.5,541.3 584.4,542.5 L584.4,542.5 L579.2,546.2" fill="none" stroke="#111" stroke-width="1.01" />
<ellipse cx="532.49" cy="493.71" rx="2.8" ry="4" fill="none" stroke="#111" stroke-width="1.34" transform="rotate(10 532.49 493.71)" />
<ellipse cx="533.1" cy="493.81" rx="1.6" ry="2.6" fill="none" stroke="#111" stroke-width="1.01" transform="rotate(10 533.1 493.81)" />
<ellipse cx="584.76" cy="517.43" rx="3.6" ry="5" fill="none" stroke="#111" stroke-width="1.34" transform="rotate(10 584.76 517.43)" />
<ellipse cx="585.57" cy="517.63" rx="2.2" ry="3.4" fill="none" stroke="#111" stroke-width="1.01" transform="rotate(10 585.57 517.63)" />
<ellipse cx="583.96" cy="517.23" rx="3.6" ry="5" fill="none" stroke="#111" stroke-width="0.9" transform="rotate(10 583.96 517.23)" />
<ellipse cx="578.66" cy="562.95" rx="3.4" ry="5" fill="none" stroke="#111" stroke-width="1.34" transform="rotate(15 578.66 562.95)" />
<ellipse cx="579.93" cy="563.14" rx="2" ry="3.4" fill="none" stroke="#111" stroke-width="1.01" transform="rotate(15 579.93 563.14)" />
<ellipse cx="577.39" cy="562.77" rx="3.4" ry="5" fill="none" stroke="#111" stroke-width="0.9" transform="rotate(15 577.39 562.77)" />
<ellipse cx="537.88" cy="568.39" rx="4" ry="5.2" fill="none" stroke="#111" stroke-width="1.46" transform="rotate(10 537.88 568.39)" />
<ellipse cx="538.97" cy="568.39" rx="2.6" ry="3.6" fill="none" stroke="#111" stroke-width="1.01" transform="rotate(10 538.97 568.39)" />
<path d="M587.3,503.3 C588.5,505.8 593.2,513.3 594.3,517.9 C595.3,522.4 594.0,526.3 593.6,530.5 C593.2,534.7 592.7,537.0 591.7,543.1 C590.8,549.2 589.6,561.2 587.9,567.1 C586.3,573.0 582.7,576.5 581.6,578.4" fill="none" stroke="#111" stroke-width="2.24" />
<path d="M584.8,504.6 C585.8,506.8 590.2,513.5 591.1,517.9 C592.1,522.2 590.8,526.3 590.5,530.5 C590.1,534.7 589.8,537.2 589.0,543.1 C588.1,549.0 587.0,560.1 585.4,565.8 C583.9,571.5 580.7,575.3 579.7,577.2" fill="none" stroke="#111" stroke-width="1.01" />
<path d="M594.5,521.0 L605.9,519.7" fill="none" stroke="#111" stroke-width="2.69" />
<path d="M594.5,533.0 L612.2,531.5" fill="none" stroke="#111" stroke-width="2.02" />
<path d="M594.3,536.2 L612.6,534.9" fill="none" stroke="#111" stroke-width="2.02" />
<path d="M593.6,543.1 L613.2,541.8" fill="none" stroke="#111" stroke-width="1.79" />
<path d="M593.0,546.9 L612.6,545.6" fill="none" stroke="#111" stroke-width="1.79" />
<path d="M592.4,554.4 L610.7,552.6" fill="none" stroke="#111" stroke-width="2.02" />
<path d="M591.1,560.8 L608.8,558.9" fill="none" stroke="#111" stroke-width="1.34" />
<path d="M589.5,567.1 L603.1,563.5" fill="none" stroke="#111" stroke-width="1.79" />
<path d="M570.3,498.9 L587.9,502.7" fill="none" stroke="#111" stroke-width="1.12" />
<path d="M454.5,554.3 L492.6,560.1" fill="none" stroke="#111" stroke-width="1.01" />
<path d="M545.1,576.0 L579.6,580.5" fill="none" stroke="#111" stroke-width="1.01" />
<path d="M559.6,576.9 L566.9,577.8 L566.9,579.6 L559.6,578.7Z" fill="none" stroke="#111" stroke-width="0.9" />
<path d="M494.4,558.8 L499.8,566.9 L512.5,568.8 L517.9,563.3" fill="none" stroke="#111" stroke-width="1.12" />
<path d="M502.5,560.6 L508.9,566.9" fill="none" stroke="#111" stroke-width="0.9" />
<path d="M492.6,562.4 C493.5,564.7 497.3,569.2 498.0,576.0 C498.7,582.8 497.5,598.3 496.6,603.2 C495.6,608.1 494.7,603.7 492.6,605.4 C490.4,607.2 485.0,612.2 483.5,613.6" fill="none" stroke="#111" stroke-width="1.12" />
<path d="M497.1,563.3 C497.9,565.4 501.0,569.7 501.6,576.0 C502.2,582.3 501.3,596.8 500.7,601.4 C500.1,606.0 500.1,601.4 498.0,603.6 C495.9,605.8 489.7,612.7 488.0,614.5" fill="none" stroke="#111" stroke-width="1.01" />
<path d="M538.8,585.1 C538.0,587.2 534.9,592.3 534.3,597.8 C533.6,603.3 533.9,612.2 534.6,618.1 C535.4,623.9 537.6,625.1 538.8,632.6 C539.9,640.2 540.9,650.8 541.5,663.4 C542.1,676.1 542.4,698.2 542.4,708.8 C542.4,719.3 541.7,723.9 541.5,726.9" fill="none" stroke="#111" stroke-width="1.23" />
<path d="M530.6,586.9 C530.5,592.1 529.1,610.1 529.7,618.1 C530.3,626.0 533.0,628.4 534.3,634.4 C535.5,640.5 536.2,645.6 537.0,654.4 C537.7,663.1 538.3,676.4 538.8,687.0 C539.2,697.6 539.5,712.7 539.7,717.8" fill="none" stroke="#111" stroke-width="1.01" />
<path d="M541.5,583.3 C540.9,585.7 538.5,592.0 537.9,597.8 C537.3,603.6 537.3,612.2 537.9,618.1 C538.5,623.9 540.4,625.1 541.5,632.6 C542.7,640.2 544.1,650.8 544.8,663.4 C545.4,676.1 545.4,701.2 545.5,708.8" fill="none" stroke="#111" stroke-width="1.01" />
<path d="M516.1,572.4 L530.6,576.0" fill="none" stroke="#111" stroke-width="1.12" />
<path d="M512.5,579.6 L527.0,617.7" fill="none" stroke="#111" stroke-width="1.01" />
<path d="M522.5,561.5 L512.5,586.9 L494.4,590.5" fill="none" stroke="#111" stroke-width="1.01" />
<path d="M499.8,586.9 L534.3,589.6" fill="none" stroke="#111" stroke-width="1.01" />
<path d="M506.2,625.4 L519.8,607.3" fill="none" stroke="#111" stroke-width="1.12" />
<path d="M506.2,603.6 L507.1,613.6" fill="none" stroke="#111" stroke-width="1.46" />
<path d="M514.3,600.0 C516.4,603.0 524.3,609.1 527.0,618.1 C529.7,627.2 529.7,644.1 530.6,654.4 C531.5,664.6 533.0,674.0 532.4,679.8 C531.8,685.5 527.9,687.3 527.0,688.8" fill="none" stroke="#111" stroke-width="1.34" />
<path d="M520.7,694.3 L534.3,688.8 L520.7,699.7Z" fill="none" stroke="#111" stroke-width="1.01" />
<path d="M492.6,629.0 C492.6,632.0 491.7,639.3 492.6,647.1 C493.4,655.0 495.9,667.1 497.6,676.1 C499.4,685.2 501.7,694.6 503.1,701.5 C504.5,708.5 505.6,715.1 506.2,717.8" fill="none" stroke="#111" stroke-width="1.12" />
<path d="M492.2,648.9 L494.0,651.5" fill="none" stroke="#111" stroke-width="1.34" />
<path d="M493.1,654.0 L495.0,656.6" fill="none" stroke="#111" stroke-width="1.34" />
<path d="M494.1,659.1 L495.9,661.6" fill="none" stroke="#111" stroke-width="1.34" />
<path d="M495.1,664.2 L496.9,666.7" fill="none" stroke="#111" stroke-width="1.34" />
<path d="M496.0,669.2 L497.9,671.8" fill="none" stroke="#111" stroke-width="1.34" />
<path d="M497.0,674.3 L498.8,676.9" fill="none" stroke="#111" stroke-width="1.34" />
<path d="M498.0,679.4 L499.8,681.9" fill="none" stroke="#111" stroke-width="1.34" />
<path d="M498.9,684.5 L500.7,687.0" fill="none" stroke="#111" stroke-width="1.34" />
<path d="M499.9,689.5 L501.7,692.1" fill="none" stroke="#111" stroke-width="1.34" />
<path d="M500.9,694.6 L502.7,697.2" fill="none" stroke="#111" stroke-width="1.34" />
<path d="M501.8,699.7 L503.6,702.2" fill="none" stroke="#111" stroke-width="1.34" />
<path d="M502.8,704.8 L504.6,707.3" fill="none" stroke="#111" stroke-width="1.34" />
<path d="M503.8,709.8 L505.6,712.4" fill="none" stroke="#111" stroke-width="1.34" />
<path d="M492.6,645.3 L534.3,648.0" fill="none" stroke="#111" stroke-width="1.23" />
<path d="M500.7,687.9 L538.8,688.5" fill="none" stroke="#111" stroke-width="1.23" />
<path d="M500.7,690.1 L538.8,690.6" fill="none" stroke="#111" stroke-width="1.01" />
<path d="M505.3,703.3 L534.3,708.8" fill="none" stroke="#111" stroke-width="1.01" />
<path d="M515.2,705.1 L516.1,716.0" fill="none" stroke="#111" stroke-width="1.01" />
<path d="M534.3,690.6 L534.3,717.8" fill="none" stroke="#111" stroke-width="1.01" />
<ellipse cx="499.27" cy="633.53" rx="4.2" ry="5.4" fill="#fff" stroke="#111" stroke-width="1.34" />
<ellipse cx="499.27" cy="633.53" rx="2.4" ry="3.4" fill="none" stroke="#111" stroke-width="1.12" />
<ellipse cx="533.71" cy="635.35" rx="4.2" ry="5.4" fill="#fff" stroke="#111" stroke-width="1.34" />
<ellipse cx="533.71" cy="635.35" rx="2.4" ry="3.4" fill="none" stroke="#111" stroke-width="1.12" />
<ellipse cx="506.52" cy="722.89" rx="4.2" ry="5.4" fill="#fff" stroke="#111" stroke-width="1.34" />
<ellipse cx="506.52" cy="722.89" rx="2.4" ry="3.4" fill="none" stroke="#111" stroke-width="1.12" />
<ellipse cx="535.52" cy="722.89" rx="4.2" ry="5.4" fill="#fff" stroke="#111" stroke-width="1.34" />
<ellipse cx="535.52" cy="722.89" rx="2.4" ry="3.4" fill="none" stroke="#111" stroke-width="1.12" />
<path d="M500.7,628.1 C502.7,627.9 510.1,626.3 512.5,627.2 C514.9,628.1 515.2,631.5 515.2,633.5 C515.2,635.6 514.9,638.6 512.5,639.5 C510.1,640.4 502.7,639.1 500.7,639.0" fill="none" stroke="#111" stroke-width="1.12" />
<path d="M503.4,632.6 L529.7,634.4" fill="none" stroke="#111" stroke-width="1.12" />
<path d="M503.4,634.8 L529.7,636.6" fill="none" stroke="#111" stroke-width="1.12" />
<path d="M541.5,617.2 L547.8,618.1" fill="none" stroke="#111" stroke-width="1.01" />
<path d="M541.5,623.6 L548.4,623.2" fill="none" stroke="#111" stroke-width="1.01" />
<path d="M534.3,661.6 L538.8,662.0" fill="none" stroke="#111" stroke-width="1.34" />
<path d="M539.3,636.3 L541.5,687.0" fill="none" stroke="#111" stroke-width="1.79" />
<path d="M482.6,725.1 L494.4,726.9 L502.5,717.8" fill="none" stroke="#111" stroke-width="1.01" />
<path d="M491.7,717.8 L494.4,723.3 L488.9,726.9 L483.5,729.1 L485.3,733.2" fill="none" stroke="#111" stroke-width="1.12" />
<path d="M492.6,733.2 L519.8,726.9 L541.5,729.6" fill="none" stroke="#111" stroke-width="1.01" />
<path d="M519.8,721.4 L519.8,726.9" fill="none" stroke="#111" stroke-width="1.01" />
<path d="M519.8,721.4 L530.6,721.8" fill="none" stroke="#111" stroke-width="1.01" />
<path d="M507.1,735.6 L537.9,736.8 L541.5,730.5" fill="none" stroke="#111" stroke-width="1.12" />
<path d="M522.5,733.2 L541.5,735.0" fill="none" stroke="#111" stroke-width="1.01" />
<path d="M506.2,745.0 L538.8,745.9" fill="none" stroke="#111" stroke-width="1.57" />
<path d="M508.0,747.7 L537.9,749.0" fill="none" stroke="#111" stroke-width="2.02" />
<path d="M516.1,744.1 L516.1,750.8" fill="none" stroke="#111" stroke-width="1.01" />
<path d="M534.3,737.8 L541.5,738.1 L541.5,741.4 L534.3,741.0Z" fill="none" stroke="#111" stroke-width="1.01" />
<path d="M538.8,755.9 L541.5,726.9" fill="none" stroke="#111" stroke-width="1.12" />
<path d="M544.2,735.0 L570.5,734.5" fill="none" stroke="#111" stroke-width="1.12" />
<path d="M541.5,752.3 L570.5,753.2" fill="none" stroke="#111" stroke-width="1.12" />
<path d="M567.8,735.0 L569.1,755.0" fill="none" stroke="#111" stroke-width="0.9" />
<path d="M544.2,735.0 L545.1,754.1" fill="none" stroke="#111" stroke-width="1.01" />
<path d="M548.8,708.8 C549.1,710.6 549.1,716.6 550.9,719.6 C552.7,722.7 558.2,725.7 559.6,726.9" fill="none" stroke="#111" stroke-width="0.9" />
<path d="M326.2,822.1 C333.2,821.3 356.0,818.7 368.0,817.3 C380.0,815.9 392.1,812.9 398.4,813.5 C404.7,814.1 403.6,817.6 406.0,821.1 C408.4,824.6 411.9,830.0 412.7,834.4 C413.4,838.8 412.2,843.9 410.8,847.7 C409.3,851.5 405.2,855.6 404.1,857.2 L337.6,868.6 L326.2,866.7 Z" fill="#fff" stroke="#111" stroke-width="1.32" />
<path d="M274.0,803.1 L277.8,800.2 L293.9,798.3 L326.2,794.1 L331.9,798.3 L372.8,798.3 L374.7,805.9 L370.9,806.9 L370.9,813.5 L398.4,813.5 L333.8,821.1 L281.6,820.2 L277.8,815.4Z" fill="#fff" stroke="#111" stroke-width="1.32" />
<path d="M274.0,803.1 L254.0,823.0" fill="none" stroke="#111" stroke-width="1.21" />
<path d="M277.8,800.6 L257.8,822.4" fill="none" stroke="#111" stroke-width="0.99" />
<path d="M275.9,801.7 L255.5,822.6" fill="none" stroke="#111" stroke-width="0.77" />
<path d="M279.7,804.0 L297.7,803.1 L330.0,801.2 L371.8,800.2" fill="none" stroke="#111" stroke-width="0.99" />
<path d="M293.9,798.3 L300.6,803.1" fill="none" stroke="#111" stroke-width="0.99" />
<path d="M300.6,803.1 L324.3,796.4 L330.0,801.2" fill="none" stroke="#111" stroke-width="0.99" />
<path d="M326.2,794.1 L324.3,796.4" fill="none" stroke="#111" stroke-width="0.88" />
<path d="M287.3,806.3 L299.6,806.3 L299.6,808.6 L287.3,808.6Z" fill="none" stroke="#111" stroke-width="0.99" />
<path d="M287.3,811.6 L333.8,810.7 L333.8,819.6" fill="none" stroke="#111" stroke-width="0.99" />
<path d="M287.3,811.6 L287.3,819.2" fill="none" stroke="#111" stroke-width="0.99" />
<path d="M292.0,813.5 L292.0,819.6" fill="none" stroke="#111" stroke-width="0.88" />
<path d="M303.4,811.6 L303.4,819.2" fill="none" stroke="#111" stroke-width="0.88" />
<path d="M324.3,804.0 L324.3,810.8" fill="none" stroke="#111" stroke-width="0.88" />
<path d="M279.7,804.0 L282.5,817.3" fill="none" stroke="#111" stroke-width="0.99" />
<path d="M342.4,801.7 L342.7,816.4" fill="none" stroke="#111" stroke-width="1.32" />
<path d="M345.2,801.7 L345.6,816.4" fill="none" stroke="#111" stroke-width="1.32" />
<path d="M349.0,801.7 L349.4,816.4" fill="none" stroke="#111" stroke-width="1.32" />
<path d="M351.9,801.7 L352.2,816.4" fill="none" stroke="#111" stroke-width="1.32" />
<path d="M355.7,801.7 L356.0,816.4" fill="none" stroke="#111" stroke-width="1.32" />
<path d="M358.5,801.7 L358.9,816.4" fill="none" stroke="#111" stroke-width="1.32" />
<path d="M361.9,801.7 L362.3,816.4" fill="none" stroke="#111" stroke-width="1.32" />
<path d="M333.8,816.4 L370.9,813.5" fill="none" stroke="#111" stroke-width="0.99" />
<path d="M349.0,818.3 L349.0,825.9" fill="none" stroke="#111" stroke-width="0.88" />
<rect x="243" y="822" width="94.6" height="45.2" rx="16" fill="#fff" stroke="#111" stroke-width="1.7"/>
<rect x="249.4" y="835.2" width="80.6" height="22" rx="11" fill="#fff" stroke="#111" stroke-width="1.3"/>
<path d="M254.0,823.0 C252.7,824.3 248.1,827.4 246.4,830.6 C244.7,833.8 244.0,840.1 243.6,842.0" fill="none" stroke="#111" stroke-width="1.1" />
<path d="M248.3,858.2 C249.3,859.3 251.5,863.1 254.0,864.8 C256.5,866.5 251.5,867.8 263.5,868.6 C275.5,869.4 313.7,869.6 326.2,869.6 C338.7,869.6 336.5,868.8 338.6,868.6" fill="none" stroke="#111" stroke-width="1.1" />
<path d="M330.0,823.0 C331.6,824.0 337.1,825.5 339.5,828.7 C341.9,831.9 343.6,837.3 344.3,842.0 C344.9,846.8 344.4,853.1 343.3,857.2 C342.2,861.3 338.6,865.1 337.6,866.7" fill="none" stroke="#111" stroke-width="1.1" />
<path d="M243.0,845.8 L249.3,845.8" fill="none" stroke="#111" stroke-width="0.88" />
<path d="M330.0,845.8 L337.6,845.8" fill="none" stroke="#111" stroke-width="0.88" />
<path d="M344.3,843.0 L413.6,839.2" fill="none" stroke="#111" stroke-width="1.1" />
<path d="M347.1,829.1 L358.5,827.8 L364.2,831.6 L364.6,856.8 L359.5,858.2 L350.9,858.7 L350.5,853.4 L353.2,852.5 L352.8,832.5 L348.1,832.5Z" fill="#fff" stroke="#111" stroke-width="1.21" />
<path d="M358.5,827.8 L359.5,858.2" fill="none" stroke="#111" stroke-width="0.99" />
<path d="M355.1,832.5 L355.8,853.4" fill="none" stroke="#111" stroke-width="0.88" />
<path d="M389.9,825.3 L400.3,824.0 L404.5,827.2 L404.7,852.5 L400.3,854.4 L391.8,854.9 L391.4,850.6 L394.2,849.6 L393.8,828.7 L390.4,828.7Z" fill="#fff" stroke="#111" stroke-width="1.21" />
<path d="M400.3,824.0 L400.7,854.4" fill="none" stroke="#111" stroke-width="0.99" />
<path d="M396.9,828.3 L397.5,850.6" fill="none" stroke="#111" stroke-width="0.88" />
<path d="M393.7,856.3 L402.2,855.7 L402.2,858.2" fill="none" stroke="#111" stroke-width="0.99" />
<path d="M333.8,821.1 L349.0,825.9 L398.4,820.2" fill="none" stroke="#111" stroke-width="0.99" />
<path d="M263.5,868.6 L264.5,870.1 L274.9,870.1" fill="none" stroke="#111" stroke-width="0.88" />
<path d="M330.0,869.6 L331.0,870.9 L338.6,870.1" fill="none" stroke="#111" stroke-width="0.88" />
<path d="M806.4,631.0 L807.5,612.3 L815.2,605.7 L870.2,576.0 L877.9,574.9 L883.4,578.2 L887.8,585.9 L896.6,584.8 L912.0,587.0 L934.0,598.0 L986.8,625.5 L992.3,633.2 L994.5,668.4 L991.2,681.6 L978.0,690.4 L874.6,711.3 L857.0,711.3 L857.0,711.3 C852.6,710.3 838.7,707.8 830.6,705.4 C822.5,703.0 814.5,699.9 808.6,697.0 C802.7,694.2 798.7,691.1 795.4,688.2 C792.1,685.3 790.3,683.8 788.8,679.4 C787.3,675.0 787.0,667.3 786.6,661.8 C786.2,656.3 785.7,650.3 786.6,646.4 C787.5,642.6 790.1,640.9 792.1,638.7 C794.1,636.5 796.3,634.5 798.7,633.2 C801.1,631.9 805.1,631.4 806.4,631.0Z" fill="#fff" stroke="#111" stroke-width="1.43" />
<path d="M855.9,711.3 C856.1,711.9 855.4,713.9 857.0,714.6 C858.7,715.3 862.7,715.9 865.8,715.7 C868.9,715.5 874.2,714.2 875.7,713.5 C877.2,712.8 875.2,711.7 875.0,711.3" fill="none" stroke="#111" stroke-width="0.99" />
<path d="M973.6,691.5 C974.0,691.9 974.2,693.5 975.8,693.7 C977.5,693.9 981.9,693.5 983.5,692.6 C985.2,691.7 985.4,688.9 985.7,688.2" fill="none" stroke="#111" stroke-width="0.99" />
<path d="M796.5,684.9 L797.6,687.1 L800.9,688.2" fill="none" stroke="#111" stroke-width="0.88" />
<path d="M806.6,616.8 C806.7,616.2 806.8,614.2 807.2,613.2 C807.6,612.2 808.7,611.2 809.0,610.8 L809.0,610.8 L868.4,576.6" fill="none" stroke="#111" stroke-width="1.32" />
<path d="M809.0,615.6 C812.5,617.4 822.5,622.9 830.0,626.4 C837.5,629.9 848.2,634.9 854.0,636.6 C859.8,638.3 861.4,637.3 864.8,636.6 C868.2,635.9 872.8,633.1 874.4,632.4 L874.4,632.4 L920.0,607.2" fill="none" stroke="#111" stroke-width="1.32" />
<path d="M808.2,612.2 C811.8,614.0 822.3,619.2 830.0,622.8 C837.7,626.4 848.8,632.0 854.6,633.8 C860.4,635.7 861.7,634.5 864.8,633.8 C867.9,633.2 871.8,630.4 873.2,629.8 L873.2,629.8 L920.0,604.6" fill="none" stroke="#111" stroke-width="0.99" />
<path d="M806.6,616.8 L806.0,636.0" fill="none" stroke="#111" stroke-width="1.21" />
<path d="M808.2,618.0 L807.8,635.8" fill="none" stroke="#111" stroke-width="0.77" />
<path d="M855.2,637.2 L855.8,659.4" fill="none" stroke="#111" stroke-width="1.1" />
<path d="M874.4,633.0 L875.0,658.2" fill="none" stroke="#111" stroke-width="1.1" />
<path d="M807.5,637.6 C810.3,639.3 816.1,643.8 824.0,647.5 C831.9,651.2 849.7,657.6 854.8,659.6 L854.8,659.6 L876.8,659.6 L942.8,620.0 L931.8,604.6 L934.0,598.0" fill="none" stroke="#111" stroke-width="1.21" />
<path d="M931.8,604.6 L883.4,630.6" fill="none" stroke="#111" stroke-width="0.88" />
<path d="M824.6,616.2 L836.0,610.8 L861.8,622.8 L850.4,628.8Z" fill="none" stroke="#111" stroke-width="1.1" />
<path d="M837.2,604.2 L876.8,583.2 L881.6,577.8" fill="none" stroke="#111" stroke-width="1.21" />
<path d="M837.2,604.2 L874.4,622.2 L912.2,601.8 L894.8,594.0" fill="none" stroke="#111" stroke-width="1.21" />
<path d="M876.8,583.2 L879.8,595.8" fill="none" stroke="#111" stroke-width="1.1" />
<path d="M875.0,581.4 L878.0,594.0 L879.2,595.8" fill="none" stroke="#111" stroke-width="0.99" />
<path d="M846.8,606.0 L876.8,590.4" fill="none" stroke="#111" stroke-width="0.99" />
<path d="M839.6,604.0 L876.8,584.6" fill="none" stroke="#111" stroke-width="0.88" />
<path d="M851.6,609.6 L879.2,595.8 L889.4,589.2" fill="none" stroke="#111" stroke-width="0.99" />
<path d="M852.8,611.0 L869.6,602.6" fill="none" stroke="#111" stroke-width="2.2" />
<path d="M857.6,613.8 L872.0,606.6 L878.0,610.8 L864.8,617.4" fill="none" stroke="#111" stroke-width="1.1" />
<path d="M864.8,617.4 L879.2,610.2 L884.0,613.8 L874.4,622.2" fill="none" stroke="#111" stroke-width="0.99" />
<path d="M869.6,602.6 L867.2,606.0 L872.0,606.6" fill="none" stroke="#111" stroke-width="0.99" />
<path d="M869.0,599.4 C869.3,598.8 870.0,596.3 870.8,595.8 C871.6,595.3 873.4,595.9 873.8,596.6 C874.2,597.3 873.5,599.4 873.4,600.0" fill="none" stroke="#111" stroke-width="1.43" />
<path d="M878.6,614.4 C878.9,613.9 879.5,611.8 880.4,611.4 C881.3,611.0 883.5,611.5 884.0,612.2 C884.5,612.9 883.5,615.0 883.4,615.6" fill="none" stroke="#111" stroke-width="1.43" />
<path d="M879.8,595.8 L886.4,592.8 L894.8,594.0" fill="none" stroke="#111" stroke-width="0.99" />
<path d="M884.0,600.6 L893.6,595.2 L908.0,601.8 L897.8,607.8Z" fill="none" stroke="#111" stroke-width="1.1" />
<path d="M889.4,601.0 L894.8,598.2 L903.2,602.4 L897.8,605.4Z" fill="none" stroke="#111" stroke-width="0.99" />
<path d="M884.0,600.6 L889.4,601.0" fill="none" stroke="#111" stroke-width="0.77" />
<path d="M897.8,607.8 L897.8,605.4" fill="none" stroke="#111" stroke-width="0.77" />
<path d="M908.0,601.8 L903.2,602.4" fill="none" stroke="#111" stroke-width="0.77" />
<path d="M889.4,589.2 L896.0,584.4 L920.0,594.0" fill="none" stroke="#111" stroke-width="1.1" />
<path d="M887.6,584.4 L894.8,582.6 L920.0,590.4" fill="none" stroke="#111" stroke-width="0.99" />
<path d="M798.7,633.2 C802.9,635.6 814.3,642.6 824.0,647.5 C833.7,652.5 851.5,660.3 857.0,662.9 L857.0,662.9 L872.4,664.0 L890.0,653.0 L986.8,625.5" fill="none" stroke="#111" stroke-width="1.21" />
<path d="M793.2,638.7 C798.0,641.1 811.2,648.1 821.8,653.0 C832.4,658.0 848.6,665.7 857.0,668.4 C865.4,671.2 869.8,669.3 872.4,669.5" fill="none" stroke="#111" stroke-width="0.88" />
<path d="M786.6,661.8 C789.5,663.3 792.5,667.5 804.2,670.6 C815.9,673.7 845.3,679.0 857.0,680.5 C868.7,682.0 871.7,679.6 874.6,679.4" fill="none" stroke="#111" stroke-width="1.1" />
<path d="M787.7,665.1 C790.5,666.6 792.7,670.8 804.2,673.9 C815.8,677.0 845.3,682.3 857.0,683.8 C868.7,685.3 871.7,682.9 874.6,682.7" fill="none" stroke="#111" stroke-width="0.88" />
<path d="M874.6,679.4 L885.6,673.9" fill="none" stroke="#111" stroke-width="1.1" />
<path d="M788.8,679.4 C792.1,681.6 797.2,688.2 808.6,692.6 C820.0,697.0 846.0,703.6 857.0,705.8 C868.0,708.0 871.7,705.8 874.6,705.8" fill="none" stroke="#111" stroke-width="0.99" />
<path d="M857.0,662.9 L857.0,711.3" fill="none" stroke="#111" stroke-width="0.99" />
<path d="M872.4,664.0 L874.6,711.3" fill="none" stroke="#111" stroke-width="0.99" />
<path d="M874.6,705.8 L991.2,677.2" fill="none" stroke="#111" stroke-width="0.99" />
<path d="M885.6,688.2 L992.3,661.8" fill="none" stroke="#111" stroke-width="0.99" />
<path d="M969.2,622.2 L985.7,631.0 L992.3,633.2" fill="none" stroke="#111" stroke-width="1.1" />
<path d="M985.7,631.0 L989.0,670.6 L991.2,681.6" fill="none" stroke="#111" stroke-width="0.99" />
<path d="M960.4,618.9 L964.8,616.7 L969.2,622.2" fill="none" stroke="#111" stroke-width="0.88" />
<ellipse cx="816.3" cy="648.61" rx="3.4" ry="2" fill="none" stroke="#111" stroke-width="1.1" transform="rotate(15 816.3 648.61)" />
<ellipse cx="832.81" cy="656.31" rx="3.4" ry="2" fill="none" stroke="#111" stroke-width="1.1" transform="rotate(15 832.81 656.31)" />
<ellipse cx="814.1" cy="661.8" rx="0.8" ry="0.8" fill="#111" stroke="#111" stroke-width="0.88" />
<path d="M883.4,661.8 L890.0,658.5 L894.4,683.8 L887.8,684.9Z" fill="#fff" stroke="#111" stroke-width="1.32" />
<path d="M886.1,663.6 L890.0,682.3" fill="none" stroke="#111" stroke-width="0.99" />
<path d="M887.8,684.9 L890.0,682.3 L893.5,680.7" fill="none" stroke="#111" stroke-width="0.88" />
<path d="M897.7,654.1 L903.2,650.8 L907.6,679.4 L901.0,681.2Z" fill="#fff" stroke="#111" stroke-width="1.32" />
<path d="M900.4,655.9 L903.2,678.5" fill="none" stroke="#111" stroke-width="0.99" />
<path d="M901.0,681.2 L903.2,678.5 L906.7,676.3" fill="none" stroke="#111" stroke-width="0.88" />
<path d="M909.8,647.5 L916.4,644.2 L920.8,678.3 L914.2,679.4Z" fill="#fff" stroke="#111" stroke-width="1.32" />
<path d="M912.5,649.3 L916.4,676.8" fill="none" stroke="#111" stroke-width="0.99" />
<path d="M914.2,679.4 L916.4,676.8 L919.9,675.2" fill="none" stroke="#111" stroke-width="0.88" />
<path d="M923.0,640.9 L929.6,637.6 L934.0,676.1 L927.4,677.2Z" fill="#fff" stroke="#111" stroke-width="1.32" />
<path d="M925.7,642.7 L929.6,674.6" fill="none" stroke="#111" stroke-width="0.99" />
<path d="M927.4,677.2 L929.6,674.6 L933.1,673.0" fill="none" stroke="#111" stroke-width="0.88" />
<path d="M936.2,635.4 L942.8,631.0 L946.1,673.9 L940.6,674.6Z" fill="#fff" stroke="#111" stroke-width="1.32" />
<path d="M938.9,637.2 L942.8,671.9" fill="none" stroke="#111" stroke-width="0.99" />
<path d="M940.6,674.6 L942.8,671.9 L945.2,670.8" fill="none" stroke="#111" stroke-width="0.88" />
<path d="M948.3,629.9 L956.0,625.5 L959.3,670.6 L953.8,671.7Z" fill="#fff" stroke="#111" stroke-width="1.32" />
<path d="M951.0,631.7 L956.0,669.1" fill="none" stroke="#111" stroke-width="0.99" />
<path d="M953.8,671.7 L956.0,669.1 L958.4,667.5" fill="none" stroke="#111" stroke-width="0.88" />
<path d="M961.5,624.4 L969.2,621.1 L973.6,667.3 L967.0,668.4Z" fill="#fff" stroke="#111" stroke-width="1.32" />
<path d="M964.2,626.2 L969.2,665.8" fill="none" stroke="#111" stroke-width="0.99" />
<path d="M967.0,668.4 L969.2,665.8 L972.7,664.2" fill="none" stroke="#111" stroke-width="0.88" />
<path d="M887.8,695.9 L893.3,695.0 L894.0,705.6 L888.3,706.3Z" fill="#fff" stroke="#111" stroke-width="1.21" />
<path d="M889.6,697.2 L890.0,705.8" fill="none" stroke="#111" stroke-width="0.88" />
<path d="M901.2,693.2 L906.7,692.3 L907.4,702.8 L901.7,703.5Z" fill="#fff" stroke="#111" stroke-width="1.21" />
<path d="M903.0,694.5 L903.4,703.1" fill="none" stroke="#111" stroke-width="0.88" />
<path d="M914.7,690.4 L920.2,689.5 L920.8,700.1 L915.1,700.8Z" fill="#fff" stroke="#111" stroke-width="1.21" />
<path d="M916.4,691.7 L916.9,700.3" fill="none" stroke="#111" stroke-width="0.88" />
<path d="M928.1,687.7 L933.6,686.8 L934.2,697.3 L928.5,698.0Z" fill="#fff" stroke="#111" stroke-width="1.21" />
<path d="M929.8,689.0 L930.3,697.6" fill="none" stroke="#111" stroke-width="0.88" />
<path d="M941.5,684.9 L947.0,684.0 L947.7,694.6 L941.9,695.3Z" fill="#fff" stroke="#111" stroke-width="1.21" />
<path d="M943.3,686.2 L943.7,694.8" fill="none" stroke="#111" stroke-width="0.88" />
<path d="M954.9,682.2 L960.4,681.3 L961.1,691.8 L955.4,692.5Z" fill="#fff" stroke="#111" stroke-width="1.21" />
<path d="M956.7,683.5 L957.1,692.1" fill="none" stroke="#111" stroke-width="0.88" />
<path d="M968.3,679.4 L973.8,678.5 L974.5,689.1 L968.8,689.8Z" fill="#fff" stroke="#111" stroke-width="1.21" />
<path d="M970.1,680.7 L970.5,689.3" fill="none" stroke="#111" stroke-width="0.88" />
<line x1="88.3" y1="7.1" x2="40.1" y2="56.9" stroke="#111" stroke-width="0.95" />
<line x1="171.3" y1="23.2" x2="151.4" y2="51.7" stroke="#111" stroke-width="0.95" />
<line x1="254" y1="41" x2="241" y2="62" stroke="#111" stroke-width="0.95" />
<line x1="349.4" y1="59.8" x2="322.7" y2="108" stroke="#111" stroke-width="0.95" />
<line x1="385.2" y1="66.6" x2="363" y2="111" stroke="#111" stroke-width="0.95" />
<line x1="430.4" y1="74.7" x2="406.9" y2="120.6" stroke="#111" stroke-width="0.95" />
<line x1="459.4" y1="80.7" x2="435.4" y2="128.7" stroke="#111" stroke-width="0.95" />
<line x1="487.9" y1="87" x2="463.2" y2="135" stroke="#111" stroke-width="0.95" />
<line x1="541.9" y1="98.4" x2="525.2" y2="131.2" stroke="#111" stroke-width="0.95" />
<line x1="599.1" y1="109.7" x2="580.2" y2="143.3" stroke="#111" stroke-width="0.95" />
<line x1="654.4" y1="121.1" x2="637.5" y2="152.6" stroke="#111" stroke-width="0.95" />
<line x1="734.1" y1="137" x2="719" y2="171.5" stroke="#111" stroke-width="0.95" />
<line x1="774.5" y1="147.3" x2="759.6" y2="185.4" stroke="#111" stroke-width="0.95" />
<line x1="99.9" y1="163.3" x2="84.5" y2="188" stroke="#111" stroke-width="0.95" />
<line x1="182.9" y1="177.9" x2="159.4" y2="217.6" stroke="#111" stroke-width="0.95" />
<line x1="227.3" y1="186.2" x2="201.8" y2="232" stroke="#111" stroke-width="0.95" />
<line x1="269.2" y1="194.1" x2="246" y2="237" stroke="#111" stroke-width="0.95" />
<line x1="310.3" y1="201.7" x2="291.6" y2="239.6" stroke="#111" stroke-width="0.95" />
<line x1="376.9" y1="214.3" x2="354.7" y2="256" stroke="#111" stroke-width="0.95" />
<line x1="430.4" y1="224.4" x2="407.7" y2="264.8" stroke="#111" stroke-width="0.95" />
<line x1="466.4" y1="231.2" x2="446.8" y2="268.6" stroke="#111" stroke-width="0.95" />
<line x1="512.1" y1="240.8" x2="481" y2="295" stroke="#111" stroke-width="0.95" />
<line x1="554.5" y1="248.4" x2="530.3" y2="288.7" stroke="#111" stroke-width="0.95" />
<line x1="594.3" y1="255.4" x2="568.6" y2="295.8" stroke="#111" stroke-width="0.95" />
<line x1="633.7" y1="262.8" x2="613.5" y2="298.8" stroke="#111" stroke-width="0.95" />
<line x1="696.3" y1="274.4" x2="676.6" y2="306.4" stroke="#111" stroke-width="0.95" />
<line x1="744.2" y1="283.7" x2="722" y2="327.8" stroke="#111" stroke-width="0.95" />
<line x1="774" y1="287.7" x2="750" y2="330.4" stroke="#111" stroke-width="0.95" />
<line x1="820.6" y1="296.3" x2="797.9" y2="337.9" stroke="#111" stroke-width="0.95" />
<line x1="50.5" y1="287.5" x2="30.3" y2="326.6" stroke="#111" stroke-width="0.95" />
<line x1="94.9" y1="295.3" x2="68.1" y2="336.7" stroke="#111" stroke-width="0.95" />
<line x1="139.8" y1="303.9" x2="118.6" y2="341.7" stroke="#111" stroke-width="0.95" />
<line x1="187.7" y1="312.7" x2="145" y2="378" stroke="#111" stroke-width="0.95" />
<line x1="244.2" y1="324.3" x2="222.2" y2="371.6" stroke="#111" stroke-width="0.95" />
<line x1="274" y1="329.6" x2="253" y2="378" stroke="#111" stroke-width="0.95" />
<line x1="308" y1="336.7" x2="282" y2="389.3" stroke="#111" stroke-width="0.95" />
<line x1="368.4" y1="348.6" x2="344.3" y2="394.3" stroke="#111" stroke-width="0.95" />
<line x1="255.8" y1="461.7" x2="236.6" y2="502.8" stroke="#111" stroke-width="0.95" />
<line x1="302.9" y1="465.5" x2="279.5" y2="514.2" stroke="#111" stroke-width="0.95" />
<line x1="357.9" y1="473.8" x2="336.2" y2="516.7" stroke="#111" stroke-width="0.95" />
<line x1="230" y1="531" x2="264.3" y2="542.4" stroke="#111" stroke-width="0.95" />
<line x1="61.3" y1="562.8" x2="97.1" y2="575.4" stroke="#111" stroke-width="0.95" />
<line x1="52.5" y1="641.3" x2="66.1" y2="646" stroke="#111" stroke-width="0.95" />
<line x1="104.7" y1="740.9" x2="122.6" y2="747.1" stroke="#111" stroke-width="0.95" />
<line x1="104.7" y1="776.1" x2="121.6" y2="781.9" stroke="#111" stroke-width="0.95" />
<line x1="104.7" y1="796.6" x2="137.5" y2="806.4" stroke="#111" stroke-width="0.95" />
<line x1="440.2" y1="618.5" x2="363.8" y2="604.9" stroke="#111" stroke-width="0.95" />
<line x1="440.2" y1="642" x2="370.6" y2="628.6" stroke="#111" stroke-width="0.95" />
<line x1="435.9" y1="714.4" x2="381.5" y2="705.1" stroke="#111" stroke-width="0.95" />
<line x1="435.9" y1="761.8" x2="357.5" y2="747.9" stroke="#111" stroke-width="0.95" />
<line x1="435.9" y1="778.5" x2="361.3" y2="764.3" stroke="#111" stroke-width="0.95" />
<line x1="654.5" y1="646.3" x2="624" y2="640.5" stroke="#111" stroke-width="0.95" />
<line x1="433.8" y1="829.3" x2="410" y2="824.5" stroke="#111" stroke-width="0.95" />
<line x1="724.9" y1="703.8" x2="814.4" y2="662.2" stroke="#111" stroke-width="0.95" />
<ellipse cx="520.9" cy="147" rx="0.7" ry="0.7" fill="#111" stroke="#111" stroke-width="0.7" />
<ellipse cx="291.4" cy="240" rx="0.7" ry="0.7" fill="#111" stroke="#111" stroke-width="0.7" />
<ellipse cx="29.2" cy="327.6" rx="0.7" ry="0.7" fill="#111" stroke="#111" stroke-width="0.7" />
<ellipse cx="67.8" cy="336.6" rx="0.7" ry="0.7" fill="#111" stroke="#111" stroke-width="0.7" />
<ellipse cx="344.2" cy="393.6" rx="0.7" ry="0.7" fill="#111" stroke="#111" stroke-width="0.7" />
<ellipse cx="814.1" cy="661.8" rx="0.7" ry="0.7" fill="#111" stroke="#111" stroke-width="0.7" />
<ellipse cx="97.1" cy="575.4" rx="0.7" ry="0.7" fill="#111" stroke="#111" stroke-width="0.7" />
<ellipse cx="236.6" cy="502.8" rx="0.7" ry="0.7" fill="#111" stroke="#111" stroke-width="0.7" />
<ellipse cx="381.6" cy="705.1" rx="0.7" ry="0.7" fill="#111" stroke="#111" stroke-width="0.7" />
<g filter="url(#nf)">
<rect x="0" y="0" width="1000" height="872" fill="none"/>
<rect x="88.9" y="2.1" width="5.9" height="10.9" fill="#fff" stroke="#111" stroke-width="0.85" stroke-linejoin="miter"/>
<text x="91.85" y="11.75" font-size="13.4" text-anchor="middle" textLength="3.7" lengthAdjust="spacingAndGlyphs" class="lb">1</text>
<rect x="171.9" y="17.8" width="5.9" height="10.9" fill="#fff" stroke="#111" stroke-width="0.85" stroke-linejoin="miter"/>
<text x="174.85" y="27.45" font-size="13.4" text-anchor="middle" textLength="3.7" lengthAdjust="spacingAndGlyphs" class="lb">2</text>
<rect x="254.6" y="34.9" width="15.5" height="11.4" fill="#fff" stroke="#111" stroke-width="0.85" stroke-linejoin="miter"/>
<text x="262.35" y="45.05" font-size="13.4" text-anchor="middle" textLength="13.3" lengthAdjust="spacingAndGlyphs" class="lb">3–1</text>
<rect x="350" y="53.8" width="15.4" height="11.4" fill="#fff" stroke="#111" stroke-width="0.85" stroke-linejoin="miter"/>
<text x="357.7" y="63.95" font-size="13.4" text-anchor="middle" textLength="13.2" lengthAdjust="spacingAndGlyphs" class="lb">3–2</text>
<rect x="385.8" y="60.6" width="15.5" height="11.4" fill="#fff" stroke="#111" stroke-width="0.85" stroke-linejoin="miter"/>
<text x="393.55" y="70.75" font-size="13.4" text-anchor="middle" textLength="13.3" lengthAdjust="spacingAndGlyphs" class="lb">3–3</text>
<rect x="431" y="68.7" width="15.4" height="11.4" fill="#fff" stroke="#111" stroke-width="0.85" stroke-linejoin="miter"/>
<text x="438.7" y="78.85" font-size="13.4" text-anchor="middle" textLength="13.2" lengthAdjust="spacingAndGlyphs" class="lb">3–4</text>
<rect x="460" y="75" width="15.4" height="11.4" fill="#fff" stroke="#111" stroke-width="0.85" stroke-linejoin="miter"/>
<text x="467.7" y="85.15" font-size="13.4" text-anchor="middle" textLength="13.2" lengthAdjust="spacingAndGlyphs" class="lb">3–5</text>
<rect x="488.5" y="81.3" width="15.4" height="11.4" fill="#fff" stroke="#111" stroke-width="0.85" stroke-linejoin="miter"/>
<text x="496.2" y="91.45" font-size="13.4" text-anchor="middle" textLength="13.2" lengthAdjust="spacingAndGlyphs" class="lb">3–6</text>
<rect x="542.5" y="92.7" width="15.7" height="11.1" fill="#fff" stroke="#111" stroke-width="0.85" stroke-linejoin="miter"/>
<text x="550.35" y="102.55" font-size="13.4" text-anchor="middle" textLength="13.5" lengthAdjust="spacingAndGlyphs" class="lb">3–7</text>
<rect x="599.7" y="104" width="16" height="11.4" fill="#fff" stroke="#111" stroke-width="0.85" stroke-linejoin="miter"/>
<text x="607.7" y="114.15" font-size="13.4" text-anchor="middle" textLength="13.8" lengthAdjust="spacingAndGlyphs" class="lb">3–8</text>
<rect x="655" y="115.4" width="15.9" height="11.1" fill="#fff" stroke="#111" stroke-width="0.85" stroke-linejoin="miter"/>
<text x="662.95" y="125.25" font-size="13.4" text-anchor="middle" textLength="13.7" lengthAdjust="spacingAndGlyphs" class="lb">3–9</text>
<rect x="734.7" y="131.3" width="20.7" height="11.4" fill="#fff" stroke="#111" stroke-width="0.85" stroke-linejoin="miter"/>
<text x="745.05" y="141.45" font-size="13.4" text-anchor="middle" textLength="18.5" lengthAdjust="spacingAndGlyphs" class="lb">3–10</text>
<rect x="775.3" y="141.9" width="20.5" height="10.9" fill="#fff" stroke="#111" stroke-width="0.85" stroke-linejoin="miter"/>
<text x="785.55" y="151.55" font-size="13.4" text-anchor="middle" textLength="18.3" lengthAdjust="spacingAndGlyphs" class="lb">3–11</text>
<rect x="100.5" y="157.9" width="19.7" height="11.3" fill="#fff" stroke="#111" stroke-width="0.85" stroke-linejoin="miter"/>
<text x="110.35" y="167.95" font-size="13.4" text-anchor="middle" textLength="17.5" lengthAdjust="spacingAndGlyphs" class="lb">3–12</text>
<rect x="183.5" y="172.4" width="19.7" height="11" fill="#fff" stroke="#111" stroke-width="0.85" stroke-linejoin="miter"/>
<text x="193.35" y="182.15" font-size="13.4" text-anchor="middle" textLength="17.5" lengthAdjust="spacingAndGlyphs" class="lb">3–13</text>
<rect x="227.9" y="180.6" width="20.5" height="11.3" fill="#fff" stroke="#111" stroke-width="0.85" stroke-linejoin="miter"/>
<text x="238.15" y="190.65" font-size="13.4" text-anchor="middle" textLength="18.3" lengthAdjust="spacingAndGlyphs" class="lb">3–14</text>
<rect x="269.8" y="188.4" width="19.7" height="11.2" fill="#fff" stroke="#111" stroke-width="0.85" stroke-linejoin="miter"/>
<text x="279.65" y="198.35" font-size="13.4" text-anchor="middle" textLength="17.5" lengthAdjust="spacingAndGlyphs" class="lb">3–15</text>
<rect x="310.9" y="196" width="20" height="11.4" fill="#fff" stroke="#111" stroke-width="0.85" stroke-linejoin="miter"/>
<text x="320.9" y="206.15" font-size="13.4" text-anchor="middle" textLength="17.8" lengthAdjust="spacingAndGlyphs" class="lb">3–16</text>
<rect x="377.5" y="208.6" width="20" height="11.4" fill="#fff" stroke="#111" stroke-width="0.85" stroke-linejoin="miter"/>
<text x="387.5" y="218.75" font-size="13.4" text-anchor="middle" textLength="17.8" lengthAdjust="spacingAndGlyphs" class="lb">3–17</text>
<rect x="431" y="218.7" width="20" height="11.4" fill="#fff" stroke="#111" stroke-width="0.85" stroke-linejoin="miter"/>
<text x="441" y="228.85" font-size="13.4" text-anchor="middle" textLength="17.8" lengthAdjust="spacingAndGlyphs" class="lb">3–18</text>
<rect x="467.1" y="225.8" width="19.9" height="11.1" fill="#fff" stroke="#111" stroke-width="0.85" stroke-linejoin="miter"/>
<text x="477.05" y="235.65" font-size="13.4" text-anchor="middle" textLength="17.7" lengthAdjust="spacingAndGlyphs" class="lb">3–19</text>
<rect x="512.7" y="235.1" width="20" height="11.2" fill="#fff" stroke="#111" stroke-width="0.85" stroke-linejoin="miter"/>
<text x="522.7" y="245.05" font-size="13.4" text-anchor="middle" textLength="17.8" lengthAdjust="spacingAndGlyphs" class="lb">3–20</text>
<rect x="555.1" y="242.7" width="20.2" height="11.1" fill="#fff" stroke="#111" stroke-width="0.85" stroke-linejoin="miter"/>
<text x="565.2" y="252.55" font-size="13.4" text-anchor="middle" textLength="18" lengthAdjust="spacingAndGlyphs" class="lb">3–21</text>
<rect x="595" y="249.7" width="19.9" height="11.2" fill="#fff" stroke="#111" stroke-width="0.85" stroke-linejoin="miter"/>
<text x="604.95" y="259.65" font-size="13.4" text-anchor="middle" textLength="17.7" lengthAdjust="spacingAndGlyphs" class="lb">3–22</text>
<rect x="634.3" y="257.1" width="20" height="11.4" fill="#fff" stroke="#111" stroke-width="0.85" stroke-linejoin="miter"/>
<text x="644.3" y="267.25" font-size="13.4" text-anchor="middle" textLength="17.8" lengthAdjust="spacingAndGlyphs" class="lb">3–23</text>
<rect x="696.9" y="268.7" width="20" height="11.4" fill="#fff" stroke="#111" stroke-width="0.85" stroke-linejoin="miter"/>
<text x="706.9" y="278.85" font-size="13.4" text-anchor="middle" textLength="17.8" lengthAdjust="spacingAndGlyphs" class="lb">3–24</text>
<rect x="744.8" y="277.5" width="20.2" height="11.1" fill="#fff" stroke="#111" stroke-width="0.85" stroke-linejoin="miter"/>
<text x="754.9" y="287.35" font-size="13.4" text-anchor="middle" textLength="18" lengthAdjust="spacingAndGlyphs" class="lb">3–25</text>
<rect x="774.6" y="282" width="20.2" height="11.7" fill="#fff" stroke="#111" stroke-width="0.85" stroke-linejoin="miter"/>
<text x="784.7" y="292.45" font-size="13.4" text-anchor="middle" textLength="18" lengthAdjust="spacingAndGlyphs" class="lb">3–26</text>
<rect x="821.2" y="290.4" width="20.3" height="11.4" fill="#fff" stroke="#111" stroke-width="0.85" stroke-linejoin="miter"/>
<text x="831.35" y="300.55" font-size="13.4" text-anchor="middle" textLength="18.1" lengthAdjust="spacingAndGlyphs" class="lb">3–27</text>
<rect x="51.3" y="281.8" width="19.7" height="11.4" fill="#fff" stroke="#111" stroke-width="0.85" stroke-linejoin="miter"/>
<text x="61.15" y="291.95" font-size="13.4" text-anchor="middle" textLength="17.5" lengthAdjust="spacingAndGlyphs" class="lb">3–28</text>
<rect x="95.5" y="289.6" width="19.7" height="11.2" fill="#fff" stroke="#111" stroke-width="0.85" stroke-linejoin="miter"/>
<text x="105.35" y="299.55" font-size="13.4" text-anchor="middle" textLength="17.5" lengthAdjust="spacingAndGlyphs" class="lb">3–29</text>
<rect x="140.4" y="298.4" width="19.9" height="11.2" fill="#fff" stroke="#111" stroke-width="0.85" stroke-linejoin="miter"/>
<text x="150.35" y="308.35" font-size="13.4" text-anchor="middle" textLength="17.7" lengthAdjust="spacingAndGlyphs" class="lb">3–30</text>
<rect x="188.3" y="307" width="6.1" height="11.2" fill="#fff" stroke="#111" stroke-width="0.85" stroke-linejoin="miter"/>
<text x="191.35" y="316.95" font-size="13.4" text-anchor="middle" textLength="3.9" lengthAdjust="spacingAndGlyphs" class="lb">4</text>
<rect x="244.8" y="318.6" width="6.1" height="11.3" fill="#fff" stroke="#111" stroke-width="0.85" stroke-linejoin="miter"/>
<text x="247.85" y="328.65" font-size="13.4" text-anchor="middle" textLength="3.9" lengthAdjust="spacingAndGlyphs" class="lb">5</text>
<rect x="274.6" y="324.2" width="6.1" height="11.4" fill="#fff" stroke="#111" stroke-width="0.85" stroke-linejoin="miter"/>
<text x="277.65" y="334.35" font-size="13.4" text-anchor="middle" textLength="3.9" lengthAdjust="spacingAndGlyphs" class="lb">6</text>
<rect x="308.6" y="330.8" width="19.9" height="11.3" fill="#fff" stroke="#111" stroke-width="0.85" stroke-linejoin="miter"/>
<text x="318.55" y="340.85" font-size="13.4" text-anchor="middle" textLength="17.7" lengthAdjust="spacingAndGlyphs" class="lb">3–31</text>
<rect x="368.9" y="343" width="6.3" height="10.9" fill="#fff" stroke="#111" stroke-width="0.85" stroke-linejoin="miter"/>
<text x="372.05" y="352.65" font-size="13.4" text-anchor="middle" textLength="4.1" lengthAdjust="spacingAndGlyphs" class="lb">7</text>
<rect x="256.4" y="456.2" width="6.3" height="11.4" fill="#fff" stroke="#111" stroke-width="0.85" stroke-linejoin="miter"/>
<text x="259.55" y="466.35" font-size="13.4" text-anchor="middle" textLength="4.1" lengthAdjust="spacingAndGlyphs" class="lb">8</text>
<rect x="303.5" y="459.5" width="6.4" height="11.7" fill="#fff" stroke="#111" stroke-width="0.85" stroke-linejoin="miter"/>
<text x="306.7" y="469.95" font-size="13.4" text-anchor="middle" textLength="4.2" lengthAdjust="spacingAndGlyphs" class="lb">9</text>
<rect x="358.5" y="467.8" width="10.4" height="11.4" fill="#fff" stroke="#111" stroke-width="0.85" stroke-linejoin="miter"/>
<text x="363.7" y="477.95" font-size="13.4" text-anchor="middle" textLength="8.2" lengthAdjust="spacingAndGlyphs" class="lb">10</text>
<rect x="218.6" y="518.8" width="10.6" height="11.7" fill="#fff" stroke="#111" stroke-width="0.85" stroke-linejoin="miter"/>
<text x="223.9" y="529.25" font-size="13.4" text-anchor="middle" textLength="8.4" lengthAdjust="spacingAndGlyphs" class="lb">11</text>
<rect x="50.6" y="551.8" width="10.6" height="10.9" fill="#fff" stroke="#111" stroke-width="0.85" stroke-linejoin="miter"/>
<text x="55.9" y="561.45" font-size="13.4" text-anchor="middle" textLength="8.4" lengthAdjust="spacingAndGlyphs" class="lb">12</text>
<rect x="41" y="630.3" width="10.6" height="10.9" fill="#fff" stroke="#111" stroke-width="0.85" stroke-linejoin="miter"/>
<text x="46.3" y="639.95" font-size="13.4" text-anchor="middle" textLength="8.4" lengthAdjust="spacingAndGlyphs" class="lb">13</text>
<rect x="92.9" y="729.9" width="10.7" height="10.9" fill="#fff" stroke="#111" stroke-width="0.85" stroke-linejoin="miter"/>
<text x="98.25" y="739.55" font-size="13.4" text-anchor="middle" textLength="8.5" lengthAdjust="spacingAndGlyphs" class="lb">14</text>
<rect x="92.9" y="764.6" width="10.7" height="11.4" fill="#fff" stroke="#111" stroke-width="0.85" stroke-linejoin="miter"/>
<text x="98.25" y="774.75" font-size="13.4" text-anchor="middle" textLength="8.5" lengthAdjust="spacingAndGlyphs" class="lb">15</text>
<rect x="92.9" y="785" width="10.7" height="11.5" fill="#fff" stroke="#111" stroke-width="0.85" stroke-linejoin="miter"/>
<text x="98.25" y="795.25" font-size="13.4" text-anchor="middle" textLength="8.5" lengthAdjust="spacingAndGlyphs" class="lb">16</text>
<rect x="440.8" y="613.1" width="10.4" height="11.1" fill="#fff" stroke="#111" stroke-width="0.85" stroke-linejoin="miter"/>
<text x="446" y="622.95" font-size="13.4" text-anchor="middle" textLength="8.2" lengthAdjust="spacingAndGlyphs" class="lb">17</text>
<rect x="440.8" y="636.5" width="10.4" height="11.2" fill="#fff" stroke="#111" stroke-width="0.85" stroke-linejoin="miter"/>
<text x="446" y="646.45" font-size="13.4" text-anchor="middle" textLength="8.2" lengthAdjust="spacingAndGlyphs" class="lb">18</text>
<rect x="436.7" y="709.4" width="11" height="11.4" fill="#fff" stroke="#111" stroke-width="0.85" stroke-linejoin="miter"/>
<text x="442.2" y="719.55" font-size="13.4" text-anchor="middle" textLength="8.8" lengthAdjust="spacingAndGlyphs" class="lb">19</text>
<rect x="436.7" y="756.9" width="11" height="11.1" fill="#fff" stroke="#111" stroke-width="0.85" stroke-linejoin="miter"/>
<text x="442.2" y="766.75" font-size="13.4" text-anchor="middle" textLength="8.8" lengthAdjust="spacingAndGlyphs" class="lb">20</text>
<rect x="436.7" y="774" width="11" height="10.9" fill="#fff" stroke="#111" stroke-width="0.85" stroke-linejoin="miter"/>
<text x="442.2" y="783.65" font-size="13.4" text-anchor="middle" textLength="8.8" lengthAdjust="spacingAndGlyphs" class="lb">21</text>
<rect x="655.1" y="640.9" width="10.9" height="11.1" fill="#fff" stroke="#111" stroke-width="0.85" stroke-linejoin="miter"/>
<text x="660.55" y="650.75" font-size="13.4" text-anchor="middle" textLength="8.7" lengthAdjust="spacingAndGlyphs" class="lb">22</text>
<rect x="434.4" y="823.4" width="11" height="11.5" fill="#fff" stroke="#111" stroke-width="0.85" stroke-linejoin="miter"/>
<text x="439.9" y="833.65" font-size="13.4" text-anchor="middle" textLength="8.8" lengthAdjust="spacingAndGlyphs" class="lb">23</text>
<rect x="712.4" y="692.6" width="10.6" height="11.1" fill="#fff" stroke="#111" stroke-width="0.85" stroke-linejoin="miter"/>
<text x="717.7" y="702.45" font-size="13.4" text-anchor="middle" textLength="8.4" lengthAdjust="spacingAndGlyphs" class="lb">24</text>
</g>
<g transform="translate(649 538) rotate(-17)" >
<rect x="-8.4" y="-2.5" width="9.4" height="5.2" rx="2.5" fill="#111"/>
<ellipse cx="-6.6" cy="0.2" rx="0.9" ry="1.4" fill="#e8e8e8" stroke="#e8e8e8" stroke-width="0.4" />
<ellipse cx="2.2" cy="-0.2" rx="3" ry="4.4" fill="#111" stroke="#111" stroke-width="0.8" />
<path d="M3.2,-3.2 A2.1,3.3 0 0 1 3.2,2.9" fill="none" stroke="#f0f0f0" stroke-width="0.8" />
</g>
<g transform="translate(689 552) rotate(-17)" >
<rect x="-8.4" y="-2.5" width="9.4" height="5.2" rx="2.5" fill="#111"/>
<ellipse cx="-6.6" cy="0.2" rx="0.9" ry="1.4" fill="#e8e8e8" stroke="#e8e8e8" stroke-width="0.4" />
<ellipse cx="2.2" cy="-0.2" rx="3" ry="4.4" fill="#111" stroke="#111" stroke-width="0.8" />
<path d="M3.2,-3.2 A2.1,3.3 0 0 1 3.2,2.9" fill="none" stroke="#f0f0f0" stroke-width="0.8" />
</g>
<g transform="translate(755 569) rotate(-17)" >
<rect x="-8.4" y="-2.5" width="9.4" height="5.2" rx="2.5" fill="#111"/>
<ellipse cx="-6.6" cy="0.2" rx="0.9" ry="1.4" fill="#e8e8e8" stroke="#e8e8e8" stroke-width="0.4" />
<ellipse cx="2.2" cy="-0.2" rx="3" ry="4.4" fill="#111" stroke="#111" stroke-width="0.8" />
<path d="M3.2,-3.2 A2.1,3.3 0 0 1 3.2,2.9" fill="none" stroke="#f0f0f0" stroke-width="0.8" />
</g>
<g transform="translate(614 603) rotate(-17)" >
<rect x="-8.4" y="-2.5" width="9.4" height="5.2" rx="2.5" fill="#111"/>
<ellipse cx="-6.6" cy="0.2" rx="0.9" ry="1.4" fill="#e8e8e8" stroke="#e8e8e8" stroke-width="0.4" />
<ellipse cx="2.2" cy="-0.2" rx="3" ry="4.4" fill="#111" stroke="#111" stroke-width="0.8" />
<path d="M3.2,-3.2 A2.1,3.3 0 0 1 3.2,2.9" fill="none" stroke="#f0f0f0" stroke-width="0.8" />
</g>
<g transform="translate(675 616) rotate(-17)" >
<rect x="-8.4" y="-2.5" width="9.4" height="5.2" rx="2.5" fill="#111"/>
<ellipse cx="-6.6" cy="0.2" rx="0.9" ry="1.4" fill="#e8e8e8" stroke="#e8e8e8" stroke-width="0.4" />
<ellipse cx="2.2" cy="-0.2" rx="3" ry="4.4" fill="#111" stroke="#111" stroke-width="0.8" />
<path d="M3.2,-3.2 A2.1,3.3 0 0 1 3.2,2.9" fill="none" stroke="#f0f0f0" stroke-width="0.8" />
</g>
<g transform="translate(717 635) rotate(-17)" >
<rect x="-8.4" y="-2.5" width="9.4" height="5.2" rx="2.5" fill="#111"/>
<ellipse cx="-6.6" cy="0.2" rx="0.9" ry="1.4" fill="#e8e8e8" stroke="#e8e8e8" stroke-width="0.4" />
<ellipse cx="2.2" cy="-0.2" rx="3" ry="4.4" fill="#111" stroke="#111" stroke-width="0.8" />
<path d="M3.2,-3.2 A2.1,3.3 0 0 1 3.2,2.9" fill="none" stroke="#f0f0f0" stroke-width="0.8" />
</g>
<g transform="translate(580 639) rotate(-17)" >
<rect x="-8.4" y="-2.5" width="9.4" height="5.2" rx="2.5" fill="#111"/>
<ellipse cx="-6.6" cy="0.2" rx="0.9" ry="1.4" fill="#e8e8e8" stroke="#e8e8e8" stroke-width="0.4" />
<ellipse cx="2.2" cy="-0.2" rx="3" ry="4.4" fill="#111" stroke="#111" stroke-width="0.8" />
<path d="M3.2,-3.2 A2.1,3.3 0 0 1 3.2,2.9" fill="none" stroke="#f0f0f0" stroke-width="0.8" />
</g>
<g transform="translate(618 640) rotate(-17)" >
<rect x="-8.4" y="-2.5" width="9.4" height="5.2" rx="2.5" fill="#111"/>
<ellipse cx="-6.6" cy="0.2" rx="0.9" ry="1.4" fill="#e8e8e8" stroke="#e8e8e8" stroke-width="0.4" />
<ellipse cx="2.2" cy="-0.2" rx="3" ry="4.4" fill="#111" stroke="#111" stroke-width="0.8" />
<path d="M3.2,-3.2 A2.1,3.3 0 0 1 3.2,2.9" fill="none" stroke="#f0f0f0" stroke-width="0.8" />
</g>
<g transform="translate(587 719) rotate(-17)" >
<rect x="-8.4" y="-2.5" width="9.4" height="5.2" rx="2.5" fill="#111"/>
<ellipse cx="-6.6" cy="0.2" rx="0.9" ry="1.4" fill="#e8e8e8" stroke="#e8e8e8" stroke-width="0.4" />
<ellipse cx="2.2" cy="-0.2" rx="3" ry="4.4" fill="#111" stroke="#111" stroke-width="0.8" />
<path d="M3.2,-3.2 A2.1,3.3 0 0 1 3.2,2.9" fill="none" stroke="#f0f0f0" stroke-width="0.8" />
</g>
<g transform="translate(625 719) rotate(-17)" >
<rect x="-8.4" y="-2.5" width="9.4" height="5.2" rx="2.5" fill="#111"/>
<ellipse cx="-6.6" cy="0.2" rx="0.9" ry="1.4" fill="#e8e8e8" stroke="#e8e8e8" stroke-width="0.4" />
<ellipse cx="2.2" cy="-0.2" rx="3" ry="4.4" fill="#111" stroke="#111" stroke-width="0.8" />
<path d="M3.2,-3.2 A2.1,3.3 0 0 1 3.2,2.9" fill="none" stroke="#f0f0f0" stroke-width="0.8" />
</g>
</svg>
</body></html>
